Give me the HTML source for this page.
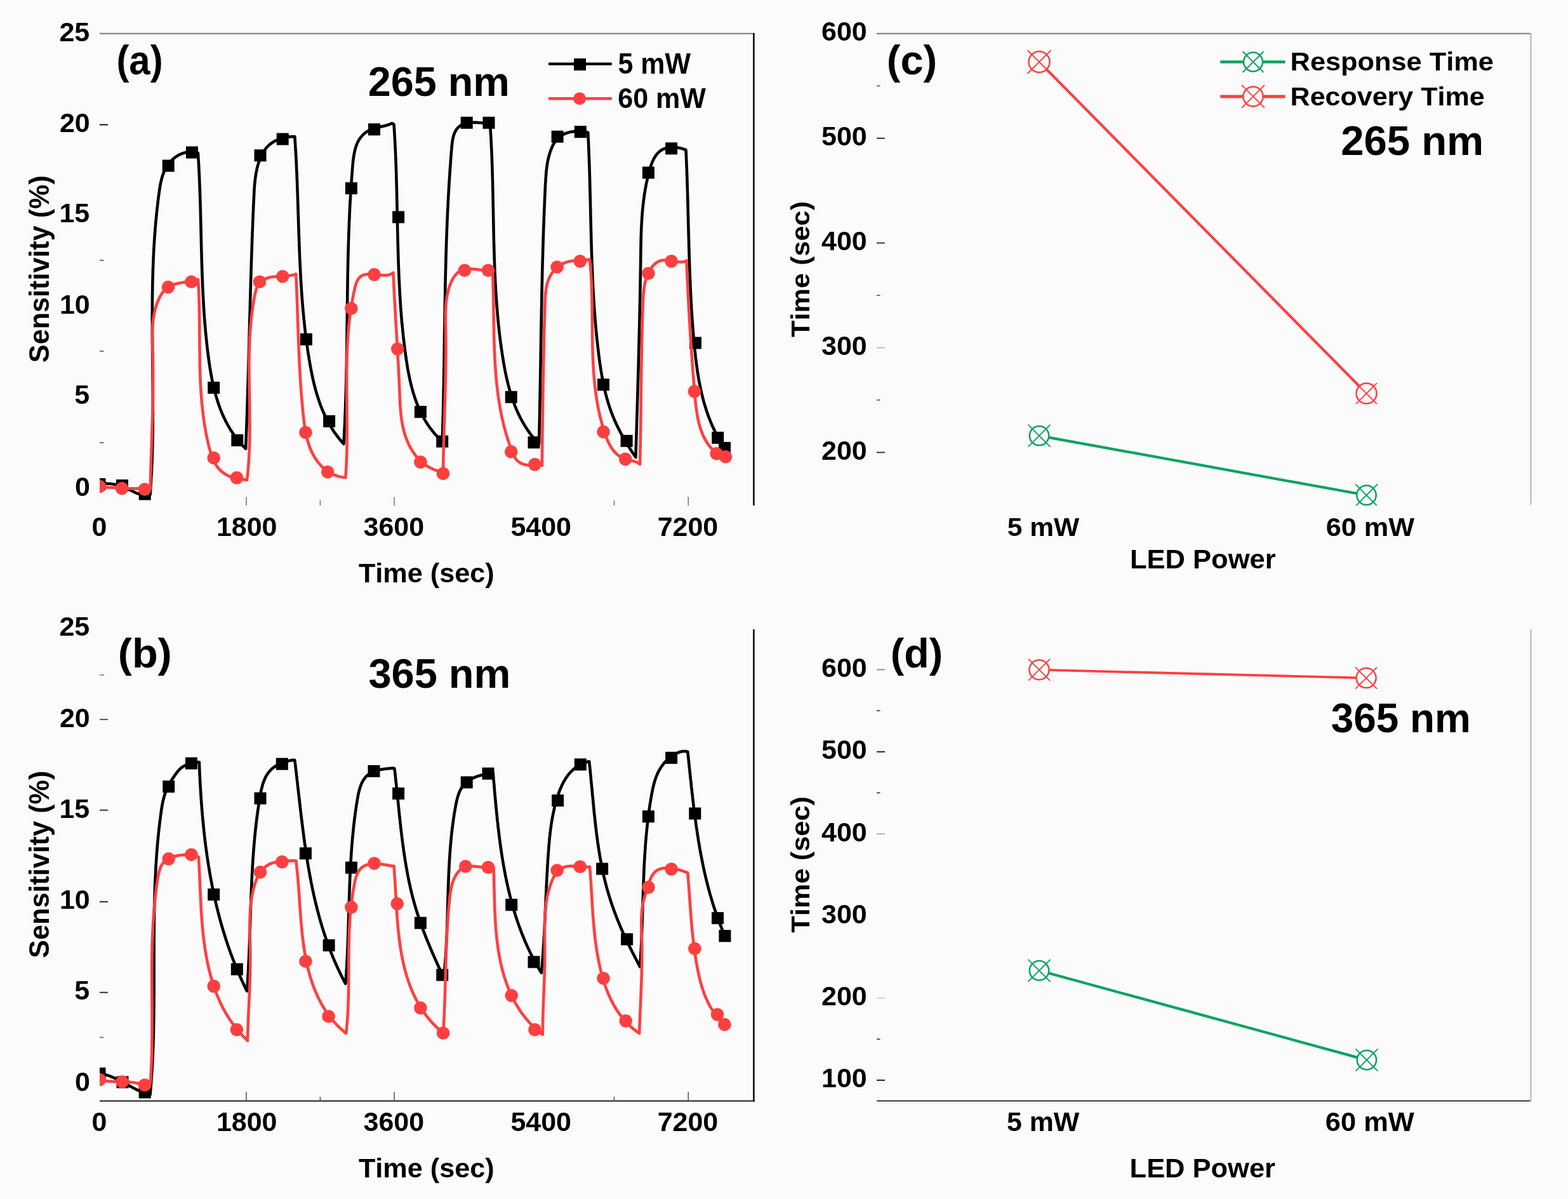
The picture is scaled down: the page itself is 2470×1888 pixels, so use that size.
<!DOCTYPE html><html><head><meta charset="utf-8"><style>html,body{margin:0;padding:0;background:#fcfbfc;}svg{display:block;}text{font-family:'Liberation Sans', Arial, sans-serif;font-weight:bold;fill:#000;font-kerning:none;}</style></head><body>
<svg width="2470" height="1888" viewBox="0 0 2470 1888">
<rect width="2470" height="1888" fill="#fcfbfc"/>
<line x1="157.0" y1="52.8" x2="1188.6" y2="52.8" stroke="#7f8a80" stroke-width="2.3"/>
<line x1="1187.4" y1="52.0" x2="1187.4" y2="796.0" stroke="#000" stroke-width="2.5"/>
<line x1="157.0" y1="196.4" x2="170.0" y2="196.4" stroke="#111" stroke-width="2.0"/>
<line x1="157.0" y1="410.0" x2="163.5" y2="410.0" stroke="#555" stroke-width="1.6"/>
<line x1="157.0" y1="553.0" x2="163.5" y2="553.0" stroke="#555" stroke-width="1.6"/>
<line x1="157.0" y1="697.0" x2="163.5" y2="697.0" stroke="#555" stroke-width="1.6"/>
<line x1="388.0" y1="782.5" x2="388.0" y2="796.0" stroke="#666" stroke-width="1.4"/>
<line x1="621.0" y1="782.5" x2="621.0" y2="796.0" stroke="#666" stroke-width="1.4"/>
<line x1="1084.2" y1="782.5" x2="1084.2" y2="796.0" stroke="#666" stroke-width="1.4"/>
<line x1="504.4" y1="787.8" x2="504.4" y2="796.0" stroke="#666" stroke-width="1.4"/>
<line x1="967.5" y1="787.8" x2="967.5" y2="796.0" stroke="#666" stroke-width="1.4"/>
<text transform="translate(93.42 64.59) scale(1.0250 1)" font-size="41.90">25</text>
<text transform="translate(93.99 207.99) scale(1.0250 1)" font-size="41.90">20</text>
<text transform="translate(93.42 350.29) scale(1.0250 1)" font-size="41.90">15</text>
<text transform="translate(93.99 493.89) scale(1.0250 1)" font-size="41.90">10</text>
<text transform="translate(117.31 636.39) scale(1.0250 1)" font-size="41.90">5</text>
<text transform="translate(117.88 780.59) scale(1.0250 1)" font-size="41.90">0</text>
<text transform="translate(144.59 844.39) scale(1.0250 1)" font-size="41.90">0</text>
<text transform="translate(340.96 844.39) scale(1.0250 1)" font-size="41.90">1800</text>
<text transform="translate(572.52 844.33) scale(1.0250 1)" font-size="41.90">3600</text>
<text transform="translate(804.45 844.39) scale(1.0250 1)" font-size="41.90">5400</text>
<text transform="translate(1035.69 844.39) scale(1.0250 1)" font-size="41.90">7200</text>
<text transform="translate(564.91 916.81) scale(0.9979 1)" font-size="43.34">Time (sec)</text>
<text transform="translate(0 569.90) rotate(-90) translate(-1.24 76.66) scale(0.9909 1)" font-size="43.56">Sensitivity (%)</text>
<text transform="translate(183.42 116.53) scale(0.9362 1)" font-size="63.94">(a)</text>
<text transform="translate(579.76 151.16) scale(0.9940 1)" font-size="65.11">265 nm</text>
<line x1="864.0" y1="100.6" x2="963.7" y2="100.6" stroke="#000" stroke-width="4.4"/>
<rect x="904" y="92" width="19" height="19" fill="#000"/>
<line x1="864.0" y1="155.3" x2="963.7" y2="155.3" stroke="#FF3F3F" stroke-width="4.4"/>
<circle cx="913" cy="155.3" r="10" fill="#FF3F3F"/>
<text transform="translate(973.48 116.05) scale(0.9251 1)" font-size="46.43">5 mW</text>
<text transform="translate(973.22 169.86) scale(0.9529 1)" font-size="45.20">60 mW</text>
<g clip-path="url(#clipa)">
<path d="M157.0 762.0 L159.0 761.8 L161.0 761.7 L163.0 761.6 L165.0 761.5 L167.0 761.5 L169.0 761.6 L171.1 761.7 L173.1 761.8 L175.1 762.0 L177.2 762.2 L179.2 762.5 L181.2 762.9 L183.2 763.3 L185.1 763.7 L187.1 764.2 L189.0 764.8 L190.9 765.4 L192.8 766.1 L194.7 766.9 L196.6 767.6 L198.4 768.5 L200.2 769.3 L202.0 770.2 L203.8 771.1 L205.6 772.0 L207.4 772.9 L209.2 773.8 L211.0 774.7 L212.8 775.5 L214.7 776.3 L216.5 777.0 L218.4 777.6 L220.3 778.2 L222.2 778.7 L224.1 779.0 L226.1 779.3 L228.1 779.4 L230.2 779.5 L232.2 779.4 L234.3 779.3 L236.5 779.0 L236.7 777.0 L236.8 775.0 L236.9 773.0 L237.1 771.0 L237.2 769.0 L237.4 767.0 L237.5 765.0 L237.6 763.0 L237.8 761.0 L237.9 759.0 L238.0 757.0 L238.1 755.0 L238.2 753.0 L238.3 751.0 L238.5 749.0 L238.6 747.0 L238.7 745.0 L238.8 743.0 L238.9 741.0 L239.0 739.0 L239.0 737.0 L239.1 735.0 L239.2 733.0 L239.3 731.0 L239.4 729.0 L239.5 727.0 L239.5 725.0 L239.6 723.0 L239.7 721.0 L239.8 719.0 L239.8 717.0 L239.9 715.0 L239.9 713.0 L240.0 711.0 L240.1 709.0 L240.1 707.0 L240.2 704.9 L240.2 702.9 L240.3 700.9 L240.3 698.9 L240.4 696.9 L240.4 694.9 L240.4 692.9 L240.5 690.9 L240.5 688.9 L240.5 686.9 L240.6 684.9 L240.6 682.9 L240.6 680.9 L240.7 678.9 L240.7 676.9 L240.7 674.9 L240.7 672.9 L240.8 670.9 L240.8 668.9 L240.8 666.9 L240.8 664.9 L240.8 662.9 L240.8 660.9 L240.8 658.9 L240.8 656.9 L240.9 654.9 L240.9 652.9 L240.9 650.9 L240.9 648.9 L240.9 646.9 L240.9 644.9 L240.9 642.9 L240.9 640.9 L240.9 638.9 L240.9 636.9 L240.9 634.9 L240.9 632.8 L240.9 630.8 L240.8 628.8 L240.8 626.8 L240.8 624.8 L240.8 622.8 L240.8 620.8 L240.8 618.8 L240.8 616.8 L240.8 614.8 L240.8 612.8 L240.7 610.8 L240.7 608.8 L240.7 606.8 L240.7 604.8 L240.7 602.8 L240.7 600.8 L240.6 598.8 L240.6 596.8 L240.6 594.8 L240.6 592.8 L240.6 590.8 L240.5 588.8 L240.5 586.8 L240.5 584.8 L240.5 582.8 L240.5 580.8 L240.4 578.8 L240.4 576.8 L240.4 574.8 L240.4 572.7 L240.4 570.7 L240.3 568.7 L240.3 566.7 L240.3 564.7 L240.3 562.7 L240.2 560.7 L240.2 558.7 L240.2 556.7 L240.2 554.7 L240.2 552.7 L240.1 550.7 L240.1 548.7 L240.1 546.7 L240.1 544.7 L240.1 542.7 L240.1 540.7 L240.0 538.7 L240.0 536.7 L240.0 534.7 L240.0 532.7 L240.0 530.7 L240.0 528.7 L239.9 526.7 L239.9 524.7 L239.9 522.7 L239.9 520.7 L239.9 518.7 L239.9 516.7 L239.9 514.7 L239.9 512.7 L239.9 510.7 L239.9 508.7 L239.9 506.6 L239.8 504.6 L239.8 502.6 L239.8 500.6 L239.8 498.6 L239.8 496.6 L239.8 494.6 L239.8 492.6 L239.9 490.6 L239.9 488.6 L239.9 486.6 L239.9 484.6 L239.9 482.6 L239.9 480.6 L239.9 478.6 L239.9 476.6 L239.9 474.6 L240.0 472.6 L240.0 470.6 L240.0 468.6 L240.0 466.6 L240.0 464.6 L240.1 462.6 L240.1 460.6 L240.1 458.6 L240.2 456.6 L240.2 454.6 L240.2 452.6 L240.3 450.6 L240.3 448.6 L240.3 446.6 L240.4 444.6 L240.4 442.6 L240.5 440.6 L240.5 438.6 L240.6 436.6 L240.6 434.6 L240.7 432.6 L240.8 430.6 L240.8 428.6 L240.9 426.6 L240.9 424.6 L241.0 422.6 L241.1 420.6 L241.2 418.6 L241.2 416.6 L241.3 414.6 L241.4 412.6 L241.5 410.6 L241.6 408.6 L241.6 406.6 L241.7 404.6 L241.8 402.6 L241.9 400.6 L242.0 398.6 L242.1 396.6 L242.2 394.6 L242.3 392.6 L242.4 390.6 L242.6 388.6 L242.7 386.6 L242.8 384.6 L242.9 382.6 L243.0 380.6 L243.2 378.6 L243.3 376.6 L243.4 374.6 L243.6 372.6 L243.7 370.6 L243.9 368.6 L244.0 366.6 L244.2 364.6 L244.3 362.6 L244.5 360.6 L244.6 358.6 L244.8 356.6 L245.0 354.6 L245.1 352.6 L245.3 350.6 L245.5 348.6 L245.7 346.6 L245.9 344.6 L246.1 342.6 L246.3 340.6 L246.5 338.6 L246.7 336.6 L246.9 334.6 L247.1 332.6 L247.3 330.6 L247.5 328.6 L247.7 326.6 L248.0 324.6 L248.2 322.6 L248.4 320.6 L248.7 318.6 L248.9 316.6 L249.1 314.7 L249.4 312.7 L249.6 310.7 L249.9 308.7 L250.2 306.7 L250.4 304.7 L250.7 302.7 L251.0 300.7 L251.3 298.7 L251.6 296.7 L251.9 294.7 L252.2 292.7 L252.6 290.8 L252.9 288.8 L253.4 286.8 L253.8 284.9 L254.3 283.0 L254.8 281.1 L255.3 279.1 L255.9 277.3 L256.5 275.4 L257.2 273.5 L257.9 271.7 L258.7 269.9 L259.5 268.1 L260.4 266.3 L261.4 264.6 L262.4 262.9 L263.4 261.2 L264.5 259.6 L265.7 258.0 L266.9 256.5 L268.1 255.0 L269.5 253.5 L270.8 252.1 L272.2 250.8 L273.7 249.5 L275.2 248.2 L276.8 247.1 L278.4 246.0 L280.1 245.0 L281.8 244.0 L283.6 243.2 L285.4 242.4 L287.2 241.7 L289.1 241.0 L291.0 240.5 L293.0 240.1 L295.0 239.7 L297.0 239.5 L299.0 239.4 L301.1 239.4 L303.2 239.5 L305.4 239.7 L307.5 240.0 L309.7 240.4 L311.9 241.0 L312.0 243.0 L312.2 245.0 L312.3 247.0 L312.4 248.9 L312.5 250.9 L312.7 252.9 L312.8 254.9 L312.9 256.9 L313.0 258.9 L313.1 260.9 L313.2 262.9 L313.3 264.9 L313.4 266.9 L313.5 268.9 L313.6 270.8 L313.7 272.8 L313.8 274.8 L313.9 276.8 L314.0 278.8 L314.1 280.8 L314.2 282.8 L314.2 284.8 L314.3 286.8 L314.4 288.8 L314.5 290.8 L314.6 292.8 L314.6 294.8 L314.7 296.8 L314.8 298.8 L314.9 300.8 L314.9 302.8 L315.0 304.8 L315.1 306.8 L315.1 308.8 L315.2 310.8 L315.3 312.8 L315.3 314.8 L315.4 316.8 L315.4 318.8 L315.5 320.8 L315.6 322.8 L315.6 324.8 L315.7 326.8 L315.7 328.8 L315.8 330.8 L315.8 332.8 L315.9 334.8 L315.9 336.9 L316.0 338.9 L316.0 340.9 L316.1 342.9 L316.1 344.9 L316.2 346.9 L316.2 348.9 L316.3 350.9 L316.3 352.9 L316.4 354.9 L316.4 356.9 L316.5 358.9 L316.5 360.9 L316.6 363.0 L316.6 365.0 L316.7 367.0 L316.7 369.0 L316.8 371.0 L316.8 373.0 L316.9 375.0 L316.9 377.0 L316.9 379.0 L317.0 381.0 L317.0 383.1 L317.1 385.1 L317.1 387.1 L317.2 389.1 L317.2 391.1 L317.3 393.1 L317.3 395.1 L317.4 397.1 L317.5 399.1 L317.5 401.2 L317.6 403.2 L317.6 405.2 L317.7 407.2 L317.7 409.2 L317.8 411.2 L317.8 413.2 L317.9 415.2 L318.0 417.3 L318.0 419.3 L318.1 421.3 L318.2 423.3 L318.2 425.3 L318.3 427.3 L318.4 429.3 L318.4 431.3 L318.5 433.4 L318.6 435.4 L318.7 437.4 L318.7 439.4 L318.8 441.4 L318.9 443.4 L319.0 445.4 L319.1 447.4 L319.1 449.5 L319.2 451.5 L319.3 453.5 L319.4 455.5 L319.5 457.5 L319.6 459.5 L319.7 461.5 L319.8 463.5 L319.9 465.5 L320.0 467.6 L320.1 469.6 L320.2 471.6 L320.3 473.6 L320.4 475.6 L320.6 477.6 L320.7 479.6 L320.8 481.6 L320.9 483.6 L321.0 485.7 L321.2 487.7 L321.3 489.7 L321.4 491.7 L321.6 493.7 L321.7 495.7 L321.9 497.7 L322.0 499.7 L322.2 501.7 L322.3 503.7 L322.5 505.8 L322.6 507.8 L322.8 509.8 L322.9 511.8 L323.1 513.8 L323.3 515.8 L323.5 517.8 L323.6 519.8 L323.8 521.8 L324.0 523.8 L324.2 525.8 L324.4 527.8 L324.6 529.8 L324.8 531.8 L325.0 533.8 L325.2 535.8 L325.4 537.8 L325.6 539.9 L325.8 541.9 L326.1 543.9 L326.3 545.9 L326.5 547.9 L326.7 549.9 L327.0 551.9 L327.2 553.9 L327.5 555.9 L327.7 557.9 L328.0 559.9 L328.2 561.9 L328.5 563.9 L328.8 565.9 L329.1 567.9 L329.3 569.9 L329.6 571.8 L329.9 573.8 L330.2 575.8 L330.5 577.8 L330.8 579.8 L331.2 581.8 L331.5 583.8 L331.8 585.8 L332.2 587.7 L332.5 589.7 L332.9 591.7 L333.3 593.6 L333.6 595.6 L334.0 597.6 L334.4 599.5 L334.8 601.5 L335.2 603.4 L335.7 605.4 L336.1 607.3 L336.6 609.3 L337.0 611.2 L337.5 613.1 L338.0 615.1 L338.5 617.0 L339.0 618.9 L339.5 620.8 L340.0 622.7 L340.6 624.6 L341.2 626.5 L341.7 628.4 L342.3 630.3 L342.9 632.2 L343.5 634.1 L344.2 635.9 L344.8 637.8 L345.5 639.6 L346.1 641.5 L346.8 643.3 L347.5 645.1 L348.3 647.0 L349.0 648.8 L349.7 650.6 L350.5 652.4 L351.3 654.2 L352.1 656.0 L352.9 657.8 L353.8 659.5 L354.6 661.3 L355.5 663.1 L356.4 664.8 L357.3 666.5 L358.3 668.3 L359.2 670.0 L360.2 671.7 L361.2 673.4 L362.2 675.1 L363.2 676.8 L364.3 678.4 L365.4 680.1 L366.5 681.8 L367.6 683.4 L368.7 685.0 L369.9 686.7 L371.1 688.3 L372.3 689.9 L373.5 691.5 L374.8 693.0 L376.0 694.6 L377.3 696.1 L378.6 697.7 L380.0 699.2 L381.4 700.7 L382.8 702.3 L384.2 703.7 L385.6 705.2 L387.1 706.7 L387.2 704.7 L387.3 702.7 L387.3 700.6 L387.4 698.6 L387.5 696.6 L387.6 694.6 L387.7 692.6 L387.7 690.5 L387.8 688.5 L387.9 686.5 L388.0 684.5 L388.0 682.5 L388.1 680.4 L388.2 678.4 L388.3 676.4 L388.3 674.4 L388.4 672.4 L388.5 670.4 L388.5 668.4 L388.6 666.3 L388.7 664.3 L388.7 662.3 L388.8 660.3 L388.9 658.3 L389.0 656.3 L389.0 654.3 L389.1 652.3 L389.2 650.3 L389.2 648.3 L389.3 646.2 L389.4 644.2 L389.4 642.2 L389.5 640.2 L389.5 638.2 L389.6 636.2 L389.7 634.2 L389.7 632.2 L389.8 630.2 L389.9 628.2 L389.9 626.2 L390.0 624.2 L390.0 622.2 L390.1 620.2 L390.2 618.2 L390.2 616.2 L390.3 614.2 L390.3 612.2 L390.4 610.2 L390.5 608.2 L390.5 606.1 L390.6 604.1 L390.6 602.1 L390.7 600.1 L390.8 598.1 L390.8 596.1 L390.9 594.1 L390.9 592.1 L391.0 590.1 L391.0 588.1 L391.1 586.1 L391.2 584.1 L391.2 582.1 L391.3 580.1 L391.3 578.1 L391.4 576.1 L391.4 574.1 L391.5 572.1 L391.5 570.1 L391.6 568.2 L391.7 566.2 L391.7 564.2 L391.8 562.2 L391.8 560.2 L391.9 558.2 L391.9 556.2 L392.0 554.2 L392.0 552.2 L392.1 550.2 L392.1 548.2 L392.2 546.2 L392.3 544.2 L392.3 542.2 L392.4 540.2 L392.4 538.2 L392.5 536.2 L392.5 534.2 L392.6 532.2 L392.6 530.2 L392.7 528.2 L392.7 526.2 L392.8 524.2 L392.8 522.2 L392.9 520.2 L392.9 518.2 L393.0 516.2 L393.1 514.2 L393.1 512.2 L393.2 510.2 L393.2 508.2 L393.3 506.2 L393.3 504.2 L393.4 502.2 L393.4 500.2 L393.5 498.2 L393.5 496.2 L393.6 494.2 L393.6 492.2 L393.7 490.2 L393.8 488.3 L393.8 486.3 L393.9 484.3 L393.9 482.3 L394.0 480.3 L394.0 478.3 L394.1 476.3 L394.1 474.3 L394.2 472.3 L394.3 470.3 L394.3 468.3 L394.4 466.3 L394.4 464.3 L394.5 462.3 L394.5 460.3 L394.6 458.3 L394.6 456.3 L394.7 454.3 L394.8 452.2 L394.8 450.2 L394.9 448.2 L394.9 446.2 L395.0 444.2 L395.1 442.2 L395.1 440.2 L395.2 438.2 L395.2 436.2 L395.3 434.2 L395.4 432.2 L395.4 430.2 L395.5 428.2 L395.5 426.2 L395.6 424.2 L395.7 422.2 L395.7 420.2 L395.8 418.2 L395.9 416.2 L395.9 414.2 L396.0 412.1 L396.1 410.1 L396.1 408.1 L396.2 406.1 L396.2 404.1 L396.3 402.1 L396.4 400.1 L396.4 398.1 L396.5 396.1 L396.6 394.0 L396.7 392.0 L396.7 390.0 L396.8 388.0 L396.9 386.0 L396.9 384.0 L397.0 382.0 L397.1 379.9 L397.1 377.9 L397.2 375.9 L397.3 373.9 L397.4 371.9 L397.4 369.9 L397.5 367.8 L397.6 365.8 L397.7 363.8 L397.7 361.8 L397.8 359.8 L397.9 357.7 L398.0 355.7 L398.1 353.7 L398.1 351.7 L398.2 349.7 L398.3 347.6 L398.4 345.6 L398.5 343.6 L398.5 341.5 L398.6 339.5 L398.7 337.5 L398.8 335.5 L398.9 333.4 L399.0 331.4 L399.1 329.4 L399.1 327.3 L399.2 325.3 L399.3 323.3 L399.4 321.3 L399.5 319.2 L399.6 317.2 L399.7 315.1 L399.8 313.1 L399.9 311.1 L400.0 309.0 L400.1 307.0 L400.2 305.0 L400.3 302.9 L400.4 300.9 L400.5 298.9 L400.6 296.8 L400.8 294.8 L400.9 292.8 L401.1 290.8 L401.3 288.8 L401.5 286.8 L401.7 284.8 L401.9 282.8 L402.1 280.8 L402.4 278.8 L402.7 276.8 L403.0 274.8 L403.3 272.9 L403.7 270.9 L404.1 269.0 L404.5 267.1 L404.9 265.1 L405.4 263.2 L405.9 261.3 L406.4 259.5 L407.0 257.6 L407.6 255.7 L408.2 253.9 L408.9 252.1 L409.6 250.2 L410.4 248.4 L411.1 246.6 L412.0 244.9 L412.8 243.1 L413.8 241.4 L414.7 239.7 L415.8 238.0 L416.8 236.4 L418.0 234.8 L419.2 233.3 L420.4 231.8 L421.8 230.4 L423.2 229.1 L424.6 227.8 L426.1 226.6 L427.7 225.4 L429.4 224.3 L431.0 223.3 L432.8 222.3 L434.5 221.4 L436.3 220.5 L438.2 219.7 L440.1 219.0 L442.0 218.4 L443.9 217.7 L445.9 217.2 L447.9 216.7 L449.9 216.3 L451.9 215.9 L454.0 215.6 L456.0 215.4 L458.1 215.2 L460.2 215.1 L462.2 215.0 L464.3 215.0 L464.4 217.0 L464.6 219.0 L464.7 221.0 L464.8 222.9 L465.0 224.9 L465.1 226.9 L465.2 228.9 L465.3 230.9 L465.5 232.9 L465.6 234.9 L465.7 236.9 L465.8 238.9 L465.9 240.9 L466.0 242.8 L466.2 244.8 L466.3 246.8 L466.4 248.8 L466.5 250.8 L466.6 252.8 L466.7 254.8 L466.8 256.8 L466.9 258.8 L467.0 260.8 L467.0 262.8 L467.1 264.8 L467.2 266.8 L467.3 268.8 L467.4 270.8 L467.5 272.8 L467.6 274.8 L467.7 276.8 L467.7 278.8 L467.8 280.8 L467.9 282.8 L468.0 284.8 L468.1 286.8 L468.1 288.8 L468.2 290.8 L468.3 292.8 L468.3 294.8 L468.4 296.8 L468.5 298.8 L468.6 300.8 L468.6 302.8 L468.7 304.8 L468.8 306.8 L468.8 308.8 L468.9 310.8 L469.0 312.8 L469.0 314.8 L469.1 316.8 L469.2 318.8 L469.2 320.8 L469.3 322.8 L469.4 324.8 L469.4 326.8 L469.5 328.8 L469.6 330.8 L469.6 332.8 L469.7 334.8 L469.7 336.8 L469.8 338.8 L469.9 340.8 L469.9 342.8 L470.0 344.8 L470.1 346.8 L470.1 348.9 L470.2 350.9 L470.2 352.9 L470.3 354.9 L470.4 356.9 L470.4 358.9 L470.5 360.9 L470.6 362.9 L470.6 364.9 L470.7 366.9 L470.8 368.9 L470.8 370.9 L470.9 372.9 L471.0 374.9 L471.0 376.9 L471.1 378.9 L471.2 380.9 L471.3 382.9 L471.3 384.9 L471.4 387.0 L471.5 389.0 L471.6 391.0 L471.6 393.0 L471.7 395.0 L471.8 397.0 L471.9 399.0 L472.0 401.0 L472.0 403.0 L472.1 405.0 L472.2 407.0 L472.3 409.0 L472.4 411.0 L472.5 413.0 L472.6 415.0 L472.7 417.0 L472.8 419.0 L472.9 421.0 L473.0 423.0 L473.1 425.0 L473.2 427.0 L473.3 429.0 L473.4 431.0 L473.5 433.0 L473.6 435.0 L473.7 437.0 L473.8 439.1 L473.9 441.1 L474.0 443.1 L474.2 445.1 L474.3 447.1 L474.4 449.1 L474.5 451.1 L474.7 453.1 L474.8 455.1 L474.9 457.1 L475.1 459.1 L475.2 461.1 L475.3 463.1 L475.5 465.1 L475.6 467.0 L475.8 469.0 L475.9 471.0 L476.1 473.0 L476.2 475.0 L476.4 477.0 L476.6 479.0 L476.7 481.0 L476.9 483.0 L477.1 485.0 L477.2 487.0 L477.4 489.0 L477.6 491.0 L477.8 493.0 L478.0 495.0 L478.2 497.0 L478.4 499.0 L478.5 501.0 L478.7 503.0 L479.0 504.9 L479.2 506.9 L479.4 508.9 L479.6 510.9 L479.8 512.9 L480.0 514.9 L480.2 516.9 L480.5 518.9 L480.7 520.9 L480.9 522.8 L481.2 524.8 L481.4 526.8 L481.7 528.8 L481.9 530.8 L482.2 532.8 L482.4 534.8 L482.7 536.7 L482.9 538.7 L483.2 540.7 L483.5 542.7 L483.8 544.7 L484.1 546.6 L484.3 548.6 L484.6 550.6 L484.9 552.6 L485.2 554.6 L485.5 556.5 L485.8 558.5 L486.2 560.5 L486.5 562.5 L486.8 564.4 L487.1 566.4 L487.5 568.4 L487.8 570.4 L488.1 572.3 L488.5 574.3 L488.8 576.3 L489.2 578.2 L489.6 580.2 L489.9 582.2 L490.3 584.1 L490.7 586.1 L491.1 588.1 L491.5 590.0 L491.9 592.0 L492.3 593.9 L492.7 595.9 L493.2 597.8 L493.6 599.8 L494.1 601.7 L494.5 603.6 L495.0 605.6 L495.5 607.5 L496.0 609.4 L496.5 611.3 L497.0 613.3 L497.5 615.2 L498.1 617.1 L498.6 619.0 L499.2 620.9 L499.8 622.8 L500.4 624.7 L501.0 626.5 L501.6 628.4 L502.2 630.3 L502.8 632.2 L503.5 634.0 L504.2 635.9 L504.8 637.7 L505.5 639.6 L506.3 641.4 L507.0 643.2 L507.7 645.1 L508.5 646.9 L509.3 648.7 L510.1 650.5 L510.9 652.3 L511.7 654.1 L512.5 655.9 L513.4 657.6 L514.3 659.4 L515.2 661.2 L516.1 662.9 L517.0 664.6 L518.0 666.4 L518.9 668.1 L519.9 669.8 L520.9 671.5 L522.0 673.2 L523.0 674.9 L524.1 676.6 L525.2 678.2 L526.3 679.9 L527.4 681.6 L528.6 683.2 L529.8 684.8 L531.0 686.4 L532.2 688.0 L533.4 689.6 L534.7 691.2 L536.0 692.8 L537.3 694.4 L538.7 695.9 L540.0 697.5 L541.4 699.0 L541.5 697.0 L541.6 695.0 L541.8 693.0 L541.9 690.9 L542.0 688.9 L542.1 686.9 L542.2 684.9 L542.3 682.9 L542.4 680.9 L542.5 678.9 L542.6 676.9 L542.7 674.9 L542.8 672.9 L542.9 670.8 L543.0 668.8 L543.1 666.8 L543.2 664.8 L543.3 662.8 L543.3 660.8 L543.4 658.8 L543.5 656.8 L543.6 654.8 L543.7 652.8 L543.8 650.8 L543.8 648.8 L543.9 646.8 L544.0 644.8 L544.1 642.8 L544.1 640.8 L544.2 638.8 L544.3 636.8 L544.3 634.8 L544.4 632.8 L544.5 630.8 L544.5 628.8 L544.6 626.8 L544.6 624.8 L544.7 622.8 L544.8 620.8 L544.8 618.8 L544.9 616.8 L544.9 614.8 L545.0 612.8 L545.0 610.8 L545.1 608.8 L545.1 606.8 L545.2 604.8 L545.2 602.8 L545.3 600.8 L545.3 598.8 L545.4 596.8 L545.4 594.8 L545.5 592.8 L545.5 590.8 L545.6 588.8 L545.6 586.8 L545.6 584.8 L545.7 582.8 L545.7 580.8 L545.8 578.8 L545.8 576.8 L545.8 574.9 L545.9 572.9 L545.9 570.9 L545.9 568.9 L546.0 566.9 L546.0 564.9 L546.0 562.9 L546.1 560.9 L546.1 558.9 L546.1 556.9 L546.1 554.9 L546.2 552.9 L546.2 550.9 L546.2 548.9 L546.3 546.9 L546.3 545.0 L546.3 543.0 L546.3 541.0 L546.4 539.0 L546.4 537.0 L546.4 535.0 L546.4 533.0 L546.5 531.0 L546.5 529.0 L546.5 527.0 L546.5 525.0 L546.6 523.0 L546.6 521.1 L546.6 519.1 L546.6 517.1 L546.7 515.1 L546.7 513.1 L546.7 511.1 L546.7 509.1 L546.8 507.1 L546.8 505.1 L546.8 503.1 L546.8 501.1 L546.8 499.2 L546.9 497.2 L546.9 495.2 L546.9 493.2 L546.9 491.2 L547.0 489.2 L547.0 487.2 L547.0 485.2 L547.0 483.2 L547.1 481.2 L547.1 479.2 L547.1 477.2 L547.1 475.3 L547.2 473.3 L547.2 471.3 L547.2 469.3 L547.2 467.3 L547.3 465.3 L547.3 463.3 L547.3 461.3 L547.3 459.3 L547.4 457.3 L547.4 455.3 L547.4 453.3 L547.5 451.3 L547.5 449.3 L547.5 447.3 L547.5 445.4 L547.6 443.4 L547.6 441.4 L547.6 439.4 L547.7 437.4 L547.7 435.4 L547.7 433.4 L547.8 431.4 L547.8 429.4 L547.9 427.4 L547.9 425.4 L547.9 423.4 L548.0 421.4 L548.0 419.4 L548.1 417.4 L548.1 415.4 L548.1 413.4 L548.2 411.4 L548.2 409.4 L548.3 407.4 L548.3 405.4 L548.4 403.4 L548.4 401.4 L548.5 399.4 L548.5 397.4 L548.6 395.4 L548.6 393.4 L548.7 391.4 L548.7 389.4 L548.8 387.4 L548.8 385.4 L548.9 383.4 L549.0 381.4 L549.0 379.4 L549.1 377.4 L549.2 375.4 L549.2 373.4 L549.3 371.4 L549.4 369.4 L549.4 367.4 L549.5 365.4 L549.6 363.4 L549.6 361.4 L549.7 359.4 L549.8 357.4 L549.9 355.4 L549.9 353.4 L550.0 351.3 L550.1 349.3 L550.2 347.3 L550.3 345.3 L550.4 343.3 L550.5 341.3 L550.5 339.3 L550.6 337.3 L550.7 335.3 L550.8 333.3 L550.9 331.2 L551.0 329.2 L551.1 327.2 L551.2 325.2 L551.3 323.2 L551.4 321.2 L551.5 319.2 L551.6 317.1 L551.8 315.1 L551.9 313.1 L552.0 311.1 L552.1 309.1 L552.2 307.1 L552.3 305.0 L552.5 303.0 L552.6 301.0 L552.7 299.0 L552.9 297.0 L553.0 294.9 L553.1 292.9 L553.3 290.9 L553.4 288.9 L553.5 286.8 L553.7 284.8 L553.8 282.8 L554.0 280.8 L554.1 278.7 L554.3 276.7 L554.4 274.7 L554.6 272.7 L554.7 270.6 L554.9 268.6 L555.1 266.6 L555.2 264.5 L555.4 262.5 L555.6 260.5 L555.7 258.5 L555.9 256.4 L556.1 254.4 L556.4 252.4 L556.6 250.4 L556.9 248.4 L557.1 246.5 L557.5 244.5 L557.8 242.6 L558.2 240.7 L558.6 238.8 L559.0 236.9 L559.5 235.0 L560.0 233.2 L560.5 231.4 L561.1 229.6 L561.8 227.9 L562.5 226.2 L563.2 224.5 L564.0 222.9 L564.9 221.3 L565.8 219.7 L566.8 218.2 L567.9 216.8 L569.0 215.3 L570.2 214.0 L571.4 212.6 L572.8 211.3 L574.2 210.1 L575.7 208.9 L577.3 207.8 L578.9 206.8 L580.7 205.8 L582.5 204.8 L584.5 203.9 L586.5 203.1 L588.6 202.4 L590.8 201.7 L593.1 201.0 L595.4 200.5 L597.7 199.9 L600.1 199.4 L602.3 198.9 L604.6 198.4 L606.7 197.9 L608.7 197.4 L610.6 196.8 L612.4 196.3 L614.0 195.7 L615.3 195.1 L616.5 194.4 L617.9 194.3 L620.5 196.0 L620.6 198.0 L620.8 200.0 L620.9 202.0 L621.0 204.0 L621.2 206.0 L621.3 208.0 L621.4 210.0 L621.5 212.0 L621.6 214.0 L621.8 216.0 L621.9 218.0 L622.0 220.0 L622.1 222.0 L622.2 224.0 L622.3 226.0 L622.4 228.0 L622.5 230.0 L622.6 232.0 L622.7 234.0 L622.8 236.0 L622.9 238.0 L623.0 240.0 L623.1 242.0 L623.1 244.0 L623.2 246.0 L623.3 248.0 L623.4 250.0 L623.5 252.0 L623.5 254.0 L623.6 256.0 L623.7 258.0 L623.8 260.0 L623.8 262.0 L623.9 264.0 L624.0 266.0 L624.0 268.0 L624.1 270.0 L624.2 272.0 L624.2 274.0 L624.3 276.0 L624.3 278.0 L624.4 280.0 L624.4 282.0 L624.5 284.0 L624.6 286.0 L624.6 288.0 L624.7 290.0 L624.7 292.0 L624.8 294.0 L624.8 296.1 L624.9 298.1 L624.9 300.1 L625.0 302.1 L625.0 304.1 L625.1 306.1 L625.1 308.1 L625.1 310.1 L625.2 312.1 L625.2 314.1 L625.3 316.1 L625.3 318.1 L625.4 320.1 L625.4 322.1 L625.4 324.1 L625.5 326.1 L625.5 328.1 L625.6 330.2 L625.6 332.2 L625.7 334.2 L625.7 336.2 L625.7 338.2 L625.8 340.2 L625.8 342.2 L625.9 344.2 L625.9 346.2 L625.9 348.2 L626.0 350.2 L626.0 352.2 L626.1 354.2 L626.1 356.2 L626.1 358.2 L626.2 360.3 L626.2 362.3 L626.3 364.3 L626.3 366.3 L626.4 368.3 L626.4 370.3 L626.5 372.3 L626.5 374.3 L626.6 376.3 L626.6 378.3 L626.6 380.3 L626.7 382.3 L626.8 384.3 L626.8 386.4 L626.9 388.4 L626.9 390.4 L627.0 392.4 L627.0 394.4 L627.1 396.4 L627.1 398.4 L627.2 400.4 L627.3 402.4 L627.3 404.4 L627.4 406.4 L627.4 408.4 L627.5 410.4 L627.6 412.4 L627.6 414.5 L627.7 416.5 L627.8 418.5 L627.9 420.5 L627.9 422.5 L628.0 424.5 L628.1 426.5 L628.2 428.5 L628.2 430.5 L628.3 432.5 L628.4 434.5 L628.5 436.5 L628.6 438.5 L628.7 440.5 L628.8 442.6 L628.9 444.6 L629.0 446.6 L629.1 448.6 L629.2 450.6 L629.3 452.6 L629.4 454.6 L629.5 456.6 L629.6 458.6 L629.7 460.6 L629.8 462.6 L629.9 464.6 L630.1 466.6 L630.2 468.6 L630.3 470.6 L630.4 472.6 L630.6 474.6 L630.7 476.6 L630.8 478.7 L631.0 480.7 L631.1 482.7 L631.2 484.7 L631.4 486.7 L631.5 488.7 L631.7 490.7 L631.9 492.7 L632.0 494.7 L632.2 496.7 L632.3 498.7 L632.5 500.7 L632.7 502.7 L632.8 504.7 L633.0 506.7 L633.2 508.7 L633.4 510.7 L633.6 512.7 L633.8 514.7 L634.0 516.7 L634.2 518.7 L634.4 520.7 L634.6 522.7 L634.8 524.7 L635.0 526.7 L635.2 528.7 L635.4 530.7 L635.6 532.7 L635.9 534.7 L636.1 536.7 L636.3 538.7 L636.6 540.7 L636.8 542.7 L637.1 544.7 L637.3 546.7 L637.6 548.7 L637.8 550.7 L638.1 552.7 L638.4 554.7 L638.6 556.7 L638.9 558.7 L639.2 560.7 L639.5 562.7 L639.8 564.7 L640.0 566.7 L640.4 568.7 L640.7 570.7 L641.0 572.7 L641.3 574.7 L641.6 576.7 L642.0 578.7 L642.3 580.6 L642.7 582.6 L643.0 584.6 L643.4 586.6 L643.8 588.5 L644.2 590.5 L644.5 592.5 L645.0 594.4 L645.4 596.4 L645.8 598.4 L646.2 600.3 L646.7 602.2 L647.2 604.2 L647.6 606.1 L648.1 608.0 L648.6 610.0 L649.1 611.9 L649.7 613.8 L650.2 615.7 L650.7 617.6 L651.3 619.5 L651.9 621.4 L652.5 623.3 L653.1 625.1 L653.7 627.0 L654.4 628.9 L655.0 630.7 L655.7 632.6 L656.4 634.4 L657.1 636.2 L657.8 638.1 L658.6 639.9 L659.3 641.7 L660.1 643.5 L660.9 645.3 L661.7 647.0 L662.6 648.8 L663.4 650.6 L664.3 652.3 L665.2 654.0 L666.1 655.8 L667.1 657.5 L668.0 659.2 L669.0 660.9 L670.0 662.6 L671.0 664.3 L672.1 665.9 L673.2 667.6 L674.2 669.2 L675.4 670.8 L676.5 672.5 L677.7 674.1 L678.9 675.6 L680.1 677.2 L681.3 678.8 L682.6 680.3 L683.9 681.9 L685.2 683.4 L686.5 684.9 L687.9 686.4 L689.3 687.9 L690.7 689.4 L692.2 690.8 L693.7 692.3 L695.2 693.7 L696.7 695.1 L696.8 693.1 L696.8 691.1 L696.9 689.0 L697.0 687.0 L697.0 685.0 L697.1 683.0 L697.1 681.0 L697.2 678.9 L697.3 676.9 L697.3 674.9 L697.4 672.9 L697.4 670.9 L697.5 668.9 L697.6 666.8 L697.6 664.8 L697.7 662.8 L697.7 660.8 L697.8 658.8 L697.8 656.8 L697.9 654.8 L697.9 652.8 L698.0 650.8 L698.0 648.7 L698.1 646.7 L698.1 644.7 L698.2 642.7 L698.2 640.7 L698.2 638.7 L698.3 636.7 L698.3 634.7 L698.4 632.7 L698.4 630.7 L698.5 628.7 L698.5 626.7 L698.5 624.7 L698.6 622.7 L698.6 620.7 L698.7 618.7 L698.7 616.7 L698.7 614.7 L698.8 612.7 L698.8 610.7 L698.9 608.7 L698.9 606.7 L698.9 604.7 L699.0 602.7 L699.0 600.7 L699.0 598.7 L699.1 596.7 L699.1 594.7 L699.1 592.7 L699.2 590.7 L699.2 588.7 L699.2 586.7 L699.3 584.7 L699.3 582.7 L699.3 580.7 L699.4 578.7 L699.4 576.7 L699.4 574.7 L699.5 572.8 L699.5 570.8 L699.5 568.8 L699.5 566.8 L699.6 564.8 L699.6 562.8 L699.6 560.8 L699.7 558.8 L699.7 556.8 L699.7 554.8 L699.8 552.8 L699.8 550.9 L699.8 548.9 L699.8 546.9 L699.9 544.9 L699.9 542.9 L699.9 540.9 L700.0 538.9 L700.0 536.9 L700.0 534.9 L700.0 532.9 L700.1 531.0 L700.1 529.0 L700.1 527.0 L700.2 525.0 L700.2 523.0 L700.2 521.0 L700.2 519.0 L700.3 517.0 L700.3 515.1 L700.3 513.1 L700.4 511.1 L700.4 509.1 L700.4 507.1 L700.5 505.1 L700.5 503.1 L700.5 501.1 L700.5 499.2 L700.6 497.2 L700.6 495.2 L700.6 493.2 L700.7 491.2 L700.7 489.2 L700.7 487.2 L700.8 485.2 L700.8 483.2 L700.8 481.3 L700.9 479.3 L700.9 477.3 L700.9 475.3 L701.0 473.3 L701.0 471.3 L701.0 469.3 L701.1 467.3 L701.1 465.4 L701.2 463.4 L701.2 461.4 L701.2 459.4 L701.3 457.4 L701.3 455.4 L701.3 453.4 L701.4 451.4 L701.4 449.4 L701.5 447.4 L701.5 445.5 L701.6 443.5 L701.6 441.5 L701.6 439.5 L701.7 437.5 L701.7 435.5 L701.8 433.5 L701.8 431.5 L701.9 429.5 L701.9 427.5 L702.0 425.5 L702.0 423.5 L702.1 421.5 L702.1 419.6 L702.2 417.6 L702.2 415.6 L702.3 413.6 L702.3 411.6 L702.4 409.6 L702.4 407.6 L702.5 405.6 L702.5 403.6 L702.6 401.6 L702.6 399.6 L702.7 397.6 L702.8 395.6 L702.8 393.6 L702.9 391.6 L703.0 389.6 L703.0 387.6 L703.1 385.6 L703.1 383.6 L703.2 381.6 L703.3 379.6 L703.3 377.6 L703.4 375.6 L703.5 373.6 L703.6 371.6 L703.6 369.6 L703.7 367.6 L703.8 365.6 L703.8 363.6 L703.9 361.6 L704.0 359.6 L704.1 357.6 L704.2 355.5 L704.2 353.5 L704.3 351.5 L704.4 349.5 L704.5 347.5 L704.6 345.5 L704.7 343.5 L704.7 341.5 L704.8 339.5 L704.9 337.5 L705.0 335.4 L705.1 333.4 L705.2 331.4 L705.3 329.4 L705.4 327.4 L705.5 325.4 L705.6 323.3 L705.7 321.3 L705.8 319.3 L705.9 317.3 L706.0 315.3 L706.1 313.2 L706.2 311.2 L706.3 309.2 L706.4 307.2 L706.5 305.2 L706.7 303.1 L706.8 301.1 L706.9 299.1 L707.0 297.1 L707.1 295.0 L707.2 293.0 L707.4 291.0 L707.5 288.9 L707.6 286.9 L707.7 284.9 L707.9 282.8 L708.0 280.8 L708.1 278.8 L708.3 276.7 L708.4 274.7 L708.5 272.7 L708.7 270.6 L708.8 268.6 L708.9 266.6 L709.1 264.5 L709.2 262.5 L709.4 260.4 L709.5 258.4 L709.7 256.4 L709.8 254.3 L710.0 252.3 L710.1 250.2 L710.3 248.2 L710.4 246.1 L710.6 244.1 L710.8 242.0 L710.9 240.0 L711.1 237.9 L711.3 235.9 L711.4 233.8 L711.6 231.8 L711.8 229.7 L712.0 227.7 L712.2 225.7 L712.5 223.7 L712.8 221.7 L713.1 219.8 L713.5 217.9 L713.9 216.0 L714.4 214.2 L714.9 212.4 L715.5 210.7 L716.2 209.0 L717.0 207.4 L717.8 205.8 L718.7 204.4 L719.7 202.9 L720.9 201.6 L722.1 200.4 L723.4 199.2 L724.8 198.1 L726.3 197.2 L728.0 196.3 L729.6 195.5 L731.4 194.8 L733.3 194.2 L735.2 193.8 L737.2 193.4 L739.2 193.2 L741.3 193.0 L743.4 192.9 L745.6 192.8 L747.7 192.9 L749.9 192.9 L752.1 193.0 L754.2 193.2 L756.4 193.3 L758.5 193.5 L760.6 193.6 L762.6 193.8 L764.6 193.9 L766.6 194.0 L768.4 194.1 L770.2 194.1 L771.9 194.0 L772.0 196.0 L772.2 198.0 L772.3 200.0 L772.4 202.0 L772.6 204.0 L772.7 206.0 L772.8 208.0 L772.9 210.0 L773.1 212.0 L773.2 213.9 L773.3 215.9 L773.4 217.9 L773.5 219.9 L773.6 221.9 L773.7 223.9 L773.8 225.9 L773.9 227.9 L774.0 229.9 L774.1 231.9 L774.2 233.9 L774.3 235.9 L774.4 237.9 L774.5 239.9 L774.6 241.9 L774.6 243.9 L774.7 245.9 L774.8 247.9 L774.9 249.9 L774.9 251.9 L775.0 253.9 L775.1 255.9 L775.2 257.9 L775.2 259.9 L775.3 261.9 L775.4 263.9 L775.4 265.9 L775.5 267.9 L775.5 269.9 L775.6 271.9 L775.7 273.9 L775.7 275.9 L775.8 277.9 L775.8 279.9 L775.9 281.9 L775.9 283.9 L776.0 285.9 L776.0 287.9 L776.1 289.9 L776.1 291.9 L776.2 293.9 L776.2 295.9 L776.3 297.9 L776.3 299.9 L776.4 301.9 L776.4 303.9 L776.4 305.9 L776.5 307.9 L776.5 309.9 L776.6 311.9 L776.6 313.9 L776.6 315.9 L776.7 317.9 L776.7 319.9 L776.8 321.9 L776.8 323.9 L776.8 325.9 L776.9 327.9 L776.9 329.9 L777.0 331.9 L777.0 333.9 L777.0 335.9 L777.1 337.9 L777.1 339.9 L777.1 341.9 L777.2 344.0 L777.2 346.0 L777.3 348.0 L777.3 350.0 L777.3 352.0 L777.4 354.0 L777.4 356.0 L777.5 358.0 L777.5 360.0 L777.5 362.0 L777.6 364.0 L777.6 366.0 L777.7 368.0 L777.7 370.0 L777.8 372.0 L777.8 374.0 L777.8 376.0 L777.9 378.0 L777.9 380.0 L778.0 382.0 L778.0 384.0 L778.1 386.0 L778.2 388.0 L778.2 390.0 L778.3 392.0 L778.3 394.0 L778.4 396.0 L778.4 398.0 L778.5 400.0 L778.6 402.0 L778.6 404.0 L778.7 406.0 L778.7 408.0 L778.8 410.0 L778.9 412.0 L779.0 414.0 L779.0 416.0 L779.1 418.0 L779.2 420.0 L779.3 422.0 L779.3 424.1 L779.4 426.1 L779.5 428.1 L779.6 430.1 L779.7 432.1 L779.8 434.1 L779.9 436.1 L780.0 438.1 L780.0 440.1 L780.1 442.1 L780.2 444.1 L780.3 446.1 L780.5 448.1 L780.6 450.1 L780.7 452.1 L780.8 454.1 L780.9 456.1 L781.0 458.1 L781.1 460.1 L781.3 462.1 L781.4 464.1 L781.5 466.1 L781.7 468.1 L781.8 470.1 L781.9 472.1 L782.1 474.1 L782.2 476.1 L782.4 478.1 L782.5 480.1 L782.7 482.1 L782.8 484.1 L783.0 486.1 L783.1 488.1 L783.3 490.1 L783.5 492.1 L783.6 494.1 L783.8 496.0 L784.0 498.0 L784.2 500.0 L784.4 502.0 L784.6 504.0 L784.7 506.0 L784.9 508.0 L785.1 510.0 L785.3 512.0 L785.6 514.0 L785.8 516.0 L786.0 518.0 L786.2 520.0 L786.4 522.0 L786.7 524.0 L786.9 526.0 L787.1 528.0 L787.4 530.0 L787.6 532.0 L787.9 534.0 L788.1 536.0 L788.4 538.0 L788.6 540.0 L788.9 541.9 L789.2 543.9 L789.4 545.9 L789.7 547.9 L790.0 549.9 L790.3 551.9 L790.6 553.9 L790.9 555.9 L791.2 557.9 L791.5 559.9 L791.8 561.9 L792.1 563.9 L792.4 565.8 L792.8 567.8 L793.1 569.8 L793.4 571.8 L793.8 573.8 L794.1 575.8 L794.5 577.8 L794.9 579.7 L795.2 581.7 L795.6 583.7 L796.0 585.7 L796.4 587.6 L796.8 589.6 L797.3 591.6 L797.7 593.5 L798.1 595.5 L798.6 597.4 L799.0 599.4 L799.5 601.3 L800.0 603.3 L800.4 605.2 L800.9 607.1 L801.5 609.1 L802.0 611.0 L802.5 612.9 L803.0 614.8 L803.6 616.7 L804.2 618.6 L804.7 620.5 L805.3 622.4 L805.9 624.3 L806.6 626.2 L807.2 628.1 L807.8 629.9 L808.5 631.8 L809.2 633.6 L809.9 635.5 L810.6 637.3 L811.3 639.2 L812.0 641.0 L812.8 642.8 L813.5 644.6 L814.3 646.4 L815.1 648.2 L815.9 650.0 L816.7 651.8 L817.6 653.6 L818.4 655.3 L819.3 657.1 L820.2 658.8 L821.1 660.5 L822.1 662.3 L823.0 664.0 L824.0 665.7 L825.0 667.4 L826.0 669.1 L827.0 670.8 L828.0 672.4 L829.1 674.1 L830.2 675.7 L831.3 677.4 L832.4 679.0 L833.6 680.6 L834.7 682.2 L835.9 683.8 L837.1 685.4 L838.3 686.9 L839.6 688.5 L840.9 690.0 L842.2 691.5 L843.5 693.1 L844.8 694.6 L846.2 696.1 L847.6 697.5 L849.0 699.0 L849.1 697.0 L849.1 695.0 L849.2 693.0 L849.2 690.9 L849.3 688.9 L849.3 686.9 L849.4 684.9 L849.4 682.9 L849.5 680.9 L849.5 678.9 L849.5 676.8 L849.6 674.8 L849.6 672.8 L849.7 670.8 L849.7 668.8 L849.8 666.8 L849.8 664.8 L849.9 662.8 L849.9 660.8 L850.0 658.8 L850.0 656.8 L850.0 654.8 L850.1 652.7 L850.1 650.7 L850.2 648.7 L850.2 646.7 L850.3 644.7 L850.3 642.7 L850.3 640.7 L850.4 638.7 L850.4 636.7 L850.4 634.7 L850.5 632.7 L850.5 630.7 L850.6 628.7 L850.6 626.7 L850.6 624.7 L850.7 622.7 L850.7 620.7 L850.8 618.7 L850.8 616.7 L850.8 614.7 L850.9 612.7 L850.9 610.7 L850.9 608.7 L851.0 606.7 L851.0 604.7 L851.0 602.7 L851.1 600.7 L851.1 598.7 L851.1 596.7 L851.2 594.7 L851.2 592.7 L851.2 590.7 L851.3 588.7 L851.3 586.7 L851.3 584.7 L851.4 582.8 L851.4 580.8 L851.5 578.8 L851.5 576.8 L851.5 574.8 L851.6 572.8 L851.6 570.8 L851.6 568.8 L851.7 566.8 L851.7 564.8 L851.7 562.8 L851.7 560.8 L851.8 558.8 L851.8 556.8 L851.8 554.8 L851.9 552.8 L851.9 550.9 L851.9 548.9 L852.0 546.9 L852.0 544.9 L852.0 542.9 L852.1 540.9 L852.1 538.9 L852.1 536.9 L852.2 534.9 L852.2 532.9 L852.2 530.9 L852.3 528.9 L852.3 526.9 L852.3 525.0 L852.4 523.0 L852.4 521.0 L852.4 519.0 L852.5 517.0 L852.5 515.0 L852.6 513.0 L852.6 511.0 L852.6 509.0 L852.7 507.0 L852.7 505.0 L852.7 503.0 L852.8 501.0 L852.8 499.1 L852.8 497.1 L852.9 495.1 L852.9 493.1 L852.9 491.1 L853.0 489.1 L853.0 487.1 L853.1 485.1 L853.1 483.1 L853.1 481.1 L853.2 479.1 L853.2 477.1 L853.2 475.1 L853.3 473.1 L853.3 471.2 L853.4 469.2 L853.4 467.2 L853.4 465.2 L853.5 463.2 L853.5 461.2 L853.6 459.2 L853.6 457.2 L853.7 455.2 L853.7 453.2 L853.7 451.2 L853.8 449.2 L853.8 447.2 L853.9 445.2 L853.9 443.2 L854.0 441.2 L854.0 439.2 L854.1 437.2 L854.1 435.2 L854.1 433.2 L854.2 431.2 L854.2 429.2 L854.3 427.2 L854.3 425.2 L854.4 423.3 L854.4 421.3 L854.5 419.3 L854.5 417.3 L854.6 415.3 L854.6 413.3 L854.7 411.3 L854.7 409.3 L854.8 407.2 L854.9 405.2 L854.9 403.2 L855.0 401.2 L855.0 399.2 L855.1 397.2 L855.1 395.2 L855.2 393.2 L855.3 391.2 L855.3 389.2 L855.4 387.2 L855.4 385.2 L855.5 383.2 L855.6 381.2 L855.6 379.2 L855.7 377.2 L855.7 375.2 L855.8 373.2 L855.9 371.2 L855.9 369.2 L856.0 367.1 L856.1 365.1 L856.1 363.1 L856.2 361.1 L856.3 359.1 L856.4 357.1 L856.4 355.1 L856.5 353.1 L856.6 351.1 L856.6 349.0 L856.7 347.0 L856.8 345.0 L856.9 343.0 L856.9 341.0 L857.0 339.0 L857.1 336.9 L857.2 334.9 L857.3 332.9 L857.3 330.9 L857.4 328.9 L857.5 326.8 L857.6 324.8 L857.7 322.8 L857.8 320.8 L857.8 318.8 L857.9 316.7 L858.0 314.7 L858.1 312.7 L858.2 310.7 L858.3 308.6 L858.4 306.6 L858.5 304.6 L858.6 302.6 L858.7 300.5 L858.7 298.5 L858.8 296.5 L858.9 294.4 L859.0 292.4 L859.1 290.4 L859.2 288.4 L859.4 286.3 L859.5 284.3 L859.6 282.3 L859.7 280.2 L859.9 278.2 L860.0 276.2 L860.2 274.2 L860.3 272.2 L860.5 270.2 L860.7 268.2 L861.0 266.2 L861.2 264.2 L861.5 262.2 L861.8 260.2 L862.1 258.3 L862.4 256.3 L862.7 254.4 L863.1 252.5 L863.5 250.5 L864.0 248.6 L864.5 246.7 L865.0 244.8 L865.5 242.9 L866.1 241.1 L866.7 239.2 L867.3 237.4 L868.0 235.6 L868.7 233.8 L869.5 232.0 L870.3 230.2 L871.1 228.5 L872.0 226.8 L873.0 225.1 L874.0 223.5 L875.1 221.9 L876.2 220.4 L877.4 219.0 L878.7 217.6 L880.1 216.4 L881.6 215.2 L883.1 214.1 L884.7 213.1 L886.3 212.1 L888.0 211.3 L889.8 210.5 L891.6 209.8 L893.5 209.2 L895.4 208.6 L897.3 208.1 L899.3 207.7 L901.3 207.4 L903.3 207.1 L905.4 206.9 L907.5 206.8 L909.5 206.8 L911.6 206.8 L913.7 206.9 L915.8 207.0 L917.9 207.2 L920.0 207.5 L922.1 207.8 L924.2 208.2 L926.2 208.6 L926.3 210.6 L926.4 212.6 L926.5 214.6 L926.6 216.6 L926.7 218.6 L926.8 220.6 L926.9 222.6 L927.0 224.6 L927.1 226.6 L927.2 228.6 L927.2 230.6 L927.3 232.6 L927.4 234.6 L927.5 236.6 L927.6 238.6 L927.6 240.6 L927.7 242.6 L927.8 244.6 L927.9 246.6 L927.9 248.6 L928.0 250.6 L928.1 252.6 L928.2 254.6 L928.2 256.6 L928.3 258.6 L928.4 260.6 L928.4 262.6 L928.5 264.6 L928.6 266.6 L928.6 268.6 L928.7 270.6 L928.7 272.6 L928.8 274.6 L928.9 276.6 L928.9 278.6 L929.0 280.6 L929.0 282.6 L929.1 284.6 L929.1 286.6 L929.2 288.6 L929.2 290.6 L929.3 292.6 L929.3 294.6 L929.4 296.6 L929.4 298.6 L929.5 300.6 L929.5 302.6 L929.6 304.6 L929.6 306.6 L929.7 308.6 L929.7 310.6 L929.8 312.6 L929.8 314.6 L929.9 316.6 L929.9 318.6 L930.0 320.6 L930.0 322.6 L930.1 324.6 L930.1 326.6 L930.2 328.6 L930.2 330.6 L930.2 332.6 L930.3 334.6 L930.3 336.6 L930.4 338.6 L930.4 340.6 L930.5 342.6 L930.5 344.6 L930.6 346.6 L930.6 348.6 L930.7 350.6 L930.7 352.6 L930.8 354.6 L930.8 356.6 L930.9 358.6 L930.9 360.6 L931.0 362.6 L931.0 364.6 L931.1 366.6 L931.1 368.6 L931.2 370.6 L931.2 372.6 L931.3 374.6 L931.3 376.6 L931.4 378.6 L931.4 380.6 L931.5 382.6 L931.5 384.6 L931.6 386.6 L931.7 388.6 L931.7 390.6 L931.8 392.6 L931.8 394.6 L931.9 396.6 L932.0 398.6 L932.0 400.6 L932.1 402.6 L932.2 404.6 L932.2 406.6 L932.3 408.6 L932.4 410.6 L932.4 412.6 L932.5 414.6 L932.6 416.6 L932.7 418.6 L932.7 420.6 L932.8 422.6 L932.9 424.6 L933.0 426.6 L933.1 428.6 L933.1 430.6 L933.2 432.6 L933.3 434.6 L933.4 436.6 L933.5 438.6 L933.6 440.6 L933.7 442.6 L933.8 444.6 L933.9 446.6 L934.0 448.6 L934.1 450.6 L934.2 452.6 L934.3 454.6 L934.4 456.6 L934.5 458.6 L934.6 460.6 L934.7 462.6 L934.8 464.6 L935.0 466.6 L935.1 468.6 L935.2 470.6 L935.3 472.6 L935.5 474.6 L935.6 476.6 L935.7 478.6 L935.8 480.6 L936.0 482.6 L936.1 484.6 L936.3 486.6 L936.4 488.6 L936.5 490.6 L936.7 492.6 L936.8 494.6 L937.0 496.6 L937.2 498.6 L937.3 500.6 L937.5 502.6 L937.6 504.6 L937.8 506.6 L938.0 508.5 L938.1 510.5 L938.3 512.5 L938.5 514.5 L938.7 516.5 L938.9 518.5 L939.0 520.5 L939.2 522.5 L939.4 524.5 L939.6 526.5 L939.8 528.5 L940.0 530.5 L940.2 532.5 L940.4 534.5 L940.6 536.5 L940.9 538.4 L941.1 540.4 L941.3 542.4 L941.5 544.4 L941.7 546.4 L942.0 548.4 L942.2 550.4 L942.4 552.4 L942.7 554.4 L942.9 556.4 L943.2 558.4 L943.4 560.3 L943.7 562.3 L943.9 564.3 L944.2 566.3 L944.5 568.3 L944.7 570.3 L945.0 572.3 L945.3 574.3 L945.6 576.2 L945.9 578.2 L946.2 580.2 L946.5 582.2 L946.8 584.2 L947.2 586.1 L947.5 588.1 L947.8 590.1 L948.2 592.1 L948.5 594.0 L948.9 596.0 L949.2 598.0 L949.6 599.9 L950.0 601.9 L950.4 603.8 L950.8 605.8 L951.2 607.7 L951.7 609.7 L952.1 611.6 L952.5 613.6 L953.0 615.5 L953.5 617.4 L953.9 619.4 L954.4 621.3 L954.9 623.2 L955.4 625.1 L956.0 627.1 L956.5 629.0 L957.1 630.9 L957.6 632.8 L958.2 634.7 L958.8 636.6 L959.4 638.5 L960.0 640.3 L960.6 642.2 L961.3 644.1 L961.9 646.0 L962.6 647.8 L963.3 649.7 L964.0 651.5 L964.7 653.4 L965.4 655.2 L966.2 657.1 L967.0 658.9 L967.7 660.7 L968.5 662.5 L969.3 664.4 L970.2 666.2 L971.0 668.0 L971.8 669.8 L972.7 671.6 L973.6 673.4 L974.5 675.2 L975.4 676.9 L976.3 678.7 L977.2 680.5 L978.1 682.3 L979.1 684.0 L980.0 685.8 L981.0 687.5 L982.0 689.3 L983.0 691.0 L984.0 692.8 L985.0 694.5 L986.0 696.2 L987.1 697.9 L988.1 699.7 L989.2 701.4 L990.2 703.1 L991.3 704.8 L992.4 706.5 L993.5 708.2 L994.6 709.9 L995.7 711.6 L996.8 713.3 L998.0 715.0 L999.1 716.7 L1000.2 718.3 L1001.4 720.0 L1001.5 718.0 L1001.5 716.0 L1001.6 714.0 L1001.7 712.0 L1001.7 710.0 L1001.8 708.0 L1001.8 706.0 L1001.9 704.0 L1002.0 702.0 L1002.0 700.0 L1002.1 698.0 L1002.1 696.0 L1002.2 694.0 L1002.3 692.0 L1002.3 690.0 L1002.4 688.0 L1002.5 686.0 L1002.5 684.0 L1002.6 682.0 L1002.6 680.0 L1002.7 678.0 L1002.8 676.0 L1002.8 674.0 L1002.9 672.0 L1002.9 670.0 L1003.0 668.0 L1003.1 666.0 L1003.1 664.0 L1003.2 661.9 L1003.2 659.9 L1003.3 657.9 L1003.4 655.9 L1003.4 653.9 L1003.5 651.9 L1003.6 649.9 L1003.6 647.9 L1003.7 645.9 L1003.7 643.9 L1003.8 641.9 L1003.8 639.9 L1003.9 637.9 L1004.0 635.9 L1004.0 633.9 L1004.1 631.9 L1004.1 629.9 L1004.2 627.9 L1004.3 625.9 L1004.3 623.9 L1004.4 621.9 L1004.4 619.9 L1004.5 617.9 L1004.5 615.9 L1004.6 613.9 L1004.7 611.9 L1004.7 609.9 L1004.8 607.9 L1004.8 605.9 L1004.9 603.9 L1004.9 601.9 L1005.0 599.9 L1005.1 597.9 L1005.1 595.8 L1005.2 593.8 L1005.2 591.8 L1005.3 589.8 L1005.3 587.8 L1005.4 585.8 L1005.4 583.8 L1005.5 581.8 L1005.6 579.8 L1005.6 577.8 L1005.7 575.8 L1005.7 573.8 L1005.8 571.8 L1005.8 569.8 L1005.9 567.8 L1005.9 565.8 L1006.0 563.8 L1006.0 561.8 L1006.1 559.8 L1006.1 557.8 L1006.2 555.8 L1006.2 553.8 L1006.3 551.8 L1006.3 549.8 L1006.4 547.8 L1006.4 545.8 L1006.5 543.8 L1006.5 541.8 L1006.6 539.8 L1006.6 537.7 L1006.7 535.7 L1006.7 533.7 L1006.8 531.7 L1006.8 529.7 L1006.9 527.7 L1006.9 525.7 L1007.0 523.7 L1007.0 521.7 L1007.1 519.7 L1007.1 517.7 L1007.2 515.7 L1007.2 513.7 L1007.3 511.7 L1007.3 509.7 L1007.4 507.7 L1007.4 505.7 L1007.4 503.7 L1007.5 501.7 L1007.5 499.7 L1007.6 497.7 L1007.6 495.7 L1007.7 493.7 L1007.7 491.7 L1007.7 489.7 L1007.8 487.7 L1007.8 485.7 L1007.9 483.7 L1007.9 481.7 L1008.0 479.6 L1008.0 477.6 L1008.0 475.6 L1008.1 473.6 L1008.1 471.6 L1008.2 469.6 L1008.2 467.6 L1008.2 465.6 L1008.3 463.6 L1008.3 461.6 L1008.4 459.6 L1008.4 457.6 L1008.4 455.6 L1008.5 453.6 L1008.5 451.6 L1008.5 449.6 L1008.6 447.6 L1008.6 445.6 L1008.6 443.6 L1008.7 441.6 L1008.7 439.6 L1008.7 437.6 L1008.8 435.6 L1008.8 433.6 L1008.8 431.6 L1008.9 429.6 L1008.9 427.6 L1008.9 425.6 L1009.0 423.6 L1009.0 421.6 L1009.0 419.6 L1009.1 417.6 L1009.1 415.6 L1009.1 413.6 L1009.2 411.6 L1009.2 409.6 L1009.2 407.6 L1009.2 405.6 L1009.3 403.6 L1009.3 401.6 L1009.3 399.6 L1009.4 397.5 L1009.4 395.5 L1009.4 393.5 L1009.4 391.5 L1009.5 389.5 L1009.5 387.5 L1009.6 385.5 L1009.6 383.5 L1009.6 381.5 L1009.7 379.5 L1009.7 377.5 L1009.8 375.5 L1009.8 373.5 L1009.9 371.5 L1009.9 369.5 L1010.0 367.5 L1010.1 365.5 L1010.2 363.5 L1010.2 361.5 L1010.3 359.5 L1010.4 357.5 L1010.5 355.5 L1010.6 353.5 L1010.7 351.5 L1010.8 349.5 L1010.9 347.5 L1011.1 345.5 L1011.2 343.6 L1011.3 341.6 L1011.5 339.6 L1011.6 337.6 L1011.8 335.6 L1011.9 333.6 L1012.1 331.6 L1012.3 329.6 L1012.5 327.6 L1012.7 325.6 L1012.9 323.6 L1013.1 321.6 L1013.4 319.6 L1013.6 317.6 L1013.8 315.6 L1014.1 313.6 L1014.4 311.6 L1014.6 309.6 L1014.9 307.6 L1015.2 305.6 L1015.5 303.6 L1015.9 301.6 L1016.2 299.6 L1016.5 297.7 L1016.9 295.7 L1017.3 293.7 L1017.6 291.7 L1018.0 289.7 L1018.4 287.7 L1018.9 285.7 L1019.3 283.7 L1019.8 281.7 L1020.2 279.7 L1020.7 277.7 L1021.2 275.7 L1021.7 273.8 L1022.2 271.8 L1022.7 269.8 L1023.3 267.8 L1023.9 265.8 L1024.5 263.9 L1025.1 261.9 L1025.7 260.0 L1026.4 258.1 L1027.1 256.2 L1027.9 254.4 L1028.7 252.6 L1029.5 250.9 L1030.4 249.2 L1031.4 247.6 L1032.4 246.0 L1033.4 244.5 L1034.5 243.0 L1035.7 241.6 L1037.0 240.3 L1038.3 239.1 L1039.7 238.0 L1041.1 237.0 L1042.6 236.0 L1044.3 235.2 L1046.0 234.4 L1047.7 233.8 L1049.6 233.2 L1051.5 232.8 L1053.4 232.5 L1055.5 232.2 L1057.5 232.1 L1059.6 232.0 L1061.7 232.0 L1063.8 232.1 L1066.0 232.3 L1068.1 232.6 L1070.2 233.0 L1072.3 233.4 L1074.4 234.0 L1076.5 234.6 L1078.5 235.3 L1080.5 236.0 L1080.6 238.0 L1080.7 240.0 L1080.8 242.0 L1080.9 243.9 L1081.0 245.9 L1081.1 247.9 L1081.1 249.9 L1081.2 251.9 L1081.3 253.9 L1081.4 255.9 L1081.5 257.9 L1081.5 259.9 L1081.6 261.8 L1081.7 263.8 L1081.8 265.8 L1081.9 267.8 L1081.9 269.8 L1082.0 271.8 L1082.1 273.8 L1082.1 275.8 L1082.2 277.8 L1082.3 279.8 L1082.3 281.8 L1082.4 283.8 L1082.5 285.8 L1082.5 287.8 L1082.6 289.8 L1082.7 291.8 L1082.7 293.8 L1082.8 295.8 L1082.8 297.8 L1082.9 299.8 L1083.0 301.8 L1083.0 303.8 L1083.1 305.8 L1083.1 307.8 L1083.2 309.8 L1083.2 311.8 L1083.3 313.8 L1083.4 315.8 L1083.4 317.8 L1083.5 319.8 L1083.5 321.8 L1083.6 323.8 L1083.6 325.8 L1083.7 327.8 L1083.7 329.8 L1083.8 331.8 L1083.8 333.8 L1083.9 335.8 L1083.9 337.8 L1084.0 339.8 L1084.0 341.8 L1084.1 343.8 L1084.1 345.8 L1084.2 347.8 L1084.2 349.8 L1084.3 351.8 L1084.3 353.8 L1084.4 355.8 L1084.4 357.8 L1084.5 359.8 L1084.5 361.9 L1084.6 363.9 L1084.6 365.9 L1084.7 367.9 L1084.8 369.9 L1084.8 371.9 L1084.9 373.9 L1084.9 375.9 L1085.0 377.9 L1085.0 379.9 L1085.1 381.9 L1085.1 383.9 L1085.2 385.9 L1085.2 388.0 L1085.3 390.0 L1085.4 392.0 L1085.4 394.0 L1085.5 396.0 L1085.5 398.0 L1085.6 400.0 L1085.7 402.0 L1085.7 404.0 L1085.8 406.0 L1085.8 408.0 L1085.9 410.1 L1086.0 412.1 L1086.0 414.1 L1086.1 416.1 L1086.2 418.1 L1086.2 420.1 L1086.3 422.1 L1086.4 424.1 L1086.5 426.1 L1086.5 428.1 L1086.6 430.1 L1086.7 432.2 L1086.8 434.2 L1086.8 436.2 L1086.9 438.2 L1087.0 440.2 L1087.1 442.2 L1087.2 444.2 L1087.3 446.2 L1087.3 448.2 L1087.4 450.2 L1087.5 452.2 L1087.6 454.3 L1087.7 456.3 L1087.8 458.3 L1087.9 460.3 L1088.0 462.3 L1088.1 464.3 L1088.2 466.3 L1088.3 468.3 L1088.4 470.3 L1088.5 472.3 L1088.6 474.3 L1088.7 476.4 L1088.9 478.4 L1089.0 480.4 L1089.1 482.4 L1089.2 484.4 L1089.3 486.4 L1089.4 488.4 L1089.6 490.4 L1089.7 492.4 L1089.8 494.4 L1090.0 496.4 L1090.1 498.4 L1090.2 500.4 L1090.4 502.4 L1090.5 504.4 L1090.7 506.4 L1090.8 508.5 L1090.9 510.5 L1091.1 512.5 L1091.2 514.5 L1091.4 516.5 L1091.6 518.5 L1091.7 520.5 L1091.9 522.5 L1092.0 524.5 L1092.2 526.5 L1092.4 528.5 L1092.6 530.5 L1092.7 532.5 L1092.9 534.5 L1093.1 536.5 L1093.3 538.5 L1093.5 540.5 L1093.7 542.5 L1093.8 544.5 L1094.0 546.5 L1094.2 548.5 L1094.4 550.5 L1094.6 552.5 L1094.9 554.5 L1095.1 556.5 L1095.3 558.5 L1095.5 560.5 L1095.7 562.5 L1096.0 564.5 L1096.2 566.5 L1096.5 568.4 L1096.7 570.4 L1097.0 572.4 L1097.2 574.4 L1097.5 576.4 L1097.8 578.4 L1098.0 580.4 L1098.3 582.3 L1098.6 584.3 L1098.9 586.3 L1099.2 588.3 L1099.6 590.2 L1099.9 592.2 L1100.2 594.2 L1100.5 596.1 L1100.9 598.1 L1101.2 600.1 L1101.6 602.0 L1102.0 604.0 L1102.4 605.9 L1102.8 607.9 L1103.2 609.8 L1103.6 611.8 L1104.0 613.7 L1104.4 615.6 L1104.9 617.6 L1105.3 619.5 L1105.8 621.4 L1106.2 623.4 L1106.7 625.3 L1107.2 627.2 L1107.7 629.1 L1108.2 631.0 L1108.7 632.9 L1109.3 634.8 L1109.8 636.7 L1110.4 638.6 L1111.0 640.5 L1111.6 642.4 L1112.2 644.3 L1112.8 646.2 L1113.4 648.1 L1114.0 649.9 L1114.7 651.8 L1115.4 653.7 L1116.0 655.5 L1116.7 657.4 L1117.4 659.2 L1118.2 661.1 L1118.9 662.9 L1119.7 664.7 L1120.4 666.6 L1121.2 668.4 L1122.0 670.2 L1122.8 672.0 L1123.6 673.8 L1124.5 675.6 L1125.4 677.4 L1126.2 679.2 L1127.1 681.0 L1128.0 682.8 L1129.0 684.6 L1129.9 686.3 L1130.9 688.1 L1131.9 689.9 L1132.9 691.6 L1133.9 693.4 L1134.9 695.1 L1136.0 696.8 L1137.0 698.6 L1138.1 700.3 L1139.2 702.0 L1140.4 703.7 L1141.5 705.4" fill="none" stroke="#000" stroke-width="4.6" stroke-linejoin="round" stroke-linecap="round"/>
<g fill="#000"><rect x="147.5" y="753.0" width="19" height="19"/><rect x="183.0" y="755.0" width="19" height="19"/><rect x="218.7" y="768.5" width="19" height="19"/><rect x="255.7" y="251.5" width="19" height="19"/><rect x="292.9" y="230.5" width="19" height="19"/><rect x="327.2" y="601.0" width="19" height="19"/><rect x="364.3" y="683.8" width="19" height="19"/><rect x="400.5" y="235.3" width="19" height="19"/><rect x="435.7" y="209.5" width="19" height="19"/><rect x="472.9" y="524.8" width="19" height="19"/><rect x="509.1" y="653.8" width="19" height="19"/><rect x="543.9" y="287.0" width="19" height="19"/><rect x="580.0" y="194.3" width="19" height="19"/><rect x="618.1" y="332.4" width="19" height="19"/><rect x="652.9" y="639.1" width="19" height="19"/><rect x="687.2" y="685.6" width="19" height="19"/><rect x="725.7" y="183.8" width="19" height="19"/><rect x="760.5" y="183.8" width="19" height="19"/><rect x="795.7" y="615.7" width="19" height="19"/><rect x="831.5" y="687.2" width="19" height="19"/><rect x="868.6" y="205.7" width="19" height="19"/><rect x="904.8" y="198.1" width="19" height="19"/><rect x="941.0" y="596.2" width="19" height="19"/><rect x="977.6" y="684.8" width="19" height="19"/><rect x="1011.9" y="262.4" width="19" height="19"/><rect x="1048.1" y="224.3" width="19" height="19"/><rect x="1086.0" y="530.5" width="19" height="19"/><rect x="1121.2" y="679.8" width="19" height="19"/><rect x="1132.0" y="695.9" width="19" height="19"/></g>
<path d="M157.0 766.5 L159.0 766.7 L161.0 766.8 L163.0 767.0 L165.0 767.1 L167.0 767.2 L169.0 767.4 L171.0 767.5 L173.0 767.7 L175.0 767.8 L177.0 767.9 L179.0 768.0 L181.0 768.2 L183.0 768.3 L185.0 768.4 L187.0 768.5 L189.0 768.6 L191.0 768.7 L193.0 768.8 L195.0 768.9 L197.0 769.0 L199.0 769.0 L201.0 769.1 L203.0 769.2 L205.0 769.2 L207.0 769.3 L209.0 769.3 L211.0 769.4 L213.0 769.4 L215.0 769.4 L217.0 769.4 L219.0 769.4 L220.9 769.4 L222.9 769.4 L224.9 769.4 L226.9 769.3 L228.9 769.3 L230.9 769.2 L232.8 769.2 L234.8 769.1 L236.8 769.0 L236.8 767.0 L236.9 764.9 L236.9 762.9 L237.0 760.8 L237.0 758.8 L237.0 756.8 L237.1 754.8 L237.1 752.7 L237.2 750.7 L237.2 748.7 L237.3 746.7 L237.3 744.7 L237.4 742.6 L237.4 740.6 L237.5 738.6 L237.6 736.6 L237.6 734.6 L237.7 732.6 L237.7 730.6 L237.8 728.6 L237.9 726.6 L237.9 724.6 L238.0 722.6 L238.1 720.6 L238.1 718.6 L238.2 716.6 L238.3 714.6 L238.3 712.6 L238.4 710.6 L238.5 708.6 L238.5 706.6 L238.6 704.6 L238.7 702.6 L238.7 700.6 L238.8 698.7 L238.9 696.7 L238.9 694.7 L239.0 692.7 L239.1 690.7 L239.1 688.7 L239.2 686.8 L239.3 684.8 L239.3 682.8 L239.4 680.8 L239.5 678.8 L239.6 676.8 L239.6 674.9 L239.7 672.9 L239.7 670.9 L239.8 668.9 L239.9 666.9 L239.9 665.0 L240.0 663.0 L240.1 661.0 L240.1 659.0 L240.2 657.0 L240.2 655.1 L240.3 653.1 L240.3 651.1 L240.4 649.1 L240.5 647.1 L240.5 645.1 L240.6 643.2 L240.6 641.2 L240.7 639.2 L240.7 637.2 L240.7 635.2 L240.8 633.2 L240.8 631.2 L240.9 629.2 L240.9 627.3 L240.9 625.3 L241.0 623.3 L241.0 621.3 L241.0 619.3 L241.1 617.3 L241.1 615.3 L241.1 613.3 L241.1 611.3 L241.1 609.3 L241.2 607.3 L241.2 605.3 L241.2 603.3 L241.2 601.3 L241.2 599.3 L241.2 597.3 L241.2 595.3 L241.2 593.2 L241.2 591.2 L241.2 589.2 L241.2 587.2 L241.1 585.2 L241.1 583.2 L241.1 581.1 L241.1 579.1 L241.1 577.1 L241.0 575.0 L241.0 573.0 L241.0 571.0 L240.9 568.9 L240.9 566.9 L240.8 564.9 L240.8 562.8 L240.7 560.8 L240.7 558.7 L240.6 556.7 L240.5 554.6 L240.5 552.6 L240.4 550.5 L240.3 548.4 L240.3 546.4 L240.2 544.3 L240.2 542.3 L240.1 540.2 L240.1 538.2 L240.0 536.1 L240.0 534.1 L240.0 532.0 L240.0 530.0 L240.0 527.9 L240.0 525.9 L240.0 523.8 L240.1 521.8 L240.1 519.8 L240.2 517.7 L240.3 515.7 L240.4 513.7 L240.6 511.7 L240.7 509.7 L240.9 507.7 L241.1 505.7 L241.3 503.7 L241.6 501.7 L241.9 499.8 L242.2 497.8 L242.5 495.9 L242.9 493.9 L243.3 492.0 L243.7 490.1 L244.2 488.2 L244.6 486.3 L245.2 484.4 L245.7 482.5 L246.3 480.6 L247.0 478.8 L247.6 476.9 L248.4 475.1 L249.1 473.3 L249.9 471.5 L250.8 469.7 L251.6 467.9 L252.6 466.2 L253.6 464.5 L254.6 462.9 L255.7 461.3 L256.9 459.8 L258.1 458.4 L259.4 457.0 L260.8 455.6 L262.2 454.4 L263.7 453.2 L265.3 452.1 L266.9 451.1 L268.6 450.2 L270.4 449.4 L272.2 448.6 L274.1 447.9 L276.0 447.3 L278.0 446.7 L280.0 446.2 L282.0 445.8 L284.1 445.4 L286.2 445.0 L288.3 444.7 L290.4 444.4 L292.5 444.1 L294.6 443.8 L296.6 443.5 L298.7 443.2 L300.7 442.9 L302.7 442.6 L304.7 442.2 L306.6 441.7 L308.5 441.2 L310.3 440.7 L312.0 440.0 L312.1 442.0 L312.3 444.0 L312.4 446.0 L312.5 448.0 L312.6 450.1 L312.7 452.1 L312.8 454.1 L312.9 456.1 L313.0 458.1 L313.1 460.1 L313.2 462.1 L313.3 464.1 L313.3 466.2 L313.4 468.2 L313.5 470.2 L313.5 472.2 L313.6 474.2 L313.7 476.2 L313.7 478.2 L313.8 480.2 L313.8 482.2 L313.9 484.3 L313.9 486.3 L313.9 488.3 L314.0 490.3 L314.0 492.3 L314.0 494.3 L314.1 496.3 L314.1 498.3 L314.1 500.4 L314.2 502.4 L314.2 504.4 L314.2 506.4 L314.2 508.4 L314.2 510.4 L314.2 512.4 L314.3 514.4 L314.3 516.4 L314.3 518.4 L314.3 520.5 L314.3 522.5 L314.3 524.5 L314.3 526.5 L314.3 528.5 L314.4 530.5 L314.4 532.5 L314.4 534.5 L314.4 536.5 L314.4 538.5 L314.4 540.6 L314.4 542.6 L314.4 544.6 L314.5 546.6 L314.5 548.6 L314.5 550.6 L314.5 552.6 L314.5 554.6 L314.6 556.6 L314.6 558.6 L314.6 560.6 L314.6 562.7 L314.7 564.7 L314.7 566.7 L314.7 568.7 L314.8 570.7 L314.8 572.7 L314.8 574.7 L314.9 576.7 L314.9 578.7 L315.0 580.7 L315.0 582.7 L315.1 584.7 L315.2 586.7 L315.2 588.7 L315.3 590.7 L315.4 592.7 L315.4 594.8 L315.5 596.8 L315.6 598.8 L315.7 600.8 L315.8 602.8 L315.9 604.8 L316.0 606.8 L316.1 608.8 L316.2 610.8 L316.3 612.8 L316.5 614.8 L316.6 616.8 L316.7 618.8 L316.9 620.8 L317.0 622.8 L317.2 624.8 L317.3 626.8 L317.5 628.8 L317.6 630.8 L317.8 632.8 L318.0 634.8 L318.2 636.8 L318.4 638.8 L318.6 640.8 L318.8 642.8 L319.0 644.8 L319.3 646.8 L319.5 648.8 L319.7 650.8 L320.0 652.8 L320.2 654.8 L320.5 656.8 L320.8 658.8 L321.0 660.8 L321.3 662.8 L321.6 664.8 L321.9 666.8 L322.2 668.8 L322.6 670.8 L322.9 672.7 L323.2 674.7 L323.6 676.7 L323.9 678.7 L324.3 680.7 L324.7 682.7 L325.1 684.7 L325.5 686.7 L325.9 688.7 L326.3 690.7 L326.7 692.7 L327.2 694.7 L327.6 696.7 L328.1 698.6 L328.5 700.6 L329.0 702.6 L329.5 704.6 L330.0 706.6 L330.6 708.5 L331.1 710.5 L331.7 712.4 L332.3 714.4 L333.0 716.3 L333.6 718.2 L334.3 720.0 L335.1 721.9 L335.9 723.7 L336.7 725.5 L337.6 727.2 L338.5 729.0 L339.5 730.6 L340.5 732.3 L341.6 733.9 L342.7 735.5 L343.9 737.0 L345.2 738.5 L346.5 739.9 L347.9 741.3 L349.4 742.6 L350.9 743.8 L352.5 745.0 L354.2 746.1 L355.9 747.2 L357.6 748.1 L359.4 749.0 L361.3 749.8 L363.2 750.5 L365.2 751.2 L367.1 751.8 L369.1 752.3 L371.2 752.8 L373.2 753.2 L375.2 753.6 L377.2 754.0 L379.3 754.4 L381.3 754.7 L383.2 755.0 L385.2 755.3 L387.1 755.7 L389.0 756.0 L389.2 754.0 L389.5 752.0 L389.7 750.0 L389.9 748.0 L390.1 746.0 L390.3 744.0 L390.5 742.0 L390.7 740.0 L390.9 738.0 L391.1 736.0 L391.2 734.0 L391.4 732.0 L391.6 730.0 L391.7 728.0 L391.8 726.0 L392.0 724.0 L392.1 722.0 L392.2 720.0 L392.3 718.0 L392.4 716.0 L392.5 714.0 L392.6 712.0 L392.7 710.0 L392.8 708.0 L392.9 706.0 L392.9 704.0 L393.0 702.0 L393.1 700.0 L393.1 698.0 L393.2 696.0 L393.2 694.0 L393.3 692.0 L393.3 690.0 L393.3 687.9 L393.4 685.9 L393.4 683.9 L393.4 681.9 L393.4 679.9 L393.4 677.9 L393.4 675.9 L393.4 673.9 L393.5 671.9 L393.5 669.9 L393.4 667.9 L393.4 665.9 L393.4 663.9 L393.4 661.9 L393.4 659.9 L393.4 657.9 L393.4 655.9 L393.4 653.9 L393.3 651.9 L393.3 649.9 L393.3 647.9 L393.3 645.8 L393.2 643.8 L393.2 641.8 L393.2 639.8 L393.1 637.8 L393.1 635.8 L393.1 633.8 L393.0 631.8 L393.0 629.8 L393.0 627.8 L392.9 625.8 L392.9 623.8 L392.9 621.8 L392.8 619.8 L392.8 617.8 L392.8 615.7 L392.7 613.7 L392.7 611.7 L392.7 609.7 L392.6 607.7 L392.6 605.7 L392.6 603.7 L392.6 601.7 L392.5 599.7 L392.5 597.7 L392.5 595.7 L392.5 593.7 L392.5 591.7 L392.4 589.6 L392.4 587.6 L392.4 585.6 L392.4 583.6 L392.4 581.6 L392.4 579.6 L392.4 577.6 L392.4 575.6 L392.4 573.6 L392.4 571.6 L392.4 569.6 L392.5 567.6 L392.5 565.5 L392.5 563.5 L392.5 561.5 L392.6 559.5 L392.6 557.5 L392.6 555.5 L392.7 553.5 L392.7 551.5 L392.8 549.5 L392.9 547.5 L392.9 545.5 L393.0 543.4 L393.1 541.4 L393.1 539.4 L393.2 537.4 L393.3 535.4 L393.4 533.4 L393.5 531.4 L393.6 529.4 L393.8 527.4 L393.9 525.4 L394.0 523.4 L394.2 521.3 L394.3 519.3 L394.4 517.3 L394.6 515.3 L394.8 513.3 L394.9 511.3 L395.1 509.3 L395.3 507.3 L395.5 505.3 L395.7 503.3 L395.9 501.2 L396.1 499.2 L396.4 497.2 L396.6 495.2 L396.8 493.2 L397.1 491.2 L397.4 489.2 L397.6 487.2 L397.9 485.2 L398.2 483.2 L398.5 481.1 L398.8 479.1 L399.1 477.1 L399.4 475.1 L399.8 473.1 L400.1 471.1 L400.5 469.1 L400.9 467.1 L401.2 465.1 L401.7 463.1 L402.1 461.1 L402.6 459.2 L403.1 457.3 L403.7 455.4 L404.3 453.6 L405.1 451.9 L405.9 450.2 L406.8 448.6 L407.7 447.1 L408.8 445.7 L410.0 444.4 L411.3 443.2 L412.7 442.0 L414.2 441.0 L415.8 440.1 L417.5 439.2 L419.3 438.5 L421.1 437.8 L423.0 437.2 L425.0 436.7 L427.1 436.3 L429.2 436.0 L431.4 435.7 L433.6 435.5 L435.8 435.3 L438.0 435.1 L440.3 435.0 L442.5 434.9 L444.7 434.8 L447.0 434.7 L449.2 434.6 L451.3 434.4 L453.4 434.2 L455.5 434.0 L457.5 433.8 L459.4 433.5 L461.2 433.1 L463.0 432.6 L464.7 432.0 L466.2 431.4 L466.3 433.4 L466.4 435.5 L466.5 437.5 L466.6 439.5 L466.7 441.6 L466.8 443.6 L466.8 445.6 L466.9 447.6 L467.0 449.6 L467.1 451.7 L467.2 453.7 L467.3 455.7 L467.4 457.7 L467.4 459.7 L467.5 461.7 L467.6 463.7 L467.7 465.7 L467.7 467.8 L467.8 469.8 L467.9 471.8 L468.0 473.8 L468.0 475.8 L468.1 477.8 L468.2 479.8 L468.2 481.8 L468.3 483.8 L468.4 485.8 L468.4 487.8 L468.5 489.8 L468.6 491.8 L468.7 493.8 L468.7 495.8 L468.8 497.7 L468.9 499.7 L468.9 501.7 L469.0 503.7 L469.1 505.7 L469.1 507.7 L469.2 509.7 L469.3 511.7 L469.3 513.7 L469.4 515.6 L469.5 517.6 L469.5 519.6 L469.6 521.6 L469.7 523.6 L469.7 525.6 L469.8 527.6 L469.9 529.6 L470.0 531.5 L470.0 533.5 L470.1 535.5 L470.2 537.5 L470.3 539.5 L470.3 541.5 L470.4 543.4 L470.5 545.4 L470.6 547.4 L470.7 549.4 L470.7 551.4 L470.8 553.4 L470.9 555.4 L471.0 557.3 L471.1 559.3 L471.2 561.3 L471.3 563.3 L471.4 565.3 L471.4 567.3 L471.5 569.3 L471.6 571.3 L471.7 573.2 L471.8 575.2 L471.9 577.2 L472.0 579.2 L472.2 581.2 L472.3 583.2 L472.4 585.2 L472.5 587.2 L472.6 589.2 L472.7 591.2 L472.8 593.2 L473.0 595.2 L473.1 597.2 L473.2 599.2 L473.3 601.2 L473.5 603.2 L473.6 605.2 L473.7 607.2 L473.9 609.2 L474.0 611.2 L474.2 613.2 L474.3 615.2 L474.5 617.2 L474.6 619.2 L474.8 621.2 L474.9 623.2 L475.1 625.3 L475.3 627.3 L475.5 629.3 L475.6 631.3 L475.8 633.3 L476.0 635.4 L476.2 637.4 L476.4 639.4 L476.5 641.4 L476.7 643.5 L476.9 645.5 L477.1 647.5 L477.3 649.6 L477.5 651.6 L477.8 653.6 L478.0 655.7 L478.2 657.7 L478.4 659.8 L478.7 661.8 L478.9 663.8 L479.2 665.9 L479.5 667.9 L479.7 669.9 L480.0 672.0 L480.4 674.0 L480.7 676.0 L481.0 678.0 L481.4 680.0 L481.8 682.0 L482.2 684.0 L482.6 686.0 L483.1 687.9 L483.5 689.9 L484.0 691.8 L484.6 693.8 L485.1 695.7 L485.7 697.6 L486.3 699.5 L486.9 701.4 L487.6 703.3 L488.3 705.1 L489.0 707.0 L489.8 708.8 L490.6 710.6 L491.5 712.4 L492.3 714.1 L493.3 715.9 L494.2 717.6 L495.2 719.3 L496.2 721.0 L497.3 722.6 L498.4 724.2 L499.5 725.8 L500.7 727.4 L501.9 728.9 L503.1 730.4 L504.4 731.8 L505.7 733.3 L507.1 734.6 L508.5 736.0 L509.9 737.3 L511.4 738.5 L512.9 739.7 L514.4 740.9 L516.0 742.0 L517.6 743.0 L519.3 744.1 L521.0 745.0 L522.7 745.9 L524.5 746.8 L526.3 747.6 L528.1 748.3 L530.0 749.0 L532.0 749.6 L533.9 750.2 L535.9 750.7 L538.0 751.1 L540.0 751.5 L542.1 751.8 L544.3 752.0 L544.5 750.0 L544.6 748.0 L544.7 746.0 L544.9 744.0 L545.0 742.0 L545.1 740.0 L545.2 738.0 L545.4 736.0 L545.5 734.0 L545.6 732.1 L545.7 730.1 L545.8 728.1 L545.8 726.1 L545.9 724.1 L546.0 722.1 L546.1 720.1 L546.1 718.1 L546.2 716.1 L546.3 714.1 L546.3 712.1 L546.4 710.1 L546.4 708.1 L546.5 706.1 L546.5 704.1 L546.5 702.1 L546.6 700.1 L546.6 698.1 L546.6 696.0 L546.6 694.0 L546.6 692.0 L546.7 690.0 L546.7 688.0 L546.7 686.0 L546.7 684.0 L546.7 682.0 L546.7 680.0 L546.7 678.0 L546.7 676.0 L546.7 674.0 L546.7 672.0 L546.7 670.0 L546.7 668.0 L546.7 666.0 L546.6 664.0 L546.6 662.0 L546.6 660.0 L546.6 658.0 L546.6 655.9 L546.6 653.9 L546.5 651.9 L546.5 649.9 L546.5 647.9 L546.5 645.9 L546.4 643.9 L546.4 641.9 L546.4 639.9 L546.4 637.9 L546.4 635.9 L546.3 633.9 L546.3 631.9 L546.3 629.9 L546.3 627.8 L546.2 625.8 L546.2 623.8 L546.2 621.8 L546.2 619.8 L546.2 617.8 L546.1 615.8 L546.1 613.8 L546.1 611.8 L546.1 609.8 L546.1 607.8 L546.1 605.8 L546.1 603.8 L546.1 601.8 L546.1 599.8 L546.1 597.7 L546.1 595.7 L546.1 593.7 L546.1 591.7 L546.1 589.7 L546.1 587.7 L546.1 585.7 L546.1 583.7 L546.1 581.7 L546.2 579.7 L546.2 577.7 L546.2 575.7 L546.3 573.7 L546.3 571.7 L546.3 569.7 L546.4 567.7 L546.4 565.7 L546.5 563.7 L546.5 561.7 L546.6 559.7 L546.7 557.7 L546.7 555.7 L546.8 553.7 L546.9 551.7 L547.0 549.7 L547.1 547.7 L547.2 545.7 L547.2 543.7 L547.4 541.7 L547.5 539.7 L547.6 537.7 L547.7 535.7 L547.8 533.7 L548.0 531.7 L548.1 529.7 L548.2 527.7 L548.4 525.7 L548.5 523.7 L548.7 521.7 L548.9 519.7 L549.1 517.7 L549.2 515.7 L549.4 513.7 L549.6 511.7 L549.8 509.7 L550.0 507.7 L550.3 505.8 L550.5 503.8 L550.7 501.8 L551.0 499.8 L551.2 497.8 L551.5 495.8 L551.7 493.8 L552.0 491.8 L552.3 489.8 L552.6 487.9 L552.9 485.9 L553.2 483.9 L553.5 481.9 L553.8 479.9 L554.1 477.9 L554.5 476.0 L554.8 474.0 L555.2 472.0 L555.6 470.0 L555.9 468.0 L556.3 466.0 L556.7 464.1 L557.1 462.1 L557.5 460.1 L558.0 458.1 L558.4 456.2 L558.9 454.2 L559.3 452.2 L559.8 450.3 L560.4 448.4 L561.0 446.5 L561.6 444.8 L562.4 443.0 L563.2 441.4 L564.1 439.8 L565.1 438.4 L566.3 437.1 L567.5 435.9 L568.9 434.8 L570.5 433.9 L572.2 433.2 L574.0 432.6 L576.0 432.2 L578.1 431.9 L580.4 431.8 L582.6 431.7 L584.9 431.8 L587.2 431.9 L589.5 432.1 L591.8 432.3 L594.0 432.5 L596.2 432.8 L598.4 433.0 L600.5 433.2 L602.6 433.4 L604.7 433.5 L606.7 433.5 L608.6 433.4 L610.5 433.1 L612.4 432.8 L614.3 432.2 L616.1 431.5 L617.8 430.6 L619.5 429.5 L619.6 431.5 L619.7 433.6 L619.8 435.6 L619.8 437.6 L619.9 439.6 L620.0 441.7 L620.1 443.7 L620.2 445.7 L620.3 447.7 L620.4 449.7 L620.5 451.7 L620.6 453.8 L620.7 455.8 L620.8 457.8 L620.9 459.8 L621.0 461.8 L621.1 463.8 L621.2 465.8 L621.3 467.8 L621.4 469.8 L621.5 471.8 L621.6 473.8 L621.8 475.8 L621.9 477.8 L622.0 479.8 L622.1 481.8 L622.2 483.8 L622.3 485.8 L622.4 487.8 L622.5 489.8 L622.7 491.8 L622.8 493.8 L622.9 495.8 L623.0 497.8 L623.1 499.7 L623.2 501.7 L623.3 503.7 L623.5 505.7 L623.6 507.7 L623.7 509.7 L623.8 511.7 L623.9 513.7 L624.1 515.7 L624.2 517.6 L624.3 519.6 L624.4 521.6 L624.5 523.6 L624.6 525.6 L624.8 527.6 L624.9 529.6 L625.0 531.6 L625.1 533.6 L625.2 535.5 L625.3 537.5 L625.5 539.5 L625.6 541.5 L625.7 543.5 L625.8 545.5 L625.9 547.5 L626.0 549.5 L626.2 551.5 L626.3 553.5 L626.4 555.5 L626.5 557.4 L626.6 559.4 L626.7 561.4 L626.8 563.4 L626.9 565.4 L627.1 567.4 L627.2 569.4 L627.3 571.4 L627.4 573.4 L627.5 575.4 L627.6 577.4 L627.7 579.4 L627.8 581.4 L627.9 583.5 L628.0 585.5 L628.1 587.5 L628.2 589.5 L628.3 591.5 L628.4 593.5 L628.5 595.5 L628.6 597.5 L628.7 599.6 L628.8 601.6 L628.9 603.6 L628.9 605.6 L629.0 607.7 L629.1 609.7 L629.2 611.7 L629.3 613.7 L629.4 615.8 L629.4 617.8 L629.5 619.8 L629.6 621.9 L629.7 623.9 L629.8 625.9 L629.9 628.0 L630.0 630.0 L630.1 632.1 L630.2 634.1 L630.3 636.1 L630.4 638.2 L630.6 640.2 L630.7 642.2 L630.9 644.2 L631.0 646.3 L631.2 648.3 L631.4 650.3 L631.6 652.3 L631.8 654.3 L632.1 656.3 L632.3 658.3 L632.6 660.3 L632.9 662.3 L633.2 664.3 L633.6 666.2 L633.9 668.2 L634.3 670.2 L634.7 672.1 L635.2 674.1 L635.6 676.0 L636.1 677.9 L636.6 679.9 L637.1 681.8 L637.7 683.7 L638.3 685.6 L638.9 687.5 L639.6 689.4 L640.3 691.2 L641.0 693.1 L641.8 694.9 L642.6 696.8 L643.4 698.6 L644.2 700.4 L645.1 702.2 L646.1 703.9 L647.0 705.7 L648.0 707.4 L649.0 709.1 L650.1 710.8 L651.2 712.4 L652.3 714.0 L653.5 715.6 L654.7 717.2 L655.9 718.7 L657.2 720.2 L658.5 721.7 L659.8 723.1 L661.2 724.5 L662.6 725.9 L664.1 727.2 L665.5 728.5 L667.1 729.7 L668.6 730.9 L670.2 732.1 L671.8 733.2 L673.5 734.3 L675.2 735.3 L676.9 736.3 L678.7 737.2 L680.5 738.0 L682.4 738.9 L684.2 739.7 L686.1 740.4 L688.0 741.1 L690.0 741.7 L692.0 742.4 L694.0 742.9 L696.0 743.5 L698.0 744.0 L698.0 742.0 L698.1 739.9 L698.1 737.9 L698.1 735.9 L698.2 733.9 L698.2 731.8 L698.2 729.8 L698.3 727.8 L698.3 725.8 L698.4 723.8 L698.4 721.7 L698.5 719.7 L698.5 717.7 L698.5 715.7 L698.6 713.7 L698.6 711.7 L698.7 709.6 L698.7 707.6 L698.8 705.6 L698.8 703.6 L698.9 701.6 L699.0 699.6 L699.0 697.6 L699.1 695.6 L699.1 693.6 L699.2 691.6 L699.2 689.6 L699.3 687.6 L699.3 685.6 L699.4 683.6 L699.5 681.6 L699.5 679.6 L699.6 677.6 L699.6 675.6 L699.7 673.6 L699.7 671.6 L699.8 669.6 L699.9 667.6 L699.9 665.6 L700.0 663.6 L700.0 661.6 L700.1 659.6 L700.2 657.6 L700.2 655.6 L700.3 653.6 L700.3 651.6 L700.4 649.6 L700.5 647.6 L700.5 645.7 L700.6 643.7 L700.6 641.7 L700.7 639.7 L700.7 637.7 L700.8 635.7 L700.9 633.7 L700.9 631.7 L701.0 629.7 L701.0 627.7 L701.1 625.7 L701.1 623.7 L701.2 621.7 L701.2 619.7 L701.3 617.7 L701.3 615.7 L701.4 613.7 L701.4 611.7 L701.5 609.8 L701.5 607.8 L701.6 605.8 L701.6 603.8 L701.7 601.8 L701.7 599.8 L701.7 597.8 L701.8 595.8 L701.8 593.8 L701.8 591.8 L701.9 589.8 L701.9 587.8 L702.0 585.7 L702.0 583.7 L702.0 581.7 L702.0 579.7 L702.1 577.7 L702.1 575.7 L702.1 573.7 L702.1 571.7 L702.2 569.7 L702.2 567.7 L702.2 565.7 L702.2 563.7 L702.2 561.6 L702.2 559.6 L702.2 557.6 L702.3 555.6 L702.3 553.6 L702.3 551.6 L702.3 549.5 L702.3 547.5 L702.3 545.5 L702.3 543.5 L702.2 541.4 L702.2 539.4 L702.2 537.4 L702.2 535.3 L702.2 533.3 L702.2 531.3 L702.2 529.2 L702.1 527.2 L702.1 525.2 L702.1 523.1 L702.0 521.1 L702.0 519.0 L702.0 517.0 L701.9 514.9 L701.9 512.9 L701.9 510.9 L701.8 508.8 L701.8 506.8 L701.8 504.7 L701.8 502.7 L701.8 500.6 L701.8 498.6 L701.8 496.5 L701.8 494.5 L701.9 492.5 L701.9 490.5 L702.0 488.4 L702.1 486.4 L702.2 484.4 L702.3 482.4 L702.4 480.4 L702.6 478.4 L702.8 476.4 L703.0 474.4 L703.3 472.4 L703.5 470.5 L703.8 468.5 L704.2 466.5 L704.5 464.6 L704.9 462.7 L705.3 460.7 L705.8 458.8 L706.3 456.9 L706.8 455.0 L707.4 453.1 L708.0 451.3 L708.7 449.4 L709.4 447.6 L710.1 445.7 L710.9 443.9 L711.7 442.1 L712.6 440.4 L713.6 438.7 L714.6 437.0 L715.6 435.4 L716.8 433.9 L718.0 432.4 L719.3 431.0 L720.6 429.7 L722.1 428.5 L723.6 427.5 L725.2 426.5 L726.9 425.7 L728.7 424.9 L730.6 424.4 L732.6 423.9 L734.7 423.6 L736.8 423.5 L739.0 423.4 L741.2 423.4 L743.5 423.5 L745.7 423.7 L748.0 423.9 L750.2 424.1 L752.3 424.4 L754.4 424.7 L756.5 425.0 L758.5 425.3 L760.5 425.5 L762.4 425.6 L764.3 425.7 L766.2 425.7 L768.1 425.6 L770.0 425.4 L771.9 425.0 L773.8 424.5 L775.7 423.8 L775.8 425.8 L775.9 427.8 L776.0 429.7 L776.1 431.7 L776.2 433.7 L776.2 435.7 L776.3 437.7 L776.4 439.7 L776.5 441.7 L776.5 443.7 L776.6 445.7 L776.6 447.7 L776.7 449.7 L776.8 451.7 L776.8 453.7 L776.9 455.7 L776.9 457.7 L777.0 459.7 L777.0 461.7 L777.1 463.7 L777.1 465.7 L777.1 467.7 L777.2 469.7 L777.2 471.7 L777.2 473.7 L777.3 475.7 L777.3 477.7 L777.3 479.7 L777.4 481.8 L777.4 483.8 L777.4 485.8 L777.5 487.8 L777.5 489.8 L777.5 491.8 L777.6 493.9 L777.6 495.9 L777.6 497.9 L777.7 499.9 L777.7 501.9 L777.7 503.9 L777.7 506.0 L777.8 508.0 L777.8 510.0 L777.9 512.0 L777.9 514.0 L777.9 516.1 L778.0 518.1 L778.0 520.1 L778.0 522.1 L778.1 524.1 L778.1 526.2 L778.2 528.2 L778.2 530.2 L778.3 532.2 L778.3 534.2 L778.4 536.3 L778.4 538.3 L778.5 540.3 L778.6 542.3 L778.6 544.3 L778.7 546.4 L778.8 548.4 L778.8 550.4 L778.9 552.4 L779.0 554.4 L779.1 556.5 L779.2 558.5 L779.3 560.5 L779.4 562.5 L779.5 564.5 L779.6 566.5 L779.7 568.5 L779.8 570.6 L779.9 572.6 L780.0 574.6 L780.2 576.6 L780.3 578.6 L780.4 580.6 L780.6 582.6 L780.7 584.6 L780.9 586.6 L781.0 588.6 L781.2 590.6 L781.4 592.7 L781.5 594.7 L781.7 596.7 L781.9 598.7 L782.1 600.7 L782.3 602.7 L782.5 604.7 L782.7 606.6 L782.9 608.6 L783.2 610.6 L783.4 612.6 L783.6 614.6 L783.9 616.6 L784.1 618.6 L784.4 620.6 L784.7 622.6 L784.9 624.6 L785.2 626.5 L785.5 628.5 L785.8 630.5 L786.1 632.5 L786.4 634.4 L786.8 636.4 L787.1 638.4 L787.4 640.4 L787.8 642.3 L788.1 644.3 L788.5 646.3 L788.9 648.2 L789.3 650.2 L789.6 652.1 L790.0 654.1 L790.5 656.1 L790.9 658.0 L791.3 660.0 L791.8 661.9 L792.2 663.8 L792.7 665.8 L793.1 667.7 L793.6 669.7 L794.1 671.6 L794.6 673.5 L795.1 675.5 L795.6 677.4 L796.2 679.3 L796.7 681.3 L797.3 683.2 L797.8 685.1 L798.4 687.0 L799.0 688.9 L799.6 690.9 L800.2 692.8 L800.8 694.7 L801.5 696.6 L802.1 698.5 L802.8 700.4 L803.4 702.3 L804.1 704.2 L804.8 706.1 L805.5 707.9 L806.2 709.8 L807.0 711.7 L807.7 713.6 L808.5 715.4 L809.4 717.2 L810.3 719.0 L811.3 720.7 L812.3 722.3 L813.5 723.9 L814.9 725.3 L816.3 726.6 L818.0 727.8 L819.7 728.9 L821.6 729.8 L823.5 730.6 L825.6 731.3 L827.6 731.8 L829.7 732.2 L831.9 732.4 L834.0 732.5 L836.0 732.5 L838.1 732.4 L840.1 732.2 L842.2 732.1 L844.1 731.9 L846.1 731.9 L848.1 731.9 L850.0 732.1 L851.9 732.4 L853.8 733.0 L853.8 731.0 L853.9 728.9 L853.9 726.9 L853.9 724.8 L853.9 722.8 L854.0 720.8 L854.0 718.7 L854.0 716.7 L854.0 714.7 L854.1 712.6 L854.1 710.6 L854.1 708.6 L854.1 706.6 L854.2 704.6 L854.2 702.5 L854.2 700.5 L854.2 698.5 L854.3 696.5 L854.3 694.5 L854.3 692.5 L854.3 690.5 L854.4 688.5 L854.4 686.4 L854.4 684.4 L854.4 682.4 L854.5 680.4 L854.5 678.4 L854.5 676.4 L854.5 674.4 L854.6 672.4 L854.6 670.4 L854.6 668.4 L854.7 666.4 L854.7 664.5 L854.7 662.5 L854.7 660.5 L854.8 658.5 L854.8 656.5 L854.8 654.5 L854.8 652.5 L854.9 650.5 L854.9 648.5 L854.9 646.5 L854.9 644.6 L855.0 642.6 L855.0 640.6 L855.0 638.6 L855.1 636.6 L855.1 634.6 L855.1 632.6 L855.1 630.7 L855.2 628.7 L855.2 626.7 L855.2 624.7 L855.3 622.7 L855.3 620.7 L855.3 618.7 L855.4 616.8 L855.4 614.8 L855.4 612.8 L855.4 610.8 L855.5 608.8 L855.5 606.8 L855.5 604.9 L855.6 602.9 L855.6 600.9 L855.6 598.9 L855.7 596.9 L855.7 594.9 L855.7 592.9 L855.8 591.0 L855.8 589.0 L855.9 587.0 L855.9 585.0 L855.9 583.0 L856.0 581.0 L856.0 579.0 L856.0 577.0 L856.1 575.0 L856.1 573.0 L856.2 571.0 L856.2 569.0 L856.2 567.1 L856.3 565.1 L856.3 563.1 L856.4 561.1 L856.4 559.1 L856.4 557.1 L856.5 555.1 L856.5 553.0 L856.6 551.0 L856.6 549.0 L856.7 547.0 L856.7 545.0 L856.7 543.0 L856.8 541.0 L856.8 539.0 L856.9 537.0 L856.9 535.0 L857.0 532.9 L857.0 530.9 L857.1 528.9 L857.1 526.9 L857.2 524.8 L857.2 522.8 L857.3 520.8 L857.3 518.8 L857.4 516.7 L857.4 514.7 L857.5 512.7 L857.5 510.6 L857.6 508.6 L857.7 506.5 L857.7 504.5 L857.8 502.4 L857.8 500.4 L857.9 498.3 L858.0 496.3 L858.0 494.2 L858.1 492.2 L858.1 490.1 L858.2 488.0 L858.3 486.0 L858.3 483.9 L858.4 481.8 L858.5 479.8 L858.5 477.7 L858.6 475.6 L858.7 473.5 L858.8 471.5 L858.9 469.4 L859.0 467.3 L859.1 465.3 L859.3 463.2 L859.5 461.2 L859.7 459.2 L859.9 457.2 L860.2 455.2 L860.5 453.2 L860.9 451.2 L861.3 449.3 L861.8 447.4 L862.3 445.5 L862.9 443.6 L863.5 441.8 L864.2 439.9 L864.9 438.2 L865.8 436.4 L866.7 434.7 L867.6 433.0 L868.6 431.4 L869.7 429.8 L870.9 428.2 L872.1 426.7 L873.4 425.3 L874.7 423.9 L876.1 422.5 L877.6 421.2 L879.1 420.0 L880.6 418.8 L882.2 417.7 L883.9 416.7 L885.6 415.8 L887.3 414.9 L889.1 414.1 L890.9 413.3 L892.8 412.7 L894.7 412.1 L896.7 411.7 L898.7 411.3 L900.7 410.9 L902.7 410.7 L904.8 410.4 L906.8 410.3 L908.9 410.1 L911.0 410.0 L913.1 409.9 L915.1 409.8 L917.2 409.7 L919.2 409.6 L921.2 409.5 L923.2 409.3 L925.2 409.1 L927.1 408.9 L929.0 408.6 L929.2 410.6 L929.4 412.6 L929.6 414.5 L929.8 416.5 L930.0 418.5 L930.1 420.5 L930.3 422.5 L930.4 424.5 L930.6 426.5 L930.7 428.4 L930.9 430.4 L931.0 432.4 L931.1 434.4 L931.2 436.4 L931.3 438.4 L931.5 440.4 L931.6 442.4 L931.7 444.4 L931.7 446.4 L931.8 448.4 L931.9 450.4 L932.0 452.4 L932.1 454.4 L932.1 456.4 L932.2 458.4 L932.3 460.4 L932.3 462.4 L932.4 464.4 L932.4 466.4 L932.5 468.4 L932.5 470.4 L932.5 472.4 L932.6 474.4 L932.6 476.4 L932.6 478.5 L932.7 480.5 L932.7 482.5 L932.7 484.5 L932.7 486.5 L932.8 488.5 L932.8 490.5 L932.8 492.5 L932.8 494.5 L932.8 496.5 L932.9 498.6 L932.9 500.6 L932.9 502.6 L932.9 504.6 L932.9 506.6 L932.9 508.6 L933.0 510.6 L933.0 512.6 L933.0 514.6 L933.0 516.7 L933.0 518.7 L933.0 520.7 L933.1 522.7 L933.1 524.7 L933.1 526.7 L933.1 528.7 L933.1 530.7 L933.2 532.7 L933.2 534.8 L933.2 536.8 L933.3 538.8 L933.3 540.8 L933.3 542.8 L933.4 544.8 L933.4 546.8 L933.5 548.8 L933.5 550.8 L933.6 552.8 L933.6 554.8 L933.7 556.8 L933.8 558.9 L933.8 560.9 L933.9 562.9 L934.0 564.9 L934.1 566.9 L934.2 568.9 L934.3 570.9 L934.4 572.9 L934.5 574.9 L934.6 576.9 L934.7 578.9 L934.8 580.9 L934.9 582.9 L935.1 584.9 L935.2 586.9 L935.4 588.9 L935.5 590.9 L935.7 592.9 L935.8 594.8 L936.0 596.8 L936.2 598.8 L936.4 600.8 L936.6 602.8 L936.8 604.8 L937.0 606.8 L937.2 608.8 L937.4 610.7 L937.7 612.7 L937.9 614.7 L938.2 616.7 L938.4 618.7 L938.7 620.7 L939.0 622.6 L939.3 624.6 L939.6 626.6 L939.9 628.6 L940.2 630.5 L940.5 632.5 L940.9 634.5 L941.2 636.4 L941.6 638.4 L942.0 640.4 L942.3 642.3 L942.7 644.3 L943.1 646.2 L943.6 648.2 L944.0 650.2 L944.4 652.1 L944.9 654.1 L945.3 656.0 L945.8 658.0 L946.3 659.9 L946.8 661.9 L947.3 663.8 L947.8 665.8 L948.4 667.7 L948.9 669.6 L949.5 671.6 L950.1 673.5 L950.6 675.4 L951.2 677.4 L951.9 679.3 L952.5 681.2 L953.1 683.2 L953.8 685.1 L954.5 687.0 L955.2 688.9 L955.9 690.8 L956.7 692.6 L957.5 694.4 L958.3 696.3 L959.2 698.0 L960.1 699.8 L961.0 701.5 L962.0 703.2 L963.0 704.8 L964.1 706.4 L965.2 708.0 L966.4 709.5 L967.6 711.0 L968.9 712.4 L970.2 713.7 L971.6 715.0 L973.0 716.2 L974.6 717.4 L976.1 718.4 L977.8 719.5 L979.5 720.4 L981.3 721.3 L983.2 722.0 L985.2 722.7 L987.2 723.3 L989.3 723.9 L991.4 724.4 L993.5 725.0 L995.6 725.5 L997.7 726.0 L999.7 726.6 L1001.6 727.3 L1003.4 728.0 L1005.1 728.9 L1006.6 729.9 L1008.0 731.0 L1008.1 729.0 L1008.1 726.9 L1008.2 724.9 L1008.2 722.9 L1008.3 720.9 L1008.3 718.8 L1008.4 716.8 L1008.4 714.8 L1008.4 712.8 L1008.5 710.8 L1008.5 708.7 L1008.6 706.7 L1008.6 704.7 L1008.7 702.7 L1008.7 700.7 L1008.7 698.7 L1008.8 696.7 L1008.8 694.7 L1008.9 692.7 L1008.9 690.7 L1008.9 688.7 L1009.0 686.7 L1009.0 684.7 L1009.0 682.7 L1009.1 680.7 L1009.1 678.7 L1009.1 676.7 L1009.1 674.7 L1009.2 672.7 L1009.2 670.7 L1009.2 668.7 L1009.3 666.7 L1009.3 664.7 L1009.3 662.7 L1009.3 660.7 L1009.4 658.7 L1009.4 656.7 L1009.4 654.7 L1009.5 652.8 L1009.5 650.8 L1009.5 648.8 L1009.5 646.8 L1009.5 644.8 L1009.6 642.8 L1009.6 640.8 L1009.6 638.9 L1009.6 636.9 L1009.7 634.9 L1009.7 632.9 L1009.7 630.9 L1009.7 628.9 L1009.8 627.0 L1009.8 625.0 L1009.8 623.0 L1009.8 621.0 L1009.9 619.0 L1009.9 617.0 L1009.9 615.1 L1009.9 613.1 L1009.9 611.1 L1010.0 609.1 L1010.0 607.1 L1010.0 605.2 L1010.0 603.2 L1010.1 601.2 L1010.1 599.2 L1010.1 597.2 L1010.1 595.2 L1010.2 593.3 L1010.2 591.3 L1010.2 589.3 L1010.2 587.3 L1010.3 585.3 L1010.3 583.3 L1010.3 581.4 L1010.3 579.4 L1010.4 577.4 L1010.4 575.4 L1010.4 573.4 L1010.5 571.4 L1010.5 569.4 L1010.5 567.4 L1010.6 565.4 L1010.6 563.5 L1010.6 561.5 L1010.6 559.5 L1010.7 557.5 L1010.7 555.5 L1010.8 553.5 L1010.8 551.5 L1010.8 549.5 L1010.9 547.5 L1010.9 545.5 L1010.9 543.5 L1011.0 541.5 L1011.0 539.5 L1011.1 537.5 L1011.1 535.5 L1011.2 533.5 L1011.2 531.5 L1011.2 529.5 L1011.3 527.5 L1011.3 525.4 L1011.4 523.4 L1011.4 521.4 L1011.5 519.4 L1011.5 517.4 L1011.6 515.4 L1011.7 513.4 L1011.7 511.3 L1011.8 509.3 L1011.8 507.3 L1011.9 505.3 L1011.9 503.2 L1012.0 501.2 L1012.1 499.2 L1012.1 497.1 L1012.2 495.1 L1012.3 493.1 L1012.3 491.0 L1012.4 489.0 L1012.5 487.0 L1012.6 484.9 L1012.6 482.9 L1012.7 480.8 L1012.8 478.8 L1012.9 476.7 L1012.9 474.7 L1013.0 472.6 L1013.1 470.6 L1013.3 468.5 L1013.4 466.5 L1013.5 464.5 L1013.7 462.4 L1013.9 460.4 L1014.1 458.4 L1014.3 456.4 L1014.6 454.4 L1014.8 452.4 L1015.2 450.4 L1015.5 448.4 L1015.9 446.5 L1016.3 444.5 L1016.8 442.6 L1017.3 440.7 L1017.9 438.8 L1018.5 437.0 L1019.1 435.1 L1019.8 433.3 L1020.6 431.5 L1021.4 429.7 L1022.2 427.9 L1023.2 426.2 L1024.2 424.5 L1025.2 422.9 L1026.3 421.3 L1027.5 419.8 L1028.7 418.4 L1030.0 417.0 L1031.4 415.8 L1032.8 414.6 L1034.3 413.5 L1035.9 412.6 L1037.5 411.7 L1039.2 411.0 L1041.0 410.5 L1042.8 410.0 L1044.7 409.8 L1046.7 409.6 L1048.7 409.7 L1050.8 409.8 L1053.0 410.0 L1055.1 410.3 L1057.3 410.6 L1059.5 411.0 L1061.7 411.4 L1063.9 411.7 L1066.0 412.0 L1068.2 412.3 L1070.3 412.5 L1072.3 412.5 L1074.3 412.5 L1076.2 412.2 L1078.0 411.9 L1079.8 411.3 L1081.4 410.5 L1081.5 412.6 L1081.6 414.6 L1081.7 416.6 L1081.8 418.7 L1081.9 420.7 L1081.9 422.8 L1082.0 424.8 L1082.1 426.8 L1082.2 428.9 L1082.3 430.9 L1082.4 432.9 L1082.5 434.9 L1082.6 436.9 L1082.7 439.0 L1082.8 441.0 L1082.9 443.0 L1083.0 445.0 L1083.1 447.0 L1083.2 449.0 L1083.3 451.0 L1083.4 453.0 L1083.5 455.0 L1083.6 457.0 L1083.7 459.0 L1083.8 461.0 L1083.9 463.0 L1084.0 465.0 L1084.1 467.0 L1084.2 469.0 L1084.3 471.0 L1084.4 473.0 L1084.5 474.9 L1084.6 476.9 L1084.7 478.9 L1084.8 480.9 L1084.9 482.9 L1085.0 484.9 L1085.1 486.8 L1085.3 488.8 L1085.4 490.8 L1085.5 492.8 L1085.6 494.8 L1085.7 496.7 L1085.8 498.7 L1085.9 500.7 L1086.0 502.7 L1086.2 504.6 L1086.3 506.6 L1086.4 508.6 L1086.5 510.6 L1086.6 512.5 L1086.7 514.5 L1086.9 516.5 L1087.0 518.5 L1087.1 520.5 L1087.2 522.4 L1087.3 524.4 L1087.5 526.4 L1087.6 528.4 L1087.7 530.3 L1087.8 532.3 L1088.0 534.3 L1088.1 536.3 L1088.2 538.3 L1088.4 540.2 L1088.5 542.2 L1088.6 544.2 L1088.8 546.2 L1088.9 548.2 L1089.0 550.2 L1089.2 552.2 L1089.3 554.1 L1089.4 556.1 L1089.6 558.1 L1089.7 560.1 L1089.9 562.1 L1090.0 564.1 L1090.1 566.1 L1090.3 568.1 L1090.4 570.1 L1090.6 572.1 L1090.7 574.1 L1090.9 576.1 L1091.0 578.1 L1091.2 580.2 L1091.3 582.2 L1091.5 584.2 L1091.6 586.2 L1091.8 588.2 L1091.9 590.2 L1092.1 592.3 L1092.3 594.3 L1092.4 596.3 L1092.6 598.4 L1092.7 600.4 L1092.9 602.4 L1093.1 604.5 L1093.2 606.5 L1093.4 608.6 L1093.6 610.6 L1093.7 612.7 L1093.9 614.7 L1094.1 616.8 L1094.3 618.8 L1094.4 620.9 L1094.6 623.0 L1094.8 625.0 L1095.0 627.1 L1095.2 629.2 L1095.4 631.2 L1095.6 633.3 L1095.8 635.4 L1096.0 637.4 L1096.3 639.5 L1096.5 641.5 L1096.8 643.6 L1097.1 645.6 L1097.4 647.7 L1097.7 649.7 L1098.0 651.7 L1098.4 653.7 L1098.7 655.7 L1099.1 657.7 L1099.5 659.7 L1099.9 661.7 L1100.4 663.6 L1100.8 665.6 L1101.3 667.5 L1101.8 669.4 L1102.4 671.3 L1102.9 673.2 L1103.5 675.1 L1104.1 676.9 L1104.8 678.8 L1105.5 680.6 L1106.2 682.4 L1106.9 684.2 L1107.7 685.9 L1108.5 687.7 L1109.4 689.4 L1110.3 691.1 L1111.2 692.8 L1112.1 694.4 L1113.1 696.0 L1114.2 697.6 L1115.2 699.2 L1116.4 700.8 L1117.5 702.3 L1118.7 703.8 L1120.0 705.2 L1121.3 706.7 L1122.6 708.1 L1124.0 709.4 L1125.5 710.7 L1127.0 711.9 L1128.6 713.1 L1130.2 714.2 L1131.9 715.3 L1133.7 716.3 L1135.5 717.2 L1137.4 718.1 L1139.4 718.8 L1141.5 719.5" fill="none" stroke="#FF3F3F" stroke-width="4.6" stroke-linejoin="round" stroke-linecap="round"/>
<g fill="#FF3F3F"><circle cx="157.0" cy="766.0" r="10.3"/><circle cx="192.0" cy="769.0" r="10.3"/><circle cx="228.0" cy="770.5" r="10.3"/><circle cx="265.0" cy="452.0" r="10.3"/><circle cx="301.4" cy="443.8" r="10.3"/><circle cx="336.7" cy="721.0" r="10.3"/><circle cx="372.9" cy="752.4" r="10.3"/><circle cx="409.0" cy="443.8" r="10.3"/><circle cx="445.2" cy="435.2" r="10.3"/><circle cx="481.4" cy="681.0" r="10.3"/><circle cx="516.2" cy="743.3" r="10.3"/><circle cx="553.3" cy="485.7" r="10.3"/><circle cx="589.5" cy="432.4" r="10.3"/><circle cx="626.2" cy="549.5" r="10.3"/><circle cx="662.4" cy="727.6" r="10.3"/><circle cx="698.0" cy="745.7" r="10.3"/><circle cx="731.9" cy="425.7" r="10.3"/><circle cx="769.0" cy="425.7" r="10.3"/><circle cx="805.2" cy="711.4" r="10.3"/><circle cx="842.4" cy="731.4" r="10.3"/><circle cx="877.6" cy="420.5" r="10.3"/><circle cx="913.8" cy="411.4" r="10.3"/><circle cx="950.5" cy="680.0" r="10.3"/><circle cx="985.2" cy="722.9" r="10.3"/><circle cx="1021.4" cy="430.5" r="10.3"/><circle cx="1057.6" cy="411.4" r="10.3"/><circle cx="1093.9" cy="616.4" r="10.3"/><circle cx="1128.6" cy="714.3" r="10.3"/><circle cx="1142.9" cy="719.3" r="10.3"/></g>
</g>
<line x1="157.0" y1="1733.6" x2="1188.6" y2="1733.6" stroke="#333" stroke-width="2.2"/>
<line x1="1187.4" y1="991.0" x2="1187.4" y2="1734.6" stroke="#000" stroke-width="2.5"/>
<line x1="157.0" y1="1132.9" x2="170.0" y2="1132.9" stroke="#555" stroke-width="2.0"/>
<line x1="157.0" y1="1062.7" x2="164.3" y2="1062.7" stroke="#777" stroke-width="1.6"/>
<line x1="157.0" y1="1275.7" x2="170.0" y2="1275.7" stroke="#333" stroke-width="2.0"/>
<line x1="157.0" y1="1420.0" x2="170.0" y2="1420.0" stroke="#333" stroke-width="2.0"/>
<line x1="157.0" y1="1562.8" x2="170.0" y2="1562.8" stroke="#333" stroke-width="2.0"/>
<line x1="157.0" y1="1633.5" x2="163.5" y2="1633.5" stroke="#666" stroke-width="1.6"/>
<line x1="388.0" y1="1719.2" x2="388.0" y2="1733.6" stroke="#444" stroke-width="1.4"/>
<line x1="621.0" y1="1719.2" x2="621.0" y2="1733.6" stroke="#444" stroke-width="1.4"/>
<line x1="1084.2" y1="1719.2" x2="1084.2" y2="1733.6" stroke="#444" stroke-width="1.4"/>
<line x1="504.4" y1="1727.0" x2="504.4" y2="1733.6" stroke="#444" stroke-width="1.4"/>
<line x1="967.5" y1="1727.0" x2="967.5" y2="1733.6" stroke="#444" stroke-width="1.4"/>
<text transform="translate(93.42 1001.29) scale(1.0250 1)" font-size="41.90">25</text>
<text transform="translate(93.99 1144.59) scale(1.0250 1)" font-size="41.90">20</text>
<text transform="translate(93.42 1287.89) scale(1.0250 1)" font-size="41.90">15</text>
<text transform="translate(93.99 1431.19) scale(1.0250 1)" font-size="41.90">10</text>
<text transform="translate(117.31 1574.49) scale(1.0250 1)" font-size="41.90">5</text>
<text transform="translate(117.88 1717.79) scale(1.0250 1)" font-size="41.90">0</text>
<text transform="translate(144.59 1780.79) scale(1.0250 1)" font-size="41.90">0</text>
<text transform="translate(340.96 1780.79) scale(1.0250 1)" font-size="41.90">1800</text>
<text transform="translate(572.52 1780.73) scale(1.0250 1)" font-size="41.90">3600</text>
<text transform="translate(804.45 1780.79) scale(1.0250 1)" font-size="41.90">5400</text>
<text transform="translate(1035.69 1780.79) scale(1.0250 1)" font-size="41.90">7200</text>
<text transform="translate(564.91 1854.41) scale(0.9979 1)" font-size="43.34">Time (sec)</text>
<text transform="translate(0 1507.50) rotate(-90) translate(-1.24 76.66) scale(0.9909 1)" font-size="43.56">Sensitivity (%)</text>
<text transform="translate(185.68 1051.16) scale(1.0377 1)" font-size="64.26">(b)</text>
<text transform="translate(580.41 1082.96) scale(0.9913 1)" font-size="65.54">365 nm</text>
<g clip-path="url(#clipb)">
<path d="M157.0 1690.5 L159.0 1690.8 L161.0 1691.1 L163.0 1691.6 L164.9 1692.0 L166.9 1692.5 L168.8 1693.1 L170.7 1693.7 L172.6 1694.3 L174.5 1695.0 L176.3 1695.8 L178.2 1696.5 L180.0 1697.3 L181.8 1698.1 L183.7 1699.0 L185.5 1699.9 L187.3 1700.8 L189.1 1701.7 L190.9 1702.6 L192.7 1703.6 L194.4 1704.5 L196.2 1705.5 L198.0 1706.5 L199.8 1707.5 L201.6 1708.4 L203.3 1709.4 L205.1 1710.4 L206.9 1711.4 L208.7 1712.3 L210.5 1713.3 L212.3 1714.2 L214.1 1715.2 L215.9 1716.1 L217.7 1716.9 L219.5 1717.8 L221.4 1718.6 L223.2 1719.4 L225.1 1720.2 L226.9 1720.9 L228.8 1721.6 L230.7 1722.3 L232.6 1722.9 L234.6 1723.5 L236.5 1724.0 L236.7 1722.0 L236.9 1720.0 L237.0 1718.0 L237.2 1716.0 L237.4 1714.0 L237.5 1712.0 L237.7 1710.1 L237.9 1708.1 L238.0 1706.1 L238.2 1704.1 L238.3 1702.1 L238.5 1700.1 L238.6 1698.1 L238.7 1696.1 L238.9 1694.1 L239.0 1692.1 L239.1 1690.1 L239.3 1688.1 L239.4 1686.1 L239.5 1684.1 L239.6 1682.1 L239.7 1680.1 L239.9 1678.1 L240.0 1676.1 L240.1 1674.1 L240.2 1672.1 L240.3 1670.1 L240.4 1668.1 L240.5 1666.1 L240.5 1664.1 L240.6 1662.1 L240.7 1660.1 L240.8 1658.1 L240.9 1656.1 L241.0 1654.1 L241.0 1652.1 L241.1 1650.1 L241.2 1648.1 L241.3 1646.1 L241.3 1644.1 L241.4 1642.1 L241.5 1640.1 L241.5 1638.1 L241.6 1636.1 L241.6 1634.1 L241.7 1632.1 L241.7 1630.1 L241.8 1628.1 L241.8 1626.1 L241.9 1624.1 L241.9 1622.1 L242.0 1620.1 L242.0 1618.1 L242.0 1616.1 L242.1 1614.0 L242.1 1612.0 L242.1 1610.0 L242.2 1608.0 L242.2 1606.0 L242.2 1604.0 L242.3 1602.0 L242.3 1600.0 L242.3 1598.0 L242.3 1596.0 L242.4 1594.0 L242.4 1592.0 L242.4 1590.0 L242.4 1588.0 L242.4 1586.0 L242.5 1584.0 L242.5 1581.9 L242.5 1579.9 L242.5 1577.9 L242.5 1575.9 L242.5 1573.9 L242.5 1571.9 L242.5 1569.9 L242.5 1567.9 L242.6 1565.9 L242.6 1563.9 L242.6 1561.9 L242.6 1559.9 L242.6 1557.9 L242.6 1555.8 L242.6 1553.8 L242.6 1551.8 L242.6 1549.8 L242.6 1547.8 L242.6 1545.8 L242.6 1543.8 L242.6 1541.8 L242.6 1539.8 L242.6 1537.8 L242.6 1535.8 L242.6 1533.8 L242.6 1531.7 L242.6 1529.7 L242.6 1527.7 L242.6 1525.7 L242.6 1523.7 L242.6 1521.7 L242.6 1519.7 L242.6 1517.7 L242.6 1515.7 L242.6 1513.7 L242.6 1511.7 L242.6 1509.7 L242.6 1507.6 L242.6 1505.6 L242.6 1503.6 L242.6 1501.6 L242.6 1499.6 L242.6 1497.6 L242.6 1495.6 L242.6 1493.6 L242.6 1491.6 L242.6 1489.6 L242.6 1487.6 L242.6 1485.6 L242.6 1483.6 L242.6 1481.5 L242.6 1479.5 L242.6 1477.5 L242.6 1475.5 L242.6 1473.5 L242.6 1471.5 L242.7 1469.5 L242.7 1467.5 L242.7 1465.5 L242.7 1463.5 L242.7 1461.5 L242.7 1459.5 L242.7 1457.5 L242.8 1455.5 L242.8 1453.5 L242.8 1451.4 L242.8 1449.4 L242.9 1447.4 L242.9 1445.4 L242.9 1443.4 L242.9 1441.4 L243.0 1439.4 L243.0 1437.4 L243.0 1435.4 L243.1 1433.4 L243.1 1431.4 L243.1 1429.4 L243.2 1427.4 L243.2 1425.4 L243.3 1423.4 L243.3 1421.4 L243.4 1419.4 L243.4 1417.4 L243.5 1415.4 L243.5 1413.4 L243.6 1411.4 L243.6 1409.4 L243.7 1407.4 L243.7 1405.4 L243.8 1403.4 L243.9 1401.4 L243.9 1399.4 L244.0 1397.4 L244.1 1395.4 L244.2 1393.4 L244.2 1391.4 L244.3 1389.4 L244.4 1387.4 L244.5 1385.4 L244.6 1383.4 L244.7 1381.4 L244.8 1379.4 L244.9 1377.4 L245.0 1375.4 L245.1 1373.4 L245.2 1371.4 L245.3 1369.4 L245.4 1367.4 L245.5 1365.4 L245.6 1363.4 L245.7 1361.4 L245.9 1359.4 L246.0 1357.4 L246.1 1355.4 L246.2 1353.4 L246.4 1351.4 L246.5 1349.4 L246.6 1347.4 L246.8 1345.4 L246.9 1343.4 L247.1 1341.4 L247.2 1339.5 L247.4 1337.5 L247.6 1335.5 L247.7 1333.5 L247.9 1331.5 L248.1 1329.5 L248.2 1327.5 L248.4 1325.5 L248.6 1323.5 L248.8 1321.5 L249.0 1319.6 L249.2 1317.6 L249.4 1315.6 L249.6 1313.6 L249.8 1311.6 L250.0 1309.6 L250.2 1307.6 L250.4 1305.6 L250.6 1303.7 L250.9 1301.7 L251.1 1299.7 L251.3 1297.7 L251.6 1295.7 L251.8 1293.7 L252.1 1291.7 L252.3 1289.8 L252.6 1287.8 L252.8 1285.8 L253.1 1283.8 L253.3 1281.8 L253.6 1279.9 L253.9 1277.9 L254.2 1275.9 L254.5 1273.9 L254.8 1271.9 L255.1 1270.0 L255.5 1268.0 L255.8 1266.0 L256.2 1264.1 L256.6 1262.1 L257.0 1260.2 L257.5 1258.2 L258.0 1256.3 L258.5 1254.4 L259.1 1252.5 L259.7 1250.5 L260.3 1248.6 L261.0 1246.7 L261.7 1244.9 L262.5 1243.0 L263.3 1241.1 L264.1 1239.3 L265.0 1237.4 L266.0 1235.6 L267.0 1233.8 L268.1 1232.0 L269.2 1230.2 L270.3 1228.4 L271.4 1226.7 L272.5 1225.0 L273.7 1223.3 L274.9 1221.6 L276.0 1219.9 L277.2 1218.3 L278.4 1216.7 L279.6 1215.2 L280.8 1213.7 L282.1 1212.3 L283.4 1211.0 L284.8 1209.7 L286.3 1208.5 L287.8 1207.5 L289.4 1206.5 L291.1 1205.6 L292.8 1204.8 L294.5 1204.0 L296.3 1203.3 L298.2 1202.7 L300.1 1202.2 L302.0 1201.7 L303.9 1201.3 L305.9 1200.9 L307.8 1200.6 L309.8 1200.4 L311.8 1200.2 L313.8 1200.0 L313.9 1202.0 L314.0 1204.0 L314.0 1206.0 L314.1 1208.0 L314.2 1210.0 L314.3 1212.0 L314.4 1214.0 L314.5 1216.0 L314.5 1218.0 L314.6 1220.0 L314.7 1222.0 L314.8 1224.0 L314.9 1226.0 L315.0 1228.0 L315.1 1230.0 L315.2 1232.0 L315.4 1234.0 L315.5 1236.0 L315.6 1238.0 L315.7 1240.0 L315.8 1242.0 L315.9 1244.0 L316.1 1246.0 L316.2 1248.0 L316.3 1250.0 L316.4 1252.0 L316.6 1254.0 L316.7 1256.0 L316.8 1258.0 L317.0 1260.0 L317.1 1262.0 L317.3 1264.0 L317.4 1266.0 L317.6 1268.0 L317.7 1270.0 L317.9 1272.0 L318.0 1274.1 L318.2 1276.1 L318.4 1278.1 L318.5 1280.1 L318.7 1282.1 L318.9 1284.1 L319.1 1286.1 L319.2 1288.1 L319.4 1290.1 L319.6 1292.1 L319.8 1294.1 L320.0 1296.1 L320.2 1298.1 L320.4 1300.1 L320.6 1302.1 L320.8 1304.1 L321.0 1306.1 L321.2 1308.1 L321.4 1310.1 L321.7 1312.1 L321.9 1314.1 L322.1 1316.1 L322.3 1318.1 L322.6 1320.1 L322.8 1322.1 L323.0 1324.1 L323.3 1326.1 L323.5 1328.1 L323.8 1330.0 L324.0 1332.0 L324.3 1334.0 L324.6 1336.0 L324.8 1338.0 L325.1 1340.0 L325.4 1342.0 L325.7 1344.0 L325.9 1346.0 L326.2 1348.0 L326.5 1350.0 L326.8 1351.9 L327.1 1353.9 L327.4 1355.9 L327.7 1357.9 L328.0 1359.9 L328.3 1361.9 L328.7 1363.9 L329.0 1365.8 L329.3 1367.8 L329.6 1369.8 L330.0 1371.8 L330.3 1373.8 L330.6 1375.7 L331.0 1377.7 L331.3 1379.7 L331.7 1381.7 L332.1 1383.6 L332.4 1385.6 L332.8 1387.6 L333.2 1389.5 L333.6 1391.5 L333.9 1393.5 L334.3 1395.5 L334.7 1397.4 L335.1 1399.4 L335.5 1401.3 L335.9 1403.3 L336.3 1405.3 L336.8 1407.2 L337.2 1409.2 L337.6 1411.1 L338.0 1413.1 L338.5 1415.1 L338.9 1417.0 L339.4 1419.0 L339.8 1420.9 L340.3 1422.9 L340.7 1424.8 L341.2 1426.8 L341.7 1428.7 L342.1 1430.7 L342.6 1432.6 L343.1 1434.5 L343.6 1436.5 L344.1 1438.4 L344.6 1440.4 L345.1 1442.3 L345.6 1444.2 L346.1 1446.2 L346.7 1448.1 L347.2 1450.0 L347.7 1451.9 L348.3 1453.9 L348.8 1455.8 L349.4 1457.7 L349.9 1459.6 L350.5 1461.6 L351.0 1463.5 L351.6 1465.4 L352.2 1467.3 L352.8 1469.2 L353.4 1471.1 L354.0 1473.0 L354.6 1475.0 L355.2 1476.9 L355.8 1478.8 L356.4 1480.7 L357.0 1482.6 L357.7 1484.5 L358.3 1486.4 L358.9 1488.3 L359.6 1490.2 L360.2 1492.0 L360.9 1493.9 L361.6 1495.8 L362.2 1497.7 L362.9 1499.6 L363.6 1501.5 L364.3 1503.3 L365.0 1505.2 L365.7 1507.1 L366.4 1509.0 L367.1 1510.8 L367.9 1512.7 L368.6 1514.6 L369.3 1516.4 L370.1 1518.3 L370.8 1520.2 L371.6 1522.0 L372.3 1523.9 L373.1 1525.7 L373.9 1527.6 L374.7 1529.4 L375.5 1531.3 L376.2 1533.1 L377.1 1535.0 L377.9 1536.8 L378.7 1538.6 L379.5 1540.5 L380.3 1542.3 L381.2 1544.1 L382.0 1546.0 L382.9 1547.8 L383.7 1549.6 L384.6 1551.4 L385.4 1553.3 L386.3 1555.1 L387.2 1556.9 L388.1 1558.7 L389.0 1560.5 L389.2 1558.5 L389.3 1556.5 L389.4 1554.5 L389.6 1552.5 L389.7 1550.4 L389.9 1548.4 L390.0 1546.4 L390.1 1544.4 L390.3 1542.4 L390.4 1540.4 L390.5 1538.4 L390.6 1536.4 L390.7 1534.4 L390.9 1532.4 L391.0 1530.4 L391.1 1528.3 L391.2 1526.3 L391.3 1524.3 L391.4 1522.3 L391.5 1520.3 L391.6 1518.3 L391.7 1516.3 L391.8 1514.3 L391.9 1512.3 L392.0 1510.3 L392.1 1508.3 L392.2 1506.2 L392.3 1504.2 L392.3 1502.2 L392.4 1500.2 L392.5 1498.2 L392.6 1496.2 L392.7 1494.2 L392.8 1492.2 L392.8 1490.2 L392.9 1488.2 L393.0 1486.2 L393.1 1484.2 L393.1 1482.2 L393.2 1480.1 L393.3 1478.1 L393.3 1476.1 L393.4 1474.1 L393.5 1472.1 L393.6 1470.1 L393.6 1468.1 L393.7 1466.1 L393.8 1464.1 L393.8 1462.1 L393.9 1460.1 L394.0 1458.1 L394.0 1456.1 L394.1 1454.1 L394.2 1452.1 L394.2 1450.0 L394.3 1448.0 L394.4 1446.0 L394.4 1444.0 L394.5 1442.0 L394.6 1440.0 L394.6 1438.0 L394.7 1436.0 L394.8 1434.0 L394.8 1432.0 L394.9 1430.0 L395.0 1428.0 L395.0 1426.0 L395.1 1424.0 L395.2 1422.0 L395.2 1420.0 L395.3 1418.0 L395.4 1415.9 L395.5 1413.9 L395.5 1411.9 L395.6 1409.9 L395.7 1407.9 L395.8 1405.9 L395.9 1403.9 L395.9 1401.9 L396.0 1399.9 L396.1 1397.9 L396.2 1395.9 L396.3 1393.9 L396.4 1391.9 L396.5 1389.9 L396.5 1387.9 L396.6 1385.9 L396.7 1383.9 L396.8 1381.9 L396.9 1379.9 L397.0 1377.9 L397.1 1375.8 L397.2 1373.8 L397.4 1371.8 L397.5 1369.8 L397.6 1367.8 L397.7 1365.8 L397.8 1363.8 L397.9 1361.8 L398.1 1359.8 L398.2 1357.8 L398.3 1355.8 L398.4 1353.8 L398.6 1351.8 L398.7 1349.8 L398.9 1347.8 L399.0 1345.8 L399.1 1343.8 L399.3 1341.8 L399.4 1339.8 L399.6 1337.8 L399.8 1335.8 L399.9 1333.8 L400.1 1331.8 L400.2 1329.7 L400.4 1327.7 L400.6 1325.7 L400.8 1323.7 L401.0 1321.7 L401.1 1319.7 L401.3 1317.7 L401.5 1315.7 L401.7 1313.7 L401.9 1311.7 L402.1 1309.7 L402.3 1307.7 L402.6 1305.7 L402.8 1303.7 L403.0 1301.7 L403.2 1299.7 L403.4 1297.7 L403.7 1295.7 L403.9 1293.7 L404.2 1291.7 L404.4 1289.7 L404.7 1287.7 L404.9 1285.7 L405.2 1283.6 L405.5 1281.6 L405.7 1279.6 L406.0 1277.6 L406.3 1275.6 L406.6 1273.6 L406.9 1271.6 L407.2 1269.6 L407.5 1267.6 L407.8 1265.6 L408.1 1263.6 L408.4 1261.6 L408.7 1259.6 L409.1 1257.6 L409.4 1255.6 L409.7 1253.6 L410.1 1251.6 L410.5 1249.6 L410.8 1247.6 L411.2 1245.6 L411.7 1243.6 L412.1 1241.7 L412.6 1239.8 L413.1 1237.8 L413.6 1235.9 L414.2 1234.0 L414.8 1232.2 L415.5 1230.4 L416.2 1228.6 L417.0 1226.8 L417.8 1225.0 L418.6 1223.3 L419.5 1221.7 L420.5 1220.0 L421.6 1218.4 L422.7 1216.9 L423.9 1215.4 L425.1 1213.9 L426.4 1212.5 L427.8 1211.1 L429.3 1209.8 L430.9 1208.5 L432.6 1207.3 L434.3 1206.2 L436.1 1205.1 L438.0 1204.1 L440.0 1203.1 L442.0 1202.2 L444.0 1201.4 L446.1 1200.6 L448.1 1199.9 L450.1 1199.2 L452.1 1198.7 L454.1 1198.2 L456.0 1197.8 L457.8 1197.4 L459.6 1197.1 L461.2 1196.9 L462.8 1196.9 L464.3 1197.0 L464.5 1199.0 L464.8 1201.0 L465.0 1202.9 L465.3 1204.9 L465.5 1206.9 L465.7 1208.9 L466.0 1210.9 L466.2 1212.9 L466.4 1214.9 L466.7 1216.8 L466.9 1218.8 L467.1 1220.8 L467.4 1222.8 L467.6 1224.8 L467.8 1226.8 L468.0 1228.8 L468.3 1230.8 L468.5 1232.8 L468.7 1234.8 L468.9 1236.8 L469.2 1238.8 L469.4 1240.7 L469.6 1242.7 L469.8 1244.7 L470.1 1246.7 L470.3 1248.7 L470.5 1250.7 L470.8 1252.7 L471.0 1254.7 L471.2 1256.7 L471.4 1258.7 L471.7 1260.7 L471.9 1262.7 L472.1 1264.7 L472.4 1266.7 L472.6 1268.7 L472.8 1270.7 L473.0 1272.7 L473.3 1274.7 L473.5 1276.7 L473.7 1278.7 L474.0 1280.7 L474.2 1282.7 L474.5 1284.7 L474.7 1286.7 L474.9 1288.7 L475.2 1290.7 L475.4 1292.7 L475.7 1294.7 L475.9 1296.7 L476.2 1298.7 L476.4 1300.7 L476.7 1302.7 L476.9 1304.7 L477.2 1306.7 L477.4 1308.7 L477.7 1310.7 L478.0 1312.7 L478.2 1314.7 L478.5 1316.7 L478.7 1318.7 L479.0 1320.7 L479.3 1322.7 L479.6 1324.7 L479.8 1326.7 L480.1 1328.7 L480.4 1330.7 L480.7 1332.6 L481.0 1334.6 L481.3 1336.6 L481.6 1338.6 L481.9 1340.6 L482.1 1342.6 L482.4 1344.6 L482.8 1346.6 L483.1 1348.6 L483.4 1350.6 L483.7 1352.5 L484.0 1354.5 L484.3 1356.5 L484.6 1358.5 L485.0 1360.5 L485.3 1362.5 L485.6 1364.4 L486.0 1366.4 L486.3 1368.4 L486.7 1370.4 L487.0 1372.4 L487.4 1374.3 L487.7 1376.3 L488.1 1378.3 L488.4 1380.3 L488.8 1382.2 L489.2 1384.2 L489.6 1386.2 L489.9 1388.1 L490.3 1390.1 L490.7 1392.1 L491.1 1394.0 L491.5 1396.0 L491.9 1398.0 L492.3 1399.9 L492.7 1401.9 L493.2 1403.8 L493.6 1405.8 L494.0 1407.8 L494.4 1409.7 L494.9 1411.7 L495.3 1413.6 L495.8 1415.6 L496.2 1417.5 L496.7 1419.5 L497.1 1421.4 L497.6 1423.4 L498.1 1425.3 L498.6 1427.2 L499.1 1429.2 L499.5 1431.1 L500.0 1433.1 L500.5 1435.0 L501.1 1436.9 L501.6 1438.9 L502.1 1440.8 L502.6 1442.7 L503.1 1444.6 L503.7 1446.6 L504.2 1448.5 L504.8 1450.4 L505.3 1452.3 L505.9 1454.2 L506.5 1456.2 L507.0 1458.1 L507.6 1460.0 L508.2 1461.9 L508.8 1463.8 L509.4 1465.7 L510.0 1467.6 L510.6 1469.5 L511.2 1471.4 L511.9 1473.3 L512.5 1475.2 L513.1 1477.1 L513.8 1479.0 L514.5 1480.9 L515.1 1482.8 L515.8 1484.6 L516.5 1486.5 L517.2 1488.4 L517.8 1490.3 L518.5 1492.2 L519.3 1494.0 L520.0 1495.9 L520.7 1497.8 L521.4 1499.6 L522.2 1501.5 L522.9 1503.4 L523.7 1505.2 L524.4 1507.1 L525.2 1508.9 L526.0 1510.8 L526.8 1512.6 L527.6 1514.5 L528.4 1516.3 L529.2 1518.1 L530.0 1520.0 L530.8 1521.8 L531.7 1523.7 L532.5 1525.5 L533.4 1527.3 L534.2 1529.1 L535.1 1531.0 L536.0 1532.8 L536.9 1534.6 L537.8 1536.4 L538.7 1538.2 L539.6 1540.0 L540.5 1541.8 L541.4 1543.6 L542.4 1545.4 L543.3 1547.2 L544.3 1549.0 L544.5 1547.0 L544.6 1545.0 L544.8 1543.0 L544.9 1540.9 L545.1 1538.9 L545.2 1536.9 L545.3 1534.9 L545.5 1532.9 L545.6 1530.9 L545.7 1528.9 L545.8 1526.9 L546.0 1524.9 L546.1 1522.9 L546.2 1520.9 L546.3 1518.8 L546.4 1516.8 L546.5 1514.8 L546.6 1512.8 L546.7 1510.8 L546.8 1508.8 L546.9 1506.8 L547.0 1504.8 L547.1 1502.8 L547.2 1500.8 L547.3 1498.8 L547.4 1496.8 L547.5 1494.8 L547.6 1492.8 L547.6 1490.8 L547.7 1488.8 L547.8 1486.8 L547.9 1484.8 L547.9 1482.8 L548.0 1480.8 L548.1 1478.8 L548.2 1476.8 L548.2 1474.8 L548.3 1472.8 L548.4 1470.8 L548.4 1468.8 L548.5 1466.9 L548.6 1464.9 L548.6 1462.9 L548.7 1460.9 L548.7 1458.9 L548.8 1456.9 L548.9 1454.9 L548.9 1452.9 L549.0 1450.9 L549.0 1448.9 L549.1 1446.9 L549.2 1444.9 L549.2 1442.9 L549.3 1440.9 L549.3 1438.9 L549.4 1436.9 L549.5 1435.0 L549.5 1433.0 L549.6 1431.0 L549.6 1429.0 L549.7 1427.0 L549.7 1425.0 L549.8 1423.0 L549.9 1421.0 L549.9 1419.0 L550.0 1417.0 L550.1 1415.0 L550.1 1413.0 L550.2 1411.1 L550.2 1409.1 L550.3 1407.1 L550.4 1405.1 L550.5 1403.1 L550.5 1401.1 L550.6 1399.1 L550.7 1397.1 L550.7 1395.1 L550.8 1393.1 L550.9 1391.1 L551.0 1389.1 L551.1 1387.2 L551.1 1385.2 L551.2 1383.2 L551.3 1381.2 L551.4 1379.2 L551.5 1377.2 L551.6 1375.2 L551.7 1373.2 L551.8 1371.2 L551.9 1369.2 L552.0 1367.2 L552.1 1365.2 L552.2 1363.2 L552.3 1361.2 L552.4 1359.2 L552.5 1357.2 L552.6 1355.2 L552.8 1353.2 L552.9 1351.3 L553.0 1349.3 L553.1 1347.3 L553.3 1345.3 L553.4 1343.3 L553.5 1341.3 L553.7 1339.3 L553.8 1337.3 L554.0 1335.3 L554.1 1333.3 L554.3 1331.3 L554.5 1329.3 L554.6 1327.3 L554.8 1325.3 L555.0 1323.3 L555.1 1321.3 L555.3 1319.3 L555.5 1317.3 L555.7 1315.2 L555.9 1313.2 L556.1 1311.2 L556.3 1309.2 L556.5 1307.2 L556.7 1305.2 L556.9 1303.2 L557.1 1301.2 L557.3 1299.2 L557.6 1297.2 L557.8 1295.2 L558.0 1293.2 L558.3 1291.2 L558.5 1289.1 L558.8 1287.1 L559.1 1285.1 L559.3 1283.1 L559.6 1281.1 L559.9 1279.1 L560.1 1277.1 L560.4 1275.0 L560.7 1273.0 L561.0 1271.0 L561.3 1269.0 L561.6 1267.0 L561.9 1265.0 L562.3 1262.9 L562.6 1260.9 L562.9 1258.9 L563.3 1256.9 L563.6 1254.9 L564.0 1252.9 L564.4 1250.9 L564.8 1248.9 L565.3 1246.9 L565.8 1245.0 L566.3 1243.1 L566.8 1241.2 L567.4 1239.4 L568.1 1237.5 L568.7 1235.8 L569.5 1234.0 L570.3 1232.3 L571.1 1230.6 L572.1 1229.0 L573.1 1227.5 L574.1 1226.0 L575.2 1224.5 L576.4 1223.1 L577.7 1221.8 L579.1 1220.6 L580.5 1219.4 L582.1 1218.3 L583.7 1217.2 L585.5 1216.3 L587.3 1215.4 L589.2 1214.6 L591.3 1213.9 L593.4 1213.2 L595.6 1212.7 L597.8 1212.2 L600.0 1211.7 L602.2 1211.4 L604.4 1211.0 L606.6 1210.7 L608.8 1210.5 L610.8 1210.3 L612.8 1210.1 L614.7 1209.9 L616.4 1209.8 L618.1 1209.6 L619.7 1209.7 L621.4 1210.0 L621.6 1212.0 L621.9 1214.0 L622.1 1216.0 L622.3 1217.9 L622.5 1219.9 L622.8 1221.9 L623.0 1223.9 L623.2 1225.9 L623.4 1227.9 L623.6 1229.9 L623.8 1231.9 L624.1 1233.9 L624.3 1235.9 L624.5 1237.9 L624.7 1239.9 L624.9 1241.9 L625.1 1243.9 L625.3 1245.9 L625.5 1247.9 L625.7 1249.9 L625.9 1251.9 L626.1 1253.9 L626.3 1255.9 L626.5 1257.9 L626.8 1259.9 L627.0 1261.9 L627.2 1263.9 L627.4 1265.9 L627.6 1267.9 L627.8 1269.9 L628.0 1271.9 L628.2 1273.9 L628.4 1275.9 L628.6 1277.9 L628.8 1279.9 L629.0 1281.9 L629.2 1283.9 L629.4 1285.9 L629.7 1287.9 L629.9 1290.0 L630.1 1292.0 L630.3 1294.0 L630.5 1296.0 L630.8 1298.0 L631.0 1300.0 L631.2 1302.0 L631.4 1304.0 L631.7 1306.0 L631.9 1308.0 L632.1 1310.0 L632.4 1312.0 L632.6 1314.0 L632.9 1316.0 L633.1 1318.0 L633.3 1320.0 L633.6 1322.0 L633.9 1324.0 L634.1 1326.0 L634.4 1328.0 L634.6 1330.0 L634.9 1332.0 L635.2 1334.0 L635.5 1336.0 L635.7 1338.0 L636.0 1340.0 L636.3 1342.0 L636.6 1344.0 L636.9 1346.0 L637.2 1348.0 L637.5 1350.0 L637.8 1351.9 L638.1 1353.9 L638.4 1355.9 L638.8 1357.9 L639.1 1359.9 L639.4 1361.9 L639.7 1363.8 L640.1 1365.8 L640.4 1367.8 L640.8 1369.8 L641.2 1371.8 L641.5 1373.7 L641.9 1375.7 L642.3 1377.7 L642.6 1379.6 L643.0 1381.6 L643.4 1383.6 L643.8 1385.5 L644.2 1387.5 L644.6 1389.5 L645.1 1391.4 L645.5 1393.4 L645.9 1395.3 L646.4 1397.3 L646.8 1399.2 L647.3 1401.2 L647.7 1403.1 L648.2 1405.1 L648.7 1407.0 L649.1 1409.0 L649.6 1410.9 L650.1 1412.9 L650.6 1414.8 L651.1 1416.7 L651.7 1418.7 L652.2 1420.6 L652.7 1422.5 L653.3 1424.4 L653.8 1426.4 L654.4 1428.3 L654.9 1430.2 L655.5 1432.1 L656.1 1434.0 L656.7 1435.9 L657.3 1437.8 L657.9 1439.7 L658.5 1441.6 L659.2 1443.5 L659.8 1445.4 L660.4 1447.3 L661.1 1449.2 L661.7 1451.1 L662.4 1453.0 L663.1 1454.9 L663.8 1456.8 L664.4 1458.7 L665.1 1460.5 L665.8 1462.4 L666.5 1464.3 L667.2 1466.2 L668.0 1468.0 L668.7 1469.9 L669.4 1471.8 L670.1 1473.7 L670.9 1475.5 L671.6 1477.4 L672.4 1479.2 L673.1 1481.1 L673.9 1483.0 L674.7 1484.8 L675.4 1486.7 L676.2 1488.5 L677.0 1490.4 L677.8 1492.2 L678.5 1494.1 L679.3 1495.9 L680.1 1497.8 L680.9 1499.6 L681.7 1501.5 L682.5 1503.3 L683.3 1505.2 L684.1 1507.0 L684.9 1508.8 L685.8 1510.7 L686.6 1512.5 L687.4 1514.4 L688.2 1516.2 L689.0 1518.0 L689.9 1519.9 L690.7 1521.7 L691.5 1523.5 L692.3 1525.4 L693.2 1527.2 L694.0 1529.0 L694.8 1530.9 L695.7 1532.7 L696.5 1534.5 L697.3 1536.3 L698.2 1538.2 L699.0 1540.0 L699.2 1538.0 L699.4 1536.0 L699.6 1534.0 L699.8 1532.0 L700.0 1530.0 L700.2 1528.0 L700.4 1526.1 L700.6 1524.1 L700.7 1522.1 L700.9 1520.1 L701.1 1518.1 L701.2 1516.1 L701.4 1514.1 L701.5 1512.1 L701.7 1510.1 L701.8 1508.1 L702.0 1506.1 L702.1 1504.1 L702.2 1502.1 L702.3 1500.1 L702.5 1498.1 L702.6 1496.1 L702.7 1494.1 L702.8 1492.1 L702.9 1490.1 L703.0 1488.1 L703.1 1486.1 L703.2 1484.1 L703.3 1482.1 L703.4 1480.1 L703.5 1478.1 L703.6 1476.1 L703.7 1474.1 L703.8 1472.1 L703.8 1470.1 L703.9 1468.1 L704.0 1466.1 L704.1 1464.1 L704.1 1462.1 L704.2 1460.1 L704.3 1458.1 L704.4 1456.1 L704.4 1454.1 L704.5 1452.1 L704.6 1450.1 L704.6 1448.1 L704.7 1446.0 L704.7 1444.0 L704.8 1442.0 L704.9 1440.0 L704.9 1438.0 L705.0 1436.0 L705.0 1434.0 L705.1 1432.0 L705.1 1430.0 L705.2 1428.0 L705.3 1426.0 L705.3 1424.0 L705.4 1422.0 L705.4 1420.0 L705.5 1418.0 L705.5 1416.0 L705.6 1414.0 L705.6 1412.0 L705.7 1410.0 L705.8 1407.9 L705.8 1405.9 L705.9 1403.9 L706.0 1401.9 L706.0 1399.9 L706.1 1397.9 L706.1 1395.9 L706.2 1393.9 L706.3 1391.9 L706.4 1389.9 L706.4 1387.9 L706.5 1385.9 L706.6 1383.9 L706.7 1381.9 L706.7 1379.9 L706.8 1377.9 L706.9 1375.9 L707.0 1373.9 L707.1 1371.9 L707.2 1369.9 L707.3 1367.9 L707.4 1365.9 L707.5 1363.8 L707.6 1361.8 L707.7 1359.8 L707.8 1357.8 L707.9 1355.8 L708.1 1353.8 L708.2 1351.8 L708.3 1349.8 L708.4 1347.8 L708.6 1345.8 L708.7 1343.8 L708.9 1341.8 L709.0 1339.8 L709.1 1337.8 L709.3 1335.8 L709.5 1333.8 L709.6 1331.8 L709.8 1329.8 L710.0 1327.8 L710.2 1325.8 L710.3 1323.9 L710.5 1321.9 L710.7 1319.9 L710.9 1317.9 L711.1 1315.9 L711.3 1313.9 L711.5 1311.9 L711.8 1309.9 L712.0 1307.9 L712.2 1305.9 L712.5 1303.9 L712.7 1301.9 L713.0 1299.9 L713.2 1297.9 L713.5 1295.9 L713.8 1294.0 L714.0 1292.0 L714.3 1290.0 L714.6 1288.0 L714.9 1286.0 L715.2 1284.0 L715.5 1282.0 L715.8 1280.0 L716.2 1278.0 L716.5 1276.1 L716.8 1274.1 L717.2 1272.1 L717.6 1270.1 L717.9 1268.1 L718.3 1266.2 L718.7 1264.2 L719.1 1262.2 L719.6 1260.3 L720.0 1258.4 L720.5 1256.4 L721.1 1254.6 L721.7 1252.7 L722.3 1250.9 L722.9 1249.0 L723.7 1247.3 L724.4 1245.5 L725.3 1243.8 L726.2 1242.2 L727.1 1240.6 L728.1 1239.0 L729.2 1237.5 L730.4 1236.0 L731.7 1234.6 L733.0 1233.2 L734.4 1231.9 L736.0 1230.7 L737.6 1229.5 L739.2 1228.4 L741.0 1227.4 L742.8 1226.4 L744.7 1225.4 L746.6 1224.6 L748.6 1223.7 L750.6 1223.0 L752.6 1222.2 L754.7 1221.6 L756.8 1221.0 L758.8 1220.4 L760.9 1219.9 L763.0 1219.4 L765.1 1218.9 L767.1 1218.5 L769.1 1218.2 L771.1 1217.8 L773.0 1217.5 L774.9 1217.2 L776.7 1217.0 L776.9 1219.0 L777.0 1221.0 L777.2 1222.9 L777.4 1224.9 L777.5 1226.9 L777.7 1228.9 L777.9 1230.9 L778.0 1232.8 L778.2 1234.8 L778.4 1236.8 L778.5 1238.8 L778.7 1240.8 L778.9 1242.8 L779.0 1244.8 L779.2 1246.8 L779.4 1248.8 L779.6 1250.8 L779.7 1252.8 L779.9 1254.8 L780.1 1256.8 L780.3 1258.8 L780.5 1260.8 L780.7 1262.8 L780.8 1264.8 L781.0 1266.8 L781.2 1268.8 L781.4 1270.8 L781.6 1272.8 L781.8 1274.8 L782.0 1276.8 L782.2 1278.8 L782.4 1280.8 L782.6 1282.8 L782.8 1284.8 L783.0 1286.8 L783.2 1288.8 L783.4 1290.8 L783.6 1292.8 L783.9 1294.8 L784.1 1296.8 L784.3 1298.8 L784.5 1300.9 L784.7 1302.9 L785.0 1304.9 L785.2 1306.9 L785.5 1308.9 L785.7 1310.9 L785.9 1312.9 L786.2 1314.9 L786.4 1316.9 L786.7 1318.9 L786.9 1320.9 L787.2 1322.9 L787.5 1324.9 L787.7 1326.9 L788.0 1328.9 L788.3 1330.9 L788.6 1332.9 L788.8 1334.9 L789.1 1336.9 L789.4 1338.9 L789.7 1340.9 L790.0 1342.9 L790.3 1344.9 L790.6 1346.9 L790.9 1348.9 L791.3 1350.9 L791.6 1352.9 L791.9 1354.9 L792.2 1356.9 L792.6 1358.9 L792.9 1360.9 L793.3 1362.9 L793.6 1364.9 L794.0 1366.8 L794.3 1368.8 L794.7 1370.8 L795.1 1372.8 L795.5 1374.8 L795.8 1376.7 L796.2 1378.7 L796.6 1380.7 L797.0 1382.7 L797.4 1384.6 L797.8 1386.6 L798.2 1388.6 L798.7 1390.6 L799.1 1392.5 L799.5 1394.5 L800.0 1396.4 L800.4 1398.4 L800.9 1400.4 L801.3 1402.3 L801.8 1404.3 L802.3 1406.2 L802.7 1408.2 L803.2 1410.1 L803.7 1412.1 L804.2 1414.0 L804.7 1415.9 L805.2 1417.9 L805.7 1419.8 L806.3 1421.7 L806.8 1423.7 L807.3 1425.6 L807.9 1427.5 L808.4 1429.5 L809.0 1431.4 L809.6 1433.3 L810.1 1435.2 L810.7 1437.1 L811.3 1439.0 L811.9 1440.9 L812.5 1442.8 L813.1 1444.7 L813.7 1446.6 L814.4 1448.5 L815.0 1450.4 L815.6 1452.3 L816.3 1454.2 L817.0 1456.1 L817.6 1458.0 L818.3 1459.9 L819.0 1461.7 L819.7 1463.6 L820.4 1465.5 L821.1 1467.3 L821.8 1469.2 L822.5 1471.0 L823.3 1472.9 L824.0 1474.8 L824.8 1476.6 L825.5 1478.4 L826.3 1480.3 L827.1 1482.1 L827.9 1484.0 L828.7 1485.8 L829.5 1487.6 L830.3 1489.4 L831.1 1491.2 L832.0 1493.1 L832.8 1494.9 L833.7 1496.7 L834.5 1498.5 L835.4 1500.3 L836.3 1502.1 L837.2 1503.9 L838.1 1505.6 L839.0 1507.4 L839.9 1509.2 L840.9 1511.0 L841.8 1512.7 L842.8 1514.5 L843.7 1516.3 L844.7 1518.0 L845.7 1519.8 L846.7 1521.5 L847.7 1523.3 L848.7 1525.0 L849.7 1526.7 L850.8 1528.5 L851.8 1530.2 L852.9 1531.9 L853.1 1529.9 L853.3 1527.9 L853.4 1525.9 L853.6 1523.9 L853.8 1521.9 L854.0 1519.9 L854.1 1517.9 L854.3 1515.9 L854.4 1513.9 L854.6 1511.9 L854.7 1509.9 L854.9 1507.9 L855.0 1505.9 L855.2 1503.9 L855.3 1501.9 L855.5 1499.9 L855.6 1497.9 L855.7 1495.9 L855.9 1493.9 L856.0 1491.9 L856.1 1489.9 L856.2 1487.9 L856.4 1485.9 L856.5 1483.9 L856.6 1481.9 L856.7 1479.9 L856.8 1477.9 L856.9 1475.9 L857.1 1473.9 L857.2 1471.9 L857.3 1469.9 L857.4 1467.9 L857.5 1465.9 L857.6 1463.9 L857.7 1461.9 L857.8 1460.0 L857.9 1458.0 L858.0 1456.0 L858.1 1454.0 L858.2 1452.0 L858.3 1450.0 L858.4 1448.0 L858.5 1446.0 L858.6 1444.0 L858.7 1442.0 L858.8 1440.0 L858.8 1438.0 L858.9 1436.1 L859.0 1434.1 L859.1 1432.1 L859.2 1430.1 L859.3 1428.1 L859.4 1426.1 L859.5 1424.1 L859.6 1422.1 L859.6 1420.1 L859.7 1418.1 L859.8 1416.2 L859.9 1414.2 L860.0 1412.2 L860.1 1410.2 L860.2 1408.2 L860.3 1406.2 L860.4 1404.2 L860.5 1402.2 L860.6 1400.2 L860.6 1398.2 L860.7 1396.3 L860.8 1394.3 L860.9 1392.3 L861.0 1390.3 L861.1 1388.3 L861.2 1386.3 L861.3 1384.3 L861.4 1382.3 L861.5 1380.3 L861.6 1378.3 L861.7 1376.3 L861.8 1374.3 L862.0 1372.3 L862.1 1370.4 L862.2 1368.4 L862.3 1366.4 L862.4 1364.4 L862.5 1362.4 L862.6 1360.4 L862.8 1358.4 L862.9 1356.4 L863.0 1354.4 L863.1 1352.4 L863.3 1350.4 L863.4 1348.4 L863.5 1346.4 L863.7 1344.4 L863.8 1342.4 L864.0 1340.4 L864.1 1338.4 L864.3 1336.4 L864.4 1334.4 L864.6 1332.4 L864.7 1330.4 L864.9 1328.4 L865.1 1326.4 L865.3 1324.4 L865.4 1322.4 L865.6 1320.5 L865.8 1318.5 L866.1 1316.5 L866.3 1314.5 L866.5 1312.5 L866.7 1310.5 L867.0 1308.5 L867.2 1306.5 L867.5 1304.5 L867.8 1302.5 L868.0 1300.5 L868.3 1298.5 L868.6 1296.6 L868.9 1294.6 L869.3 1292.6 L869.6 1290.6 L869.9 1288.6 L870.3 1286.7 L870.7 1284.7 L871.1 1282.7 L871.4 1280.7 L871.9 1278.8 L872.3 1276.8 L872.7 1274.8 L873.2 1272.9 L873.6 1270.9 L874.1 1268.9 L874.6 1267.0 L875.2 1265.0 L875.7 1263.1 L876.2 1261.1 L876.8 1259.2 L877.4 1257.2 L878.0 1255.3 L878.6 1253.4 L879.3 1251.4 L879.9 1249.5 L880.6 1247.6 L881.3 1245.7 L882.0 1243.8 L882.8 1242.0 L883.6 1240.1 L884.4 1238.3 L885.2 1236.5 L886.1 1234.7 L887.0 1232.9 L887.9 1231.2 L888.9 1229.5 L889.9 1227.8 L890.9 1226.1 L892.0 1224.5 L893.1 1222.9 L894.2 1221.3 L895.4 1219.8 L896.6 1218.3 L897.8 1216.9 L899.1 1215.4 L900.5 1214.1 L901.8 1212.7 L903.2 1211.5 L904.7 1210.2 L906.2 1209.0 L907.8 1207.9 L909.3 1206.8 L911.0 1205.8 L912.7 1204.8 L914.4 1203.8 L916.2 1203.0 L918.1 1202.2 L920.0 1201.4 L921.9 1200.7 L923.9 1200.1 L926.0 1199.5 L928.1 1199.0 L928.3 1201.0 L928.5 1202.9 L928.7 1204.9 L929.0 1206.9 L929.2 1208.9 L929.4 1210.8 L929.6 1212.8 L929.8 1214.8 L930.0 1216.8 L930.2 1218.8 L930.4 1220.7 L930.6 1222.7 L930.8 1224.7 L930.9 1226.7 L931.1 1228.7 L931.3 1230.7 L931.5 1232.7 L931.7 1234.7 L931.9 1236.7 L932.1 1238.7 L932.3 1240.6 L932.5 1242.6 L932.7 1244.6 L932.8 1246.6 L933.0 1248.6 L933.2 1250.6 L933.4 1252.6 L933.6 1254.6 L933.8 1256.6 L934.0 1258.6 L934.2 1260.6 L934.4 1262.6 L934.5 1264.6 L934.7 1266.6 L934.9 1268.6 L935.1 1270.6 L935.3 1272.6 L935.5 1274.7 L935.7 1276.7 L935.9 1278.7 L936.1 1280.7 L936.3 1282.7 L936.5 1284.7 L936.8 1286.7 L937.0 1288.7 L937.2 1290.7 L937.4 1292.7 L937.6 1294.7 L937.8 1296.7 L938.1 1298.7 L938.3 1300.7 L938.5 1302.7 L938.8 1304.7 L939.0 1306.7 L939.2 1308.7 L939.5 1310.7 L939.7 1312.7 L940.0 1314.7 L940.3 1316.7 L940.5 1318.7 L940.8 1320.7 L941.1 1322.6 L941.3 1324.6 L941.6 1326.6 L941.9 1328.6 L942.2 1330.6 L942.5 1332.6 L942.8 1334.6 L943.1 1336.6 L943.4 1338.5 L943.7 1340.5 L944.0 1342.5 L944.3 1344.5 L944.7 1346.5 L945.0 1348.4 L945.3 1350.4 L945.7 1352.4 L946.1 1354.4 L946.4 1356.3 L946.8 1358.3 L947.2 1360.3 L947.5 1362.2 L947.9 1364.2 L948.3 1366.2 L948.7 1368.1 L949.1 1370.1 L949.5 1372.0 L950.0 1374.0 L950.4 1375.9 L950.8 1377.9 L951.3 1379.8 L951.7 1381.8 L952.2 1383.7 L952.6 1385.7 L953.1 1387.6 L953.6 1389.5 L954.1 1391.5 L954.6 1393.4 L955.1 1395.3 L955.6 1397.3 L956.1 1399.2 L956.7 1401.1 L957.2 1403.0 L957.8 1404.9 L958.3 1406.8 L958.9 1408.7 L959.5 1410.7 L960.1 1412.6 L960.7 1414.5 L961.3 1416.4 L961.9 1418.2 L962.5 1420.1 L963.1 1422.0 L963.8 1423.9 L964.4 1425.8 L965.1 1427.7 L965.7 1429.6 L966.4 1431.4 L967.1 1433.3 L967.8 1435.2 L968.4 1437.1 L969.1 1438.9 L969.9 1440.8 L970.6 1442.7 L971.3 1444.5 L972.0 1446.4 L972.8 1448.2 L973.5 1450.1 L974.3 1451.9 L975.0 1453.8 L975.8 1455.6 L976.6 1457.5 L977.3 1459.3 L978.1 1461.1 L978.9 1463.0 L979.7 1464.8 L980.5 1466.6 L981.3 1468.5 L982.2 1470.3 L983.0 1472.1 L983.8 1473.9 L984.7 1475.7 L985.5 1477.6 L986.4 1479.4 L987.2 1481.2 L988.1 1483.0 L989.0 1484.8 L989.9 1486.6 L990.7 1488.4 L991.6 1490.2 L992.5 1492.0 L993.4 1493.8 L994.3 1495.6 L995.2 1497.4 L996.1 1499.2 L997.0 1501.0 L998.0 1502.8 L998.9 1504.6 L999.8 1506.3 L1000.7 1508.1 L1001.6 1509.9 L1002.6 1511.7 L1003.5 1513.5 L1004.4 1515.3 L1005.3 1517.1 L1006.3 1518.8 L1007.2 1520.6 L1008.1 1522.4 L1008.2 1520.4 L1008.4 1518.4 L1008.5 1516.4 L1008.7 1514.5 L1008.8 1512.5 L1008.9 1510.5 L1009.1 1508.5 L1009.2 1506.5 L1009.3 1504.5 L1009.4 1502.5 L1009.5 1500.5 L1009.7 1498.6 L1009.8 1496.6 L1009.9 1494.6 L1010.0 1492.6 L1010.1 1490.6 L1010.2 1488.6 L1010.3 1486.6 L1010.4 1484.6 L1010.5 1482.6 L1010.6 1480.6 L1010.6 1478.6 L1010.7 1476.6 L1010.8 1474.6 L1010.9 1472.6 L1011.0 1470.6 L1011.1 1468.6 L1011.1 1466.6 L1011.2 1464.6 L1011.3 1462.6 L1011.4 1460.6 L1011.4 1458.6 L1011.5 1456.6 L1011.6 1454.6 L1011.6 1452.6 L1011.7 1450.6 L1011.8 1448.6 L1011.8 1446.6 L1011.9 1444.6 L1012.0 1442.6 L1012.0 1440.6 L1012.1 1438.6 L1012.2 1436.6 L1012.2 1434.6 L1012.3 1432.6 L1012.3 1430.6 L1012.4 1428.6 L1012.5 1426.6 L1012.5 1424.6 L1012.6 1422.6 L1012.6 1420.5 L1012.7 1418.5 L1012.8 1416.5 L1012.8 1414.5 L1012.9 1412.5 L1013.0 1410.5 L1013.0 1408.5 L1013.1 1406.5 L1013.1 1404.5 L1013.2 1402.5 L1013.3 1400.5 L1013.3 1398.5 L1013.4 1396.5 L1013.5 1394.5 L1013.6 1392.5 L1013.6 1390.5 L1013.7 1388.5 L1013.8 1386.5 L1013.9 1384.5 L1013.9 1382.4 L1014.0 1380.4 L1014.1 1378.4 L1014.2 1376.4 L1014.3 1374.4 L1014.4 1372.4 L1014.4 1370.4 L1014.5 1368.4 L1014.6 1366.4 L1014.7 1364.4 L1014.8 1362.4 L1014.9 1360.4 L1015.0 1358.4 L1015.1 1356.4 L1015.2 1354.4 L1015.4 1352.4 L1015.5 1350.4 L1015.6 1348.4 L1015.7 1346.4 L1015.8 1344.4 L1016.0 1342.4 L1016.1 1340.4 L1016.2 1338.4 L1016.4 1336.4 L1016.5 1334.4 L1016.6 1332.4 L1016.8 1330.5 L1016.9 1328.5 L1017.1 1326.5 L1017.2 1324.5 L1017.4 1322.5 L1017.6 1320.5 L1017.7 1318.5 L1017.9 1316.5 L1018.1 1314.5 L1018.3 1312.5 L1018.5 1310.5 L1018.7 1308.6 L1018.9 1306.6 L1019.1 1304.6 L1019.3 1302.6 L1019.5 1300.6 L1019.7 1298.6 L1019.9 1296.6 L1020.1 1294.7 L1020.4 1292.7 L1020.6 1290.7 L1020.8 1288.7 L1021.1 1286.7 L1021.3 1284.8 L1021.6 1282.8 L1021.8 1280.8 L1022.1 1278.8 L1022.4 1276.9 L1022.7 1274.9 L1022.9 1272.9 L1023.2 1271.0 L1023.5 1269.0 L1023.8 1267.0 L1024.1 1265.0 L1024.5 1263.1 L1024.8 1261.1 L1025.1 1259.1 L1025.4 1257.2 L1025.8 1255.2 L1026.1 1253.3 L1026.5 1251.3 L1026.8 1249.3 L1027.2 1247.4 L1027.6 1245.4 L1028.0 1243.5 L1028.4 1241.5 L1028.8 1239.6 L1029.3 1237.7 L1029.8 1235.8 L1030.3 1233.8 L1030.8 1231.9 L1031.4 1230.0 L1031.9 1228.2 L1032.6 1226.3 L1033.2 1224.4 L1033.9 1222.6 L1034.7 1220.8 L1035.4 1219.0 L1036.2 1217.2 L1037.1 1215.4 L1038.0 1213.6 L1039.0 1211.9 L1040.0 1210.2 L1041.1 1208.5 L1042.2 1206.8 L1043.4 1205.2 L1044.6 1203.5 L1045.9 1201.9 L1047.3 1200.4 L1048.7 1198.8 L1050.2 1197.3 L1051.7 1195.8 L1053.3 1194.4 L1055.0 1193.0 L1056.6 1191.7 L1058.3 1190.5 L1060.1 1189.3 L1061.8 1188.2 L1063.6 1187.2 L1065.4 1186.3 L1067.2 1185.5 L1069.0 1184.8 L1070.8 1184.1 L1072.6 1183.7 L1074.4 1183.3 L1076.2 1183.0 L1078.0 1183.0 L1079.8 1183.1 L1081.5 1183.3 L1083.3 1183.8 L1083.5 1185.8 L1083.7 1187.8 L1083.9 1189.8 L1084.1 1191.7 L1084.4 1193.7 L1084.6 1195.7 L1084.8 1197.7 L1085.0 1199.7 L1085.2 1201.7 L1085.4 1203.7 L1085.6 1205.7 L1085.8 1207.7 L1086.0 1209.7 L1086.2 1211.7 L1086.5 1213.7 L1086.7 1215.7 L1086.9 1217.7 L1087.1 1219.6 L1087.3 1221.6 L1087.5 1223.6 L1087.7 1225.6 L1087.9 1227.6 L1088.2 1229.6 L1088.4 1231.6 L1088.6 1233.6 L1088.8 1235.6 L1089.0 1237.6 L1089.2 1239.6 L1089.5 1241.6 L1089.7 1243.6 L1089.9 1245.6 L1090.1 1247.6 L1090.4 1249.6 L1090.6 1251.6 L1090.8 1253.6 L1091.0 1255.6 L1091.3 1257.6 L1091.5 1259.6 L1091.7 1261.6 L1092.0 1263.6 L1092.2 1265.6 L1092.5 1267.6 L1092.7 1269.6 L1092.9 1271.6 L1093.2 1273.6 L1093.4 1275.6 L1093.7 1277.6 L1093.9 1279.6 L1094.2 1281.6 L1094.5 1283.6 L1094.7 1285.6 L1095.0 1287.6 L1095.2 1289.5 L1095.5 1291.5 L1095.8 1293.5 L1096.1 1295.5 L1096.3 1297.5 L1096.6 1299.5 L1096.9 1301.5 L1097.2 1303.5 L1097.5 1305.5 L1097.8 1307.5 L1098.1 1309.5 L1098.4 1311.5 L1098.7 1313.4 L1099.0 1315.4 L1099.3 1317.4 L1099.6 1319.4 L1099.9 1321.4 L1100.2 1323.4 L1100.6 1325.4 L1100.9 1327.3 L1101.2 1329.3 L1101.6 1331.3 L1101.9 1333.3 L1102.2 1335.3 L1102.6 1337.2 L1102.9 1339.2 L1103.3 1341.2 L1103.7 1343.2 L1104.0 1345.1 L1104.4 1347.1 L1104.8 1349.1 L1105.2 1351.0 L1105.5 1353.0 L1105.9 1355.0 L1106.3 1356.9 L1106.7 1358.9 L1107.1 1360.9 L1107.5 1362.8 L1107.9 1364.8 L1108.4 1366.8 L1108.8 1368.7 L1109.2 1370.7 L1109.6 1372.6 L1110.1 1374.6 L1110.5 1376.5 L1111.0 1378.5 L1111.4 1380.5 L1111.9 1382.4 L1112.4 1384.3 L1112.8 1386.3 L1113.3 1388.2 L1113.8 1390.2 L1114.3 1392.1 L1114.8 1394.1 L1115.3 1396.0 L1115.8 1397.9 L1116.3 1399.9 L1116.8 1401.8 L1117.4 1403.7 L1117.9 1405.7 L1118.4 1407.6 L1119.0 1409.5 L1119.5 1411.4 L1120.1 1413.4 L1120.7 1415.3 L1121.2 1417.2 L1121.8 1419.1 L1122.4 1421.0 L1123.0 1423.0 L1123.6 1424.9 L1124.2 1426.8 L1124.8 1428.7 L1125.4 1430.6 L1126.1 1432.5 L1126.7 1434.4 L1127.4 1436.3 L1128.0 1438.2 L1128.7 1440.1 L1129.3 1442.0 L1130.0 1443.9 L1130.7 1445.8 L1131.4 1447.6 L1132.1 1449.5 L1132.8 1451.4 L1133.5 1453.3 L1134.2 1455.2 L1135.0 1457.0 L1135.7 1458.9 L1136.4 1460.8 L1137.2 1462.6 L1138.0 1464.5 L1138.7 1466.4 L1139.5 1468.2 L1140.3 1470.1 L1141.1 1471.9 L1141.9 1473.8" fill="none" stroke="#000" stroke-width="4.6" stroke-linejoin="round" stroke-linecap="round"/>
<g fill="#000"><rect x="147.5" y="1681.0" width="19" height="19"/><rect x="183.5" y="1694.5" width="19" height="19"/><rect x="218.7" y="1710.5" width="19" height="19"/><rect x="256.2" y="1229.1" width="19" height="19"/><rect x="291.9" y="1192.5" width="19" height="19"/><rect x="327.2" y="1399.1" width="19" height="19"/><rect x="363.8" y="1516.7" width="19" height="19"/><rect x="400.5" y="1247.6" width="19" height="19"/><rect x="434.8" y="1193.5" width="19" height="19"/><rect x="471.9" y="1334.3" width="19" height="19"/><rect x="508.6" y="1479.1" width="19" height="19"/><rect x="543.9" y="1356.7" width="19" height="19"/><rect x="579.5" y="1204.8" width="19" height="19"/><rect x="618.1" y="1240.0" width="19" height="19"/><rect x="652.9" y="1443.8" width="19" height="19"/><rect x="687.2" y="1525.7" width="19" height="19"/><rect x="725.7" y="1222.4" width="19" height="19"/><rect x="759.5" y="1208.6" width="19" height="19"/><rect x="796.2" y="1415.3" width="19" height="19"/><rect x="831.5" y="1505.3" width="19" height="19"/><rect x="869.1" y="1251.0" width="19" height="19"/><rect x="904.8" y="1194.3" width="19" height="19"/><rect x="939.1" y="1358.6" width="19" height="19"/><rect x="978.1" y="1469.5" width="19" height="19"/><rect x="1011.9" y="1276.2" width="19" height="19"/><rect x="1048.1" y="1183.8" width="19" height="19"/><rect x="1085.3" y="1271.5" width="19" height="19"/><rect x="1121.0" y="1436.2" width="19" height="19"/><rect x="1132.4" y="1464.3" width="19" height="19"/></g>
<path d="M157.0 1700.0 L159.0 1700.6 L160.9 1701.1 L162.9 1701.5 L164.9 1701.9 L166.9 1702.2 L168.9 1702.5 L170.9 1702.6 L173.0 1702.8 L175.0 1702.9 L177.0 1703.0 L179.0 1703.0 L181.0 1703.1 L183.1 1703.1 L185.1 1703.1 L187.1 1703.1 L189.2 1703.1 L191.2 1703.1 L193.2 1703.1 L195.2 1703.2 L197.3 1703.3 L199.3 1703.4 L201.3 1703.5 L203.3 1703.7 L205.3 1703.9 L207.3 1704.2 L209.3 1704.5 L211.3 1704.8 L213.2 1705.1 L215.2 1705.4 L217.2 1705.7 L219.1 1706.0 L221.1 1706.3 L223.1 1706.5 L225.0 1706.6 L227.0 1706.7 L229.0 1706.8 L230.9 1706.7 L232.9 1706.6 L234.8 1706.3 L236.8 1706.0 L236.9 1704.0 L237.1 1702.0 L237.2 1700.0 L237.4 1698.0 L237.5 1696.0 L237.6 1694.0 L237.7 1692.0 L237.8 1690.0 L237.9 1688.0 L238.0 1686.0 L238.2 1684.0 L238.2 1682.0 L238.3 1680.0 L238.4 1678.0 L238.5 1676.0 L238.6 1674.0 L238.7 1672.0 L238.7 1669.9 L238.8 1667.9 L238.9 1665.9 L238.9 1663.9 L239.0 1661.9 L239.1 1659.9 L239.1 1657.9 L239.2 1655.9 L239.2 1653.9 L239.3 1651.9 L239.3 1649.9 L239.3 1647.9 L239.4 1645.9 L239.4 1643.9 L239.4 1641.9 L239.5 1639.9 L239.5 1637.9 L239.5 1635.9 L239.5 1633.9 L239.6 1631.9 L239.6 1629.8 L239.6 1627.8 L239.6 1625.8 L239.6 1623.8 L239.6 1621.8 L239.6 1619.8 L239.6 1617.8 L239.6 1615.8 L239.6 1613.8 L239.6 1611.8 L239.6 1609.8 L239.6 1607.8 L239.6 1605.8 L239.6 1603.8 L239.6 1601.8 L239.6 1599.7 L239.6 1597.7 L239.6 1595.7 L239.6 1593.7 L239.6 1591.7 L239.6 1589.7 L239.5 1587.7 L239.5 1585.7 L239.5 1583.7 L239.5 1581.7 L239.5 1579.7 L239.5 1577.7 L239.5 1575.7 L239.5 1573.7 L239.4 1571.6 L239.4 1569.6 L239.4 1567.6 L239.4 1565.6 L239.4 1563.6 L239.4 1561.6 L239.4 1559.6 L239.3 1557.6 L239.3 1555.6 L239.3 1553.6 L239.3 1551.6 L239.3 1549.6 L239.3 1547.6 L239.3 1545.5 L239.3 1543.5 L239.3 1541.5 L239.3 1539.5 L239.3 1537.5 L239.3 1535.5 L239.3 1533.5 L239.3 1531.5 L239.3 1529.5 L239.3 1527.5 L239.3 1525.5 L239.3 1523.5 L239.3 1521.5 L239.3 1519.5 L239.3 1517.4 L239.3 1515.4 L239.3 1513.4 L239.4 1511.4 L239.4 1509.4 L239.4 1507.4 L239.4 1505.4 L239.5 1503.4 L239.5 1501.4 L239.5 1499.4 L239.6 1497.4 L239.6 1495.4 L239.6 1493.4 L239.7 1491.4 L239.7 1489.4 L239.8 1487.3 L239.8 1485.3 L239.9 1483.3 L240.0 1481.3 L240.0 1479.3 L240.1 1477.3 L240.2 1475.3 L240.2 1473.3 L240.3 1471.3 L240.4 1469.3 L240.5 1467.3 L240.6 1465.3 L240.7 1463.3 L240.8 1461.3 L240.9 1459.3 L241.0 1457.3 L241.1 1455.3 L241.2 1453.3 L241.3 1451.3 L241.4 1449.2 L241.6 1447.2 L241.7 1445.2 L241.8 1443.2 L242.0 1441.2 L242.1 1439.2 L242.3 1437.2 L242.4 1435.2 L242.6 1433.2 L242.8 1431.2 L242.9 1429.2 L243.1 1427.2 L243.3 1425.2 L243.5 1423.2 L243.7 1421.2 L243.9 1419.2 L244.1 1417.2 L244.3 1415.2 L244.5 1413.2 L244.7 1411.2 L245.0 1409.2 L245.2 1407.2 L245.4 1405.2 L245.7 1403.2 L245.9 1401.2 L246.2 1399.2 L246.5 1397.2 L246.7 1395.2 L247.0 1393.2 L247.3 1391.2 L247.6 1389.2 L247.9 1387.2 L248.2 1385.2 L248.5 1383.2 L248.8 1381.2 L249.2 1379.2 L249.6 1377.3 L250.0 1375.3 L250.4 1373.4 L250.9 1371.5 L251.5 1369.7 L252.1 1367.9 L252.7 1366.1 L253.5 1364.4 L254.3 1362.7 L255.2 1361.1 L256.2 1359.6 L257.3 1358.2 L258.4 1356.8 L259.7 1355.5 L261.2 1354.3 L262.7 1353.2 L264.3 1352.2 L266.1 1351.2 L268.0 1350.4 L270.0 1349.7 L272.1 1349.0 L274.3 1348.4 L276.5 1347.9 L278.7 1347.5 L280.9 1347.1 L283.2 1346.8 L285.4 1346.5 L287.6 1346.3 L289.8 1346.1 L292.0 1346.0 L294.1 1345.9 L296.2 1345.9 L298.3 1346.0 L300.3 1346.2 L302.3 1346.4 L304.2 1346.7 L306.1 1347.1 L307.9 1347.6 L309.6 1348.1 L311.3 1348.8 L312.9 1349.5 L313.0 1351.4 L313.1 1353.3 L313.2 1355.3 L313.3 1357.2 L313.4 1359.1 L313.5 1361.1 L313.6 1363.0 L313.7 1365.0 L313.8 1366.9 L313.9 1368.9 L314.0 1370.8 L314.1 1372.8 L314.2 1374.8 L314.3 1376.8 L314.4 1378.7 L314.5 1380.7 L314.5 1382.7 L314.6 1384.7 L314.7 1386.7 L314.8 1388.7 L314.9 1390.7 L315.0 1392.7 L315.0 1394.7 L315.1 1396.7 L315.2 1398.7 L315.3 1400.7 L315.4 1402.7 L315.5 1404.8 L315.6 1406.8 L315.7 1408.8 L315.8 1410.8 L315.9 1412.9 L316.0 1414.9 L316.1 1416.9 L316.2 1418.9 L316.3 1421.0 L316.4 1423.0 L316.5 1425.0 L316.6 1427.1 L316.7 1429.1 L316.8 1431.2 L316.9 1433.2 L317.1 1435.2 L317.2 1437.3 L317.3 1439.3 L317.5 1441.4 L317.6 1443.4 L317.8 1445.4 L317.9 1447.5 L318.1 1449.5 L318.2 1451.6 L318.4 1453.6 L318.6 1455.7 L318.7 1457.7 L318.9 1459.7 L319.1 1461.8 L319.3 1463.8 L319.5 1465.9 L319.7 1467.9 L319.9 1469.9 L320.1 1472.0 L320.4 1474.0 L320.6 1476.0 L320.8 1478.0 L321.1 1480.1 L321.3 1482.1 L321.6 1484.1 L321.9 1486.1 L322.2 1488.2 L322.4 1490.2 L322.7 1492.2 L323.0 1494.2 L323.3 1496.2 L323.7 1498.2 L324.0 1500.2 L324.3 1502.2 L324.7 1504.2 L325.0 1506.2 L325.4 1508.2 L325.8 1510.2 L326.2 1512.2 L326.5 1514.2 L326.9 1516.1 L327.4 1518.1 L327.8 1520.1 L328.2 1522.1 L328.7 1524.0 L329.1 1526.0 L329.6 1527.9 L330.1 1529.9 L330.6 1531.8 L331.1 1533.7 L331.6 1535.7 L332.1 1537.6 L332.6 1539.5 L333.2 1541.5 L333.8 1543.4 L334.3 1545.3 L334.9 1547.2 L335.5 1549.1 L336.1 1551.0 L336.8 1552.8 L337.4 1554.7 L338.0 1556.6 L338.7 1558.5 L339.4 1560.3 L340.1 1562.2 L340.8 1564.0 L341.5 1565.9 L342.3 1567.7 L343.0 1569.5 L343.8 1571.3 L344.6 1573.2 L345.4 1575.0 L346.2 1576.8 L347.0 1578.6 L347.8 1580.3 L348.7 1582.1 L349.6 1583.9 L350.5 1585.6 L351.4 1587.4 L352.3 1589.1 L353.2 1590.9 L354.2 1592.6 L355.2 1594.3 L356.2 1596.0 L357.2 1597.7 L358.2 1599.4 L359.3 1601.1 L360.3 1602.8 L361.4 1604.5 L362.5 1606.1 L363.6 1607.8 L364.7 1609.4 L365.9 1611.0 L367.1 1612.6 L368.3 1614.3 L369.5 1615.9 L370.7 1617.4 L371.9 1619.0 L373.2 1620.6 L374.5 1622.2 L375.8 1623.7 L377.1 1625.2 L378.5 1626.8 L379.8 1628.3 L381.2 1629.8 L382.6 1631.3 L384.1 1632.8 L385.5 1634.2 L387.0 1635.7 L388.5 1637.2 L390.0 1638.6 L390.0 1636.6 L390.1 1634.6 L390.1 1632.6 L390.2 1630.5 L390.2 1628.5 L390.3 1626.5 L390.4 1624.5 L390.4 1622.5 L390.5 1620.5 L390.6 1618.5 L390.6 1616.5 L390.7 1614.5 L390.8 1612.4 L390.9 1610.4 L390.9 1608.4 L391.0 1606.4 L391.1 1604.4 L391.2 1602.4 L391.3 1600.4 L391.4 1598.4 L391.4 1596.4 L391.5 1594.4 L391.6 1592.4 L391.7 1590.4 L391.8 1588.4 L391.9 1586.3 L392.0 1584.3 L392.1 1582.3 L392.2 1580.3 L392.3 1578.3 L392.3 1576.3 L392.4 1574.3 L392.5 1572.3 L392.6 1570.3 L392.7 1568.3 L392.8 1566.3 L392.9 1564.3 L393.0 1562.3 L393.0 1560.3 L393.1 1558.3 L393.2 1556.3 L393.3 1554.3 L393.4 1552.3 L393.4 1550.2 L393.5 1548.2 L393.6 1546.2 L393.7 1544.2 L393.7 1542.2 L393.8 1540.2 L393.8 1538.2 L393.9 1536.2 L393.9 1534.2 L394.0 1532.2 L394.0 1530.2 L394.1 1528.2 L394.1 1526.2 L394.2 1524.2 L394.2 1522.1 L394.2 1520.1 L394.2 1518.1 L394.3 1516.1 L394.3 1514.1 L394.3 1512.1 L394.3 1510.1 L394.3 1508.1 L394.3 1506.1 L394.3 1504.0 L394.3 1502.0 L394.2 1500.0 L394.2 1498.0 L394.2 1496.0 L394.1 1494.0 L394.1 1491.9 L394.1 1489.9 L394.0 1487.9 L394.0 1485.9 L393.9 1483.9 L393.9 1481.9 L393.8 1479.8 L393.8 1477.8 L393.7 1475.8 L393.7 1473.8 L393.6 1471.8 L393.6 1469.7 L393.6 1467.7 L393.5 1465.7 L393.5 1463.7 L393.5 1461.7 L393.5 1459.6 L393.5 1457.6 L393.5 1455.6 L393.5 1453.6 L393.5 1451.6 L393.5 1449.6 L393.6 1447.5 L393.6 1445.5 L393.7 1443.5 L393.8 1441.5 L393.9 1439.5 L394.0 1437.5 L394.1 1435.5 L394.2 1433.5 L394.4 1431.4 L394.5 1429.4 L394.7 1427.4 L394.9 1425.4 L395.1 1423.4 L395.4 1421.4 L395.6 1419.4 L395.9 1417.4 L396.2 1415.4 L396.5 1413.4 L396.9 1411.4 L397.2 1409.4 L397.6 1407.4 L398.0 1405.4 L398.5 1403.4 L398.9 1401.4 L399.4 1399.5 L399.9 1397.5 L400.5 1395.5 L401.0 1393.5 L401.6 1391.6 L402.3 1389.6 L403.0 1387.7 L403.7 1385.8 L404.4 1383.9 L405.2 1382.1 L406.1 1380.3 L407.0 1378.6 L407.9 1376.8 L408.9 1375.2 L410.0 1373.6 L411.1 1372.0 L412.2 1370.5 L413.5 1369.1 L414.7 1367.7 L416.1 1366.4 L417.5 1365.1 L419.0 1364.0 L420.5 1362.9 L422.2 1361.9 L423.9 1361.0 L425.6 1360.2 L427.5 1359.5 L429.4 1358.8 L431.3 1358.3 L433.3 1357.8 L435.4 1357.3 L437.5 1357.0 L439.6 1356.7 L441.7 1356.4 L443.8 1356.2 L446.0 1356.0 L448.1 1355.8 L450.3 1355.7 L452.4 1355.6 L454.5 1355.6 L456.5 1355.5 L458.6 1355.4 L460.6 1355.4 L462.5 1355.3 L464.4 1355.3 L466.2 1355.2 L466.5 1357.1 L466.7 1359.0 L466.9 1360.9 L467.2 1362.8 L467.4 1364.8 L467.6 1366.7 L467.8 1368.6 L468.0 1370.6 L468.2 1372.5 L468.4 1374.5 L468.6 1376.4 L468.8 1378.4 L469.0 1380.3 L469.2 1382.3 L469.3 1384.3 L469.5 1386.2 L469.7 1388.2 L469.8 1390.2 L470.0 1392.2 L470.1 1394.1 L470.3 1396.1 L470.4 1398.1 L470.6 1400.1 L470.7 1402.1 L470.9 1404.1 L471.0 1406.1 L471.1 1408.1 L471.3 1410.1 L471.4 1412.1 L471.6 1414.1 L471.7 1416.2 L471.8 1418.2 L472.0 1420.2 L472.1 1422.2 L472.2 1424.2 L472.4 1426.2 L472.5 1428.3 L472.7 1430.3 L472.8 1432.3 L473.0 1434.3 L473.1 1436.4 L473.2 1438.4 L473.4 1440.4 L473.6 1442.4 L473.7 1444.5 L473.9 1446.5 L474.0 1448.5 L474.2 1450.5 L474.4 1452.6 L474.5 1454.6 L474.7 1456.6 L474.9 1458.6 L475.1 1460.7 L475.3 1462.7 L475.5 1464.7 L475.7 1466.7 L475.9 1468.8 L476.1 1470.8 L476.3 1472.8 L476.6 1474.8 L476.8 1476.8 L477.0 1478.8 L477.3 1480.8 L477.5 1482.8 L477.8 1484.9 L478.1 1486.9 L478.4 1488.9 L478.6 1490.9 L478.9 1492.9 L479.2 1494.8 L479.6 1496.8 L479.9 1498.8 L480.2 1500.8 L480.5 1502.8 L480.9 1504.8 L481.3 1506.7 L481.6 1508.7 L482.0 1510.7 L482.4 1512.6 L482.8 1514.6 L483.2 1516.6 L483.7 1518.5 L484.1 1520.5 L484.6 1522.4 L485.0 1524.3 L485.5 1526.3 L486.0 1528.2 L486.5 1530.1 L487.0 1532.0 L487.5 1533.9 L488.1 1535.9 L488.6 1537.8 L489.2 1539.7 L489.8 1541.5 L490.4 1543.4 L491.0 1545.3 L491.6 1547.2 L492.3 1549.0 L492.9 1550.9 L493.6 1552.8 L494.3 1554.6 L495.0 1556.5 L495.7 1558.3 L496.5 1560.1 L497.2 1561.9 L498.0 1563.7 L498.8 1565.5 L499.6 1567.3 L500.4 1569.1 L501.3 1570.9 L502.1 1572.7 L503.0 1574.4 L503.9 1576.2 L504.8 1577.9 L505.8 1579.6 L506.7 1581.4 L507.7 1583.1 L508.7 1584.8 L509.7 1586.5 L510.7 1588.1 L511.8 1589.8 L512.9 1591.5 L514.0 1593.1 L515.1 1594.7 L516.2 1596.3 L517.4 1597.9 L518.5 1599.5 L519.7 1601.1 L521.0 1602.7 L522.2 1604.2 L523.5 1605.8 L524.7 1607.3 L526.1 1608.8 L527.4 1610.3 L528.7 1611.8 L530.1 1613.3 L531.5 1614.7 L532.9 1616.2 L534.4 1617.6 L535.9 1619.0 L537.4 1620.4 L538.9 1621.8 L540.4 1623.1 L542.0 1624.5 L543.6 1625.8 L545.2 1627.1 L545.4 1625.1 L545.6 1623.1 L545.9 1621.1 L546.1 1619.0 L546.2 1617.0 L546.4 1615.0 L546.6 1613.0 L546.8 1611.0 L546.9 1609.0 L547.1 1607.0 L547.2 1605.0 L547.4 1602.9 L547.5 1600.9 L547.6 1598.9 L547.8 1596.9 L547.9 1594.9 L548.0 1592.9 L548.1 1590.9 L548.2 1588.9 L548.3 1586.9 L548.4 1584.9 L548.4 1582.9 L548.5 1580.9 L548.6 1578.8 L548.6 1576.8 L548.7 1574.8 L548.8 1572.8 L548.8 1570.8 L548.9 1568.8 L548.9 1566.8 L549.0 1564.8 L549.0 1562.8 L549.0 1560.8 L549.1 1558.8 L549.1 1556.8 L549.1 1554.8 L549.1 1552.8 L549.2 1550.8 L549.2 1548.8 L549.2 1546.8 L549.2 1544.8 L549.2 1542.8 L549.2 1540.8 L549.2 1538.8 L549.2 1536.8 L549.3 1534.8 L549.3 1532.8 L549.3 1530.8 L549.3 1528.8 L549.3 1526.8 L549.3 1524.8 L549.3 1522.8 L549.3 1520.8 L549.3 1518.8 L549.3 1516.8 L549.3 1514.8 L549.3 1512.8 L549.3 1510.8 L549.4 1508.8 L549.4 1506.8 L549.4 1504.7 L549.4 1502.7 L549.4 1500.7 L549.4 1498.7 L549.5 1496.7 L549.5 1494.7 L549.5 1492.7 L549.5 1490.7 L549.6 1488.7 L549.6 1486.7 L549.7 1484.7 L549.7 1482.7 L549.7 1480.7 L549.8 1478.7 L549.9 1476.7 L549.9 1474.7 L550.0 1472.7 L550.0 1470.7 L550.1 1468.7 L550.2 1466.6 L550.3 1464.6 L550.4 1462.6 L550.5 1460.6 L550.6 1458.6 L550.7 1456.6 L550.8 1454.6 L550.9 1452.6 L551.0 1450.6 L551.2 1448.5 L551.3 1446.5 L551.5 1444.5 L551.6 1442.5 L551.8 1440.5 L551.9 1438.5 L552.1 1436.5 L552.3 1434.4 L552.5 1432.4 L552.7 1430.4 L552.9 1428.4 L553.1 1426.4 L553.3 1424.3 L553.6 1422.3 L553.8 1420.3 L554.1 1418.3 L554.3 1416.3 L554.6 1414.2 L554.9 1412.2 L555.2 1410.2 L555.5 1408.2 L555.8 1406.1 L556.1 1404.1 L556.4 1402.1 L556.8 1400.0 L557.1 1398.0 L557.5 1396.0 L557.9 1393.9 L558.3 1391.9 L558.7 1389.9 L559.1 1387.9 L559.6 1385.9 L560.1 1383.9 L560.6 1382.0 L561.2 1380.2 L561.9 1378.3 L562.6 1376.5 L563.4 1374.8 L564.2 1373.2 L565.1 1371.6 L566.1 1370.2 L567.2 1368.8 L568.4 1367.5 L569.7 1366.3 L571.1 1365.2 L572.6 1364.2 L574.1 1363.4 L575.8 1362.6 L577.6 1362.0 L579.4 1361.4 L581.3 1361.0 L583.3 1360.6 L585.3 1360.4 L587.4 1360.2 L589.5 1360.1 L591.7 1360.1 L593.9 1360.2 L596.1 1360.4 L598.3 1360.6 L600.5 1360.8 L602.7 1361.1 L604.9 1361.4 L607.0 1361.8 L609.1 1362.1 L611.2 1362.4 L613.2 1362.8 L615.1 1363.1 L617.0 1363.4 L618.8 1363.6 L620.5 1363.8 L620.7 1365.7 L620.8 1367.7 L621.0 1369.6 L621.1 1371.5 L621.3 1373.5 L621.4 1375.4 L621.5 1377.4 L621.7 1379.3 L621.8 1381.3 L621.9 1383.3 L622.1 1385.2 L622.2 1387.2 L622.3 1389.2 L622.4 1391.2 L622.5 1393.2 L622.7 1395.2 L622.8 1397.2 L622.9 1399.2 L623.0 1401.2 L623.1 1403.2 L623.2 1405.2 L623.3 1407.2 L623.4 1409.2 L623.6 1411.2 L623.7 1413.2 L623.8 1415.2 L623.9 1417.3 L624.0 1419.3 L624.1 1421.3 L624.3 1423.3 L624.4 1425.4 L624.5 1427.4 L624.6 1429.4 L624.8 1431.5 L624.9 1433.5 L625.0 1435.5 L625.2 1437.6 L625.3 1439.6 L625.4 1441.6 L625.6 1443.7 L625.7 1445.7 L625.9 1447.7 L626.1 1449.8 L626.2 1451.8 L626.4 1453.8 L626.6 1455.9 L626.7 1457.9 L626.9 1459.9 L627.1 1462.0 L627.3 1464.0 L627.5 1466.0 L627.7 1468.1 L627.9 1470.1 L628.2 1472.1 L628.4 1474.1 L628.6 1476.2 L628.9 1478.2 L629.1 1480.2 L629.4 1482.2 L629.7 1484.2 L629.9 1486.2 L630.2 1488.2 L630.5 1490.3 L630.8 1492.3 L631.1 1494.3 L631.4 1496.2 L631.8 1498.2 L632.1 1500.2 L632.5 1502.2 L632.8 1504.2 L633.2 1506.2 L633.6 1508.1 L634.0 1510.1 L634.4 1512.1 L634.8 1514.0 L635.2 1516.0 L635.7 1517.9 L636.1 1519.9 L636.6 1521.8 L637.0 1523.8 L637.5 1525.7 L638.0 1527.6 L638.5 1529.5 L639.1 1531.4 L639.6 1533.4 L640.2 1535.3 L640.7 1537.2 L641.3 1539.0 L641.9 1540.9 L642.5 1542.8 L643.2 1544.7 L643.8 1546.5 L644.5 1548.4 L645.1 1550.2 L645.8 1552.1 L646.5 1553.9 L647.2 1555.7 L648.0 1557.6 L648.7 1559.4 L649.5 1561.2 L650.3 1563.0 L651.1 1564.8 L651.9 1566.5 L652.7 1568.3 L653.6 1570.1 L654.5 1571.8 L655.4 1573.6 L656.3 1575.3 L657.2 1577.0 L658.1 1578.8 L659.1 1580.5 L660.1 1582.2 L661.1 1583.9 L662.1 1585.5 L663.2 1587.2 L664.2 1588.9 L665.3 1590.5 L666.4 1592.1 L667.6 1593.8 L668.7 1595.4 L669.9 1597.0 L671.1 1598.6 L672.3 1600.2 L673.5 1601.8 L674.8 1603.3 L676.1 1604.9 L677.4 1606.4 L678.7 1607.9 L680.0 1609.5 L681.4 1611.0 L682.8 1612.5 L684.2 1613.9 L685.7 1615.4 L687.1 1616.9 L688.6 1618.3 L690.1 1619.7 L691.7 1621.2 L693.3 1622.6 L694.8 1624.0 L696.5 1625.3 L698.1 1626.7 L698.2 1624.6 L698.4 1622.6 L698.5 1620.5 L698.6 1618.4 L698.7 1616.4 L698.9 1614.3 L699.0 1612.3 L699.1 1610.2 L699.2 1608.2 L699.3 1606.2 L699.4 1604.1 L699.5 1602.1 L699.6 1600.1 L699.7 1598.0 L699.8 1596.0 L699.9 1594.0 L700.0 1592.0 L700.0 1589.9 L700.1 1587.9 L700.2 1585.9 L700.3 1583.9 L700.4 1581.9 L700.4 1579.9 L700.5 1577.9 L700.6 1575.9 L700.6 1573.9 L700.7 1571.9 L700.8 1569.9 L700.8 1567.9 L700.9 1565.9 L701.0 1563.9 L701.0 1561.9 L701.1 1559.9 L701.2 1557.9 L701.2 1555.9 L701.3 1553.9 L701.3 1552.0 L701.4 1550.0 L701.4 1548.0 L701.5 1546.0 L701.6 1544.0 L701.6 1542.0 L701.7 1540.1 L701.7 1538.1 L701.8 1536.1 L701.8 1534.1 L701.9 1532.1 L701.9 1530.2 L702.0 1528.2 L702.0 1526.2 L702.1 1524.2 L702.2 1522.2 L702.2 1520.3 L702.3 1518.3 L702.3 1516.3 L702.4 1514.3 L702.5 1512.3 L702.5 1510.4 L702.6 1508.4 L702.6 1506.4 L702.7 1504.4 L702.8 1502.4 L702.8 1500.5 L702.9 1498.5 L703.0 1496.5 L703.1 1494.5 L703.1 1492.5 L703.2 1490.5 L703.3 1488.5 L703.4 1486.5 L703.5 1484.5 L703.5 1482.5 L703.6 1480.6 L703.7 1478.6 L703.8 1476.6 L703.9 1474.6 L704.0 1472.5 L704.1 1470.5 L704.2 1468.5 L704.3 1466.5 L704.4 1464.5 L704.6 1462.5 L704.7 1460.5 L704.8 1458.5 L704.9 1456.4 L705.0 1454.4 L705.2 1452.4 L705.3 1450.4 L705.4 1448.3 L705.6 1446.3 L705.7 1444.3 L705.9 1442.2 L706.0 1440.2 L706.2 1438.1 L706.3 1436.1 L706.5 1434.0 L706.7 1432.0 L706.9 1429.9 L707.0 1427.9 L707.2 1425.8 L707.4 1423.7 L707.6 1421.6 L707.8 1419.6 L708.0 1417.5 L708.2 1415.4 L708.4 1413.3 L708.7 1411.2 L708.9 1409.2 L709.2 1407.1 L709.5 1405.1 L709.8 1403.0 L710.2 1401.0 L710.6 1399.0 L711.0 1397.0 L711.5 1395.0 L712.0 1393.1 L712.5 1391.2 L713.1 1389.3 L713.8 1387.4 L714.5 1385.6 L715.2 1383.8 L716.0 1382.1 L716.9 1380.4 L717.8 1378.7 L718.8 1377.1 L719.9 1375.5 L721.1 1373.9 L722.3 1372.5 L723.6 1371.1 L725.0 1369.7 L726.5 1368.5 L728.0 1367.4 L729.6 1366.4 L731.3 1365.5 L733.1 1364.9 L734.9 1364.4 L736.9 1364.1 L738.8 1363.9 L740.8 1363.8 L742.9 1363.8 L745.0 1364.0 L747.1 1364.1 L749.2 1364.4 L751.3 1364.6 L753.4 1364.8 L755.5 1365.1 L757.6 1365.3 L759.7 1365.6 L761.7 1365.8 L763.8 1366.0 L765.8 1366.2 L767.8 1366.4 L769.8 1366.5 L771.8 1366.6 L773.8 1366.7 L775.7 1366.7 L777.6 1366.7 L777.7 1368.6 L777.7 1370.6 L777.8 1372.5 L777.8 1374.5 L777.9 1376.4 L778.0 1378.4 L778.0 1380.3 L778.1 1382.3 L778.1 1384.3 L778.2 1386.2 L778.2 1388.2 L778.2 1390.2 L778.3 1392.2 L778.3 1394.2 L778.4 1396.1 L778.4 1398.1 L778.5 1400.1 L778.5 1402.1 L778.6 1404.1 L778.6 1406.1 L778.7 1408.1 L778.7 1410.1 L778.8 1412.2 L778.8 1414.2 L778.9 1416.2 L778.9 1418.2 L779.0 1420.2 L779.1 1422.2 L779.1 1424.3 L779.2 1426.3 L779.3 1428.3 L779.3 1430.3 L779.4 1432.3 L779.5 1434.4 L779.6 1436.4 L779.7 1438.4 L779.8 1440.4 L779.9 1442.5 L780.0 1444.5 L780.1 1446.5 L780.2 1448.5 L780.3 1450.6 L780.4 1452.6 L780.6 1454.6 L780.7 1456.7 L780.9 1458.7 L781.0 1460.7 L781.2 1462.7 L781.3 1464.7 L781.5 1466.8 L781.7 1468.8 L781.9 1470.8 L782.1 1472.8 L782.3 1474.8 L782.5 1476.9 L782.7 1478.9 L782.9 1480.9 L783.2 1482.9 L783.4 1484.9 L783.7 1486.9 L784.0 1488.9 L784.2 1490.9 L784.5 1492.9 L784.8 1494.9 L785.1 1496.9 L785.4 1498.8 L785.8 1500.8 L786.1 1502.8 L786.4 1504.8 L786.8 1506.8 L787.2 1508.7 L787.6 1510.7 L788.0 1512.7 L788.4 1514.6 L788.8 1516.6 L789.2 1518.5 L789.7 1520.5 L790.1 1522.4 L790.6 1524.3 L791.1 1526.3 L791.6 1528.2 L792.1 1530.1 L792.6 1532.0 L793.2 1533.9 L793.7 1535.8 L794.3 1537.7 L794.9 1539.6 L795.5 1541.5 L796.1 1543.4 L796.8 1545.3 L797.4 1547.1 L798.1 1549.0 L798.8 1550.9 L799.4 1552.7 L800.2 1554.6 L800.9 1556.4 L801.6 1558.2 L802.4 1560.0 L803.2 1561.9 L804.0 1563.7 L804.8 1565.5 L805.6 1567.3 L806.5 1569.1 L807.4 1570.8 L808.3 1572.6 L809.2 1574.4 L810.1 1576.1 L811.1 1577.9 L812.0 1579.6 L813.0 1581.3 L814.0 1583.0 L815.0 1584.7 L816.1 1586.4 L817.1 1588.1 L818.2 1589.8 L819.3 1591.4 L820.4 1593.1 L821.6 1594.7 L822.7 1596.3 L823.9 1597.9 L825.1 1599.5 L826.3 1601.1 L827.6 1602.6 L828.8 1604.2 L830.1 1605.7 L831.4 1607.2 L832.7 1608.7 L834.0 1610.2 L835.4 1611.7 L836.7 1613.1 L838.1 1614.5 L839.6 1616.0 L841.0 1617.3 L842.4 1618.7 L843.9 1620.1 L845.4 1621.4 L846.9 1622.7 L848.5 1624.0 L850.0 1625.3 L851.6 1626.6 L853.2 1627.8 L854.8 1629.0 L854.8 1627.0 L854.8 1624.9 L854.8 1622.9 L854.8 1620.9 L854.9 1618.9 L854.9 1616.9 L854.9 1614.8 L854.9 1612.8 L855.0 1610.8 L855.0 1608.8 L855.1 1606.8 L855.1 1604.8 L855.2 1602.8 L855.2 1600.8 L855.3 1598.7 L855.3 1596.7 L855.4 1594.7 L855.5 1592.7 L855.5 1590.7 L855.6 1588.7 L855.7 1586.7 L855.8 1584.7 L855.8 1582.7 L855.9 1580.7 L856.0 1578.7 L856.1 1576.7 L856.1 1574.7 L856.2 1572.7 L856.3 1570.7 L856.4 1568.7 L856.5 1566.7 L856.5 1564.7 L856.6 1562.7 L856.7 1560.7 L856.8 1558.7 L856.9 1556.7 L856.9 1554.7 L857.0 1552.7 L857.1 1550.7 L857.2 1548.7 L857.2 1546.7 L857.3 1544.7 L857.4 1542.7 L857.5 1540.7 L857.5 1538.7 L857.6 1536.7 L857.7 1534.7 L857.7 1532.7 L857.8 1530.7 L857.8 1528.7 L857.9 1526.6 L857.9 1524.6 L858.0 1522.6 L858.0 1520.6 L858.1 1518.6 L858.1 1516.6 L858.1 1514.6 L858.1 1512.6 L858.2 1510.6 L858.2 1508.5 L858.2 1506.5 L858.2 1504.5 L858.2 1502.5 L858.2 1500.5 L858.2 1498.4 L858.2 1496.4 L858.2 1494.4 L858.1 1492.4 L858.1 1490.3 L858.1 1488.3 L858.1 1486.3 L858.0 1484.2 L858.0 1482.2 L858.0 1480.2 L858.0 1478.1 L857.9 1476.1 L857.9 1474.1 L857.9 1472.0 L857.9 1470.0 L857.9 1468.0 L857.9 1466.0 L857.9 1463.9 L857.9 1461.9 L857.9 1459.9 L857.9 1457.8 L857.9 1455.8 L858.0 1453.8 L858.0 1451.8 L858.1 1449.7 L858.2 1447.7 L858.2 1445.7 L858.3 1443.7 L858.5 1441.7 L858.6 1439.6 L858.7 1437.6 L858.9 1435.6 L859.0 1433.6 L859.2 1431.6 L859.4 1429.6 L859.7 1427.6 L859.9 1425.6 L860.2 1423.6 L860.4 1421.6 L860.7 1419.6 L861.1 1417.6 L861.4 1415.7 L861.8 1413.7 L862.1 1411.7 L862.6 1409.7 L863.0 1407.8 L863.5 1405.8 L864.0 1403.9 L864.5 1401.9 L865.0 1400.0 L865.6 1398.0 L866.2 1396.1 L866.8 1394.2 L867.5 1392.2 L868.2 1390.3 L868.9 1388.4 L869.7 1386.6 L870.5 1384.7 L871.3 1382.9 L872.2 1381.2 L873.2 1379.5 L874.2 1377.8 L875.3 1376.2 L876.4 1374.7 L877.6 1373.3 L878.8 1371.9 L880.1 1370.7 L881.5 1369.5 L883.0 1368.4 L884.5 1367.4 L886.1 1366.5 L887.8 1365.8 L889.6 1365.2 L891.5 1364.7 L893.4 1364.3 L895.4 1364.0 L897.5 1363.9 L899.7 1363.9 L901.9 1363.9 L904.1 1364.0 L906.3 1364.1 L908.6 1364.3 L910.8 1364.5 L913.1 1364.7 L915.3 1364.9 L917.5 1365.1 L919.6 1365.2 L921.6 1365.3 L923.6 1365.3 L925.5 1365.2 L927.3 1365.1 L929.0 1364.8 L929.2 1366.7 L929.3 1368.7 L929.5 1370.6 L929.6 1372.6 L929.8 1374.5 L929.9 1376.5 L930.1 1378.4 L930.2 1380.4 L930.3 1382.4 L930.5 1384.3 L930.6 1386.3 L930.7 1388.3 L930.9 1390.3 L931.0 1392.3 L931.1 1394.3 L931.2 1396.3 L931.4 1398.2 L931.5 1400.2 L931.6 1402.2 L931.7 1404.3 L931.8 1406.3 L932.0 1408.3 L932.1 1410.3 L932.2 1412.3 L932.3 1414.3 L932.4 1416.3 L932.6 1418.3 L932.7 1420.4 L932.8 1422.4 L932.9 1424.4 L933.1 1426.4 L933.2 1428.5 L933.3 1430.5 L933.5 1432.5 L933.6 1434.6 L933.7 1436.6 L933.9 1438.6 L934.0 1440.7 L934.2 1442.7 L934.3 1444.7 L934.5 1446.8 L934.6 1448.8 L934.8 1450.8 L935.0 1452.9 L935.1 1454.9 L935.3 1456.9 L935.5 1459.0 L935.7 1461.0 L935.9 1463.0 L936.1 1465.1 L936.3 1467.1 L936.5 1469.1 L936.7 1471.2 L936.9 1473.2 L937.2 1475.2 L937.4 1477.2 L937.6 1479.3 L937.9 1481.3 L938.1 1483.3 L938.4 1485.3 L938.7 1487.3 L939.0 1489.3 L939.2 1491.4 L939.5 1493.4 L939.8 1495.4 L940.2 1497.4 L940.5 1499.4 L940.8 1501.4 L941.2 1503.4 L941.5 1505.4 L941.9 1507.4 L942.2 1509.3 L942.6 1511.3 L943.0 1513.3 L943.4 1515.3 L943.8 1517.2 L944.2 1519.2 L944.7 1521.2 L945.1 1523.1 L945.6 1525.1 L946.1 1527.0 L946.5 1529.0 L947.0 1530.9 L947.5 1532.9 L948.0 1534.8 L948.6 1536.7 L949.1 1538.7 L949.7 1540.6 L950.3 1542.5 L950.8 1544.4 L951.4 1546.3 L952.0 1548.2 L952.7 1550.1 L953.3 1552.0 L954.0 1553.8 L954.6 1555.7 L955.3 1557.6 L956.0 1559.4 L956.8 1561.3 L957.5 1563.1 L958.3 1564.9 L959.0 1566.8 L959.8 1568.6 L960.6 1570.4 L961.5 1572.1 L962.3 1573.9 L963.2 1575.7 L964.1 1577.4 L965.0 1579.2 L965.9 1580.9 L966.9 1582.6 L967.9 1584.4 L968.9 1586.0 L969.9 1587.7 L970.9 1589.4 L972.0 1591.1 L973.1 1592.7 L974.2 1594.3 L975.3 1595.9 L976.5 1597.5 L977.7 1599.1 L978.9 1600.7 L980.1 1602.2 L981.4 1603.8 L982.7 1605.3 L984.0 1606.8 L985.3 1608.3 L986.7 1609.7 L988.1 1611.2 L989.5 1612.6 L991.0 1614.0 L992.4 1615.4 L993.9 1616.8 L995.5 1618.2 L997.0 1619.5 L998.6 1620.8 L1000.3 1622.1 L1001.9 1623.4 L1003.6 1624.7 L1005.3 1625.9 L1007.1 1627.1 L1007.2 1625.1 L1007.2 1623.1 L1007.3 1621.1 L1007.4 1619.1 L1007.5 1617.1 L1007.5 1615.1 L1007.6 1613.1 L1007.7 1611.1 L1007.8 1609.1 L1007.8 1607.1 L1007.9 1605.1 L1008.0 1603.1 L1008.1 1601.1 L1008.2 1599.1 L1008.3 1597.1 L1008.4 1595.1 L1008.4 1593.1 L1008.5 1591.0 L1008.6 1589.0 L1008.7 1587.0 L1008.8 1585.0 L1008.9 1583.0 L1009.0 1581.0 L1009.1 1579.0 L1009.1 1577.0 L1009.2 1575.0 L1009.3 1573.0 L1009.4 1571.0 L1009.5 1569.0 L1009.6 1567.0 L1009.7 1565.0 L1009.7 1563.0 L1009.8 1560.9 L1009.9 1558.9 L1010.0 1556.9 L1010.1 1554.9 L1010.1 1552.9 L1010.2 1550.9 L1010.3 1548.9 L1010.3 1546.9 L1010.4 1544.9 L1010.5 1542.9 L1010.5 1540.9 L1010.6 1538.9 L1010.7 1536.8 L1010.7 1534.8 L1010.8 1532.8 L1010.8 1530.8 L1010.9 1528.8 L1010.9 1526.8 L1011.0 1524.8 L1011.0 1522.8 L1011.0 1520.8 L1011.1 1518.8 L1011.1 1516.8 L1011.1 1514.8 L1011.2 1512.8 L1011.2 1510.8 L1011.2 1508.7 L1011.2 1506.7 L1011.2 1504.7 L1011.2 1502.7 L1011.2 1500.7 L1011.2 1498.7 L1011.2 1496.7 L1011.2 1494.7 L1011.2 1492.7 L1011.1 1490.7 L1011.1 1488.7 L1011.1 1486.7 L1011.0 1484.7 L1011.0 1482.7 L1011.0 1480.7 L1010.9 1478.7 L1010.8 1476.7 L1010.8 1474.7 L1010.7 1472.7 L1010.7 1470.7 L1010.6 1468.7 L1010.5 1466.7 L1010.5 1464.7 L1010.4 1462.7 L1010.4 1460.7 L1010.4 1458.7 L1010.3 1456.7 L1010.3 1454.7 L1010.3 1452.7 L1010.3 1450.7 L1010.4 1448.7 L1010.4 1446.7 L1010.5 1444.8 L1010.6 1442.8 L1010.7 1440.8 L1010.8 1438.8 L1011.0 1436.8 L1011.1 1434.8 L1011.3 1432.9 L1011.6 1430.9 L1011.8 1428.9 L1012.1 1426.9 L1012.5 1425.0 L1012.8 1423.0 L1013.2 1421.0 L1013.7 1419.1 L1014.1 1417.1 L1014.7 1415.1 L1015.2 1413.2 L1015.8 1411.2 L1016.3 1409.2 L1016.9 1407.3 L1017.6 1405.3 L1018.2 1403.3 L1018.8 1401.3 L1019.5 1399.3 L1020.1 1397.3 L1020.8 1395.2 L1021.5 1393.2 L1022.1 1391.1 L1022.8 1389.1 L1023.5 1387.1 L1024.3 1385.1 L1025.1 1383.2 L1025.9 1381.4 L1026.8 1379.6 L1027.8 1378.0 L1028.8 1376.4 L1030.0 1374.9 L1031.2 1373.6 L1032.5 1372.4 L1033.9 1371.3 L1035.3 1370.3 L1036.9 1369.5 L1038.5 1368.8 L1040.2 1368.2 L1041.9 1367.7 L1043.7 1367.3 L1045.6 1367.0 L1047.5 1366.8 L1049.5 1366.7 L1051.4 1366.7 L1053.5 1366.8 L1055.5 1366.9 L1057.6 1367.2 L1059.7 1367.5 L1061.8 1367.9 L1063.9 1368.3 L1066.0 1368.8 L1068.1 1369.3 L1070.1 1369.9 L1072.1 1370.5 L1074.1 1371.1 L1076.1 1371.8 L1078.0 1372.4 L1079.8 1373.0 L1081.6 1373.7 L1083.3 1374.3 L1083.5 1376.3 L1083.6 1378.3 L1083.8 1380.2 L1084.0 1382.2 L1084.1 1384.2 L1084.3 1386.2 L1084.4 1388.2 L1084.6 1390.2 L1084.7 1392.1 L1084.9 1394.1 L1085.0 1396.1 L1085.2 1398.1 L1085.3 1400.1 L1085.5 1402.1 L1085.6 1404.1 L1085.7 1406.1 L1085.9 1408.1 L1086.0 1410.1 L1086.2 1412.1 L1086.3 1414.1 L1086.5 1416.1 L1086.6 1418.1 L1086.7 1420.1 L1086.9 1422.1 L1087.0 1424.1 L1087.2 1426.0 L1087.3 1428.0 L1087.5 1430.0 L1087.6 1432.0 L1087.8 1434.0 L1087.9 1436.0 L1088.1 1438.0 L1088.2 1440.0 L1088.4 1442.0 L1088.5 1444.0 L1088.7 1446.0 L1088.9 1448.0 L1089.0 1450.0 L1089.2 1452.0 L1089.4 1454.0 L1089.5 1456.0 L1089.7 1458.0 L1089.9 1460.0 L1090.1 1462.0 L1090.3 1464.0 L1090.5 1466.0 L1090.7 1468.0 L1090.9 1470.0 L1091.1 1472.0 L1091.3 1474.0 L1091.5 1476.0 L1091.7 1478.0 L1091.9 1480.0 L1092.2 1482.0 L1092.4 1484.0 L1092.6 1486.0 L1092.9 1488.0 L1093.1 1490.0 L1093.4 1491.9 L1093.7 1493.9 L1093.9 1495.9 L1094.2 1497.9 L1094.5 1499.9 L1094.8 1501.9 L1095.1 1503.9 L1095.4 1505.8 L1095.7 1507.8 L1096.0 1509.8 L1096.3 1511.8 L1096.7 1513.8 L1097.0 1515.7 L1097.3 1517.7 L1097.7 1519.7 L1098.1 1521.6 L1098.4 1523.6 L1098.8 1525.6 L1099.2 1527.5 L1099.6 1529.5 L1100.0 1531.5 L1100.4 1533.4 L1100.9 1535.4 L1101.3 1537.3 L1101.8 1539.3 L1102.2 1541.2 L1102.7 1543.2 L1103.2 1545.1 L1103.7 1547.0 L1104.2 1548.9 L1104.8 1550.8 L1105.3 1552.7 L1105.9 1554.6 L1106.5 1556.5 L1107.1 1558.4 L1107.8 1560.3 L1108.4 1562.1 L1109.1 1564.0 L1109.8 1565.8 L1110.5 1567.7 L1111.2 1569.5 L1112.0 1571.3 L1112.8 1573.1 L1113.6 1574.9 L1114.4 1576.7 L1115.3 1578.4 L1116.1 1580.2 L1117.0 1581.9 L1118.0 1583.6 L1118.9 1585.4 L1119.9 1587.0 L1121.0 1588.7 L1122.0 1590.4 L1123.1 1592.0 L1124.2 1593.7 L1125.3 1595.3 L1126.5 1596.9 L1127.7 1598.5 L1128.9 1600.0 L1130.2 1601.6 L1131.5 1603.1 L1132.8 1604.6 L1134.2 1606.1 L1135.5 1607.6 L1137.0 1609.0 L1138.4 1610.5 L1139.9 1611.9 L1141.4 1613.3" fill="none" stroke="#FF3F3F" stroke-width="4.6" stroke-linejoin="round" stroke-linecap="round"/>
<g fill="#FF3F3F"><circle cx="157.0" cy="1700.0" r="10.3"/><circle cx="192.5" cy="1703.5" r="10.3"/><circle cx="228.0" cy="1708.5" r="10.3"/><circle cx="265.7" cy="1352.4" r="10.3"/><circle cx="301.4" cy="1345.7" r="10.3"/><circle cx="336.7" cy="1552.9" r="10.3"/><circle cx="372.9" cy="1621.4" r="10.3"/><circle cx="410.0" cy="1373.3" r="10.3"/><circle cx="444.3" cy="1357.1" r="10.3"/><circle cx="481.4" cy="1513.8" r="10.3"/><circle cx="517.6" cy="1600.5" r="10.3"/><circle cx="553.3" cy="1428.6" r="10.3"/><circle cx="589.5" cy="1359.5" r="10.3"/><circle cx="625.7" cy="1423.0" r="10.3"/><circle cx="662.4" cy="1587.1" r="10.3"/><circle cx="698.1" cy="1626.7" r="10.3"/><circle cx="733.3" cy="1364.3" r="10.3"/><circle cx="769.0" cy="1365.7" r="10.3"/><circle cx="805.7" cy="1567.6" r="10.3"/><circle cx="842.4" cy="1621.4" r="10.3"/><circle cx="877.6" cy="1370.5" r="10.3"/><circle cx="913.8" cy="1364.8" r="10.3"/><circle cx="950.5" cy="1540.5" r="10.3"/><circle cx="985.7" cy="1607.6" r="10.3"/><circle cx="1021.4" cy="1397.1" r="10.3"/><circle cx="1057.6" cy="1368.6" r="10.3"/><circle cx="1094.3" cy="1493.8" r="10.3"/><circle cx="1130.0" cy="1597.6" r="10.3"/><circle cx="1141.4" cy="1613.3" r="10.3"/></g>
</g>
<line x1="1381.0" y1="52.8" x2="2412.0" y2="52.8" stroke="#7f8a80" stroke-width="2.3"/>
<line x1="2411.4" y1="52.0" x2="2411.4" y2="794.7" stroke="#c9bfbf" stroke-width="2.6"/>
<line x1="1381.0" y1="217.7" x2="1393.8" y2="217.7" stroke="#222" stroke-width="1.8"/>
<line x1="1381.0" y1="382.6" x2="1393.8" y2="382.6" stroke="#222" stroke-width="1.8"/>
<line x1="1381.0" y1="712.4" x2="1393.8" y2="712.4" stroke="#222" stroke-width="1.8"/>
<line x1="1381.0" y1="547.5" x2="1393.8" y2="547.5" stroke="#bbb" stroke-width="1.8"/>
<line x1="1381.0" y1="135.2" x2="1386.5" y2="135.2" stroke="#555" stroke-width="1.6"/>
<line x1="1381.0" y1="465.1" x2="1386.5" y2="465.1" stroke="#555" stroke-width="1.6"/>
<line x1="1381.0" y1="629.9" x2="1386.5" y2="629.9" stroke="#555" stroke-width="1.6"/>
<text transform="translate(1294.11 64.39) scale(1.0250 1)" font-size="41.90">600</text>
<text transform="translate(1294.11 229.29) scale(1.0250 1)" font-size="41.90">500</text>
<text transform="translate(1294.11 394.19) scale(1.0250 1)" font-size="41.90">400</text>
<text transform="translate(1294.11 559.03) scale(1.0250 1)" font-size="41.90">300</text>
<text transform="translate(1294.11 723.99) scale(1.0250 1)" font-size="41.90">200</text>
<text transform="translate(1586.69 844.40) scale(1.0342 1)" font-size="41.13">5 mW</text>
<text transform="translate(2088.71 844.40) scale(1.0679 1)" font-size="40.54">60 mW</text>
<text transform="translate(1779.99 895.29) scale(1.0361 1)" font-size="41.99">LED Power</text>
<text transform="translate(0 530.50) rotate(-90) translate(-0.49 1274.93) scale(1.0482 1)" font-size="41.30">Time (sec)</text>
<text transform="translate(1396.76 116.64) scale(1.0103 1)" font-size="64.37">(c)</text>
<text transform="translate(2032.60 111.47) scale(1.0543 1)" font-size="41.09">Response Time</text>
<text transform="translate(2032.62 166.25) scale(1.0438 1)" font-size="41.20">Recovery Time</text>
<text transform="translate(2112.14 243.87) scale(1.0089 1)" font-size="64.69">265 nm</text>
<line x1="1922.2" y1="97.5" x2="2024.5" y2="97.5" stroke="#06A35F" stroke-width="4.7"/>
<circle cx="1974" cy="97.5" r="14" fill="#fcfbfc"/>
<g stroke="#06A35F" fill="#fcfbfc"><circle cx="1974.0" cy="97.5" r="15.0" stroke-width="2.5"/><path d="M1957.5 81.0L1990.5 114.0M1957.5 114.0L1990.5 81.0" stroke-width="1.9"/></g>
<line x1="1922.2" y1="151.9" x2="2024.5" y2="151.9" stroke="#FF3F3F" stroke-width="5.0"/>
<circle cx="1974" cy="151.9" r="15" fill="#fcfbfc"/>
<g stroke="#FF3F3F" fill="#fcfbfc"><circle cx="1974.0" cy="151.9" r="15.5" stroke-width="2.5"/><path d="M1956.0 133.9L1992.0 169.9M1956.0 169.9L1992.0 133.9" stroke-width="1.9"/></g>
<g clip-path="url(#clipc)">
<line x1="1637.0" y1="686.1" x2="2152.5" y2="779.8" stroke="#06A35F" stroke-width="4.2"/>
<g stroke="#06A35F" fill="#fcfbfc"><circle cx="1637.0" cy="686.1" r="15.2" stroke-width="2.5"/><path d="M1619.5 668.6L1654.5 703.6M1619.5 703.6L1654.5 668.6" stroke-width="1.9"/></g>
<g stroke="#06A35F" fill="#fcfbfc"><circle cx="2152.5" cy="779.8" r="15.2" stroke-width="2.5"/><path d="M2135.0 762.3L2170.0 797.3M2135.0 797.3L2170.0 762.3" stroke-width="1.9"/></g>
</g>
<line x1="1637.0" y1="97.5" x2="2152.5" y2="619.6" stroke="#FF3F3F" stroke-width="4.2"/>
<g stroke="#FF3F3F" fill="#fcfbfc"><circle cx="1637.0" cy="97.5" r="16.5" stroke-width="2.5"/><path d="M1618.5 79.0L1655.5 116.0M1618.5 116.0L1655.5 79.0" stroke-width="1.9"/></g>
<g stroke="#FF3F3F" fill="#fcfbfc"><circle cx="2152.5" cy="619.6" r="16.0" stroke-width="2.5"/><path d="M2136.0 603.1L2169.0 636.1M2136.0 636.1L2169.0 603.1" stroke-width="1.9"/></g>
<line x1="1381.2" y1="1733.5" x2="2412.0" y2="1733.5" stroke="#333" stroke-width="2.2"/>
<line x1="2411.4" y1="991.0" x2="2411.4" y2="1734.5" stroke="#c9bfbf" stroke-width="2.6"/>
<line x1="1381.0" y1="1054.5" x2="1394.0" y2="1054.5" stroke="#888" stroke-width="1.8"/>
<line x1="1381.0" y1="1183.8" x2="1394.0" y2="1183.8" stroke="#111" stroke-width="1.8"/>
<line x1="1381.0" y1="1313.1" x2="1394.0" y2="1313.1" stroke="#aaa" stroke-width="1.8"/>
<line x1="1381.0" y1="1571.6" x2="1394.0" y2="1571.6" stroke="#ccc" stroke-width="1.8"/>
<line x1="1381.0" y1="1700.9" x2="1394.0" y2="1700.9" stroke="#111" stroke-width="1.8"/>
<line x1="1381.0" y1="1119.1" x2="1386.5" y2="1119.1" stroke="#333" stroke-width="1.6"/>
<line x1="1381.0" y1="1248.4" x2="1386.5" y2="1248.4" stroke="#333" stroke-width="1.6"/>
<line x1="1381.0" y1="1636.3" x2="1386.5" y2="1636.3" stroke="#333" stroke-width="1.6"/>
<text transform="translate(1294.11 1066.09) scale(1.0250 1)" font-size="41.90">600</text>
<text transform="translate(1294.11 1195.37) scale(1.0250 1)" font-size="41.90">500</text>
<text transform="translate(1294.11 1324.65) scale(1.0250 1)" font-size="41.90">400</text>
<text transform="translate(1294.11 1453.87) scale(1.0250 1)" font-size="41.90">300</text>
<text transform="translate(1294.11 1583.21) scale(1.0250 1)" font-size="41.90">200</text>
<text transform="translate(1294.11 1712.49) scale(1.0250 1)" font-size="41.90">100</text>
<text transform="translate(1585.98 1781.19) scale(1.0108 1)" font-size="42.42">5 mW</text>
<text transform="translate(2087.81 1781.19) scale(1.0392 1)" font-size="41.81">60 mW</text>
<text transform="translate(1779.59 1854.08) scale(1.0010 1)" font-size="43.43">LED Power</text>
<text transform="translate(0 1468.30) rotate(-90) translate(-0.49 1274.93) scale(1.0522 1)" font-size="41.30">Time (sec)</text>
<text transform="translate(1402.78 1051.38) scale(0.9979 1)" font-size="64.69">(d)</text>
<text transform="translate(2096.73 1153.18) scale(0.9982 1)" font-size="63.99">365 nm</text>
<line x1="1637.0" y1="1054.7" x2="2152.1" y2="1067.6" stroke="#FF3F3F" stroke-width="3.8"/>
<g stroke="#FF3F3F" fill="#fcfbfc"><circle cx="1637.0" cy="1054.7" r="15.5" stroke-width="2.5"/><path d="M1620.0 1037.7L1654.0 1071.7M1620.0 1071.7L1654.0 1037.7" stroke-width="1.9"/></g>
<g stroke="#FF3F3F" fill="#fcfbfc"><circle cx="2152.1" cy="1067.6" r="15.5" stroke-width="2.5"/><path d="M2135.1 1050.6L2169.1 1084.6M2135.1 1084.6L2169.1 1050.6" stroke-width="1.9"/></g>
<line x1="1637.0" y1="1528.3" x2="2152.9" y2="1669.1" stroke="#06A35F" stroke-width="4.2"/>
<g stroke="#06A35F" fill="#fcfbfc"><circle cx="1637.0" cy="1528.3" r="15.2" stroke-width="2.5"/><path d="M1619.5 1510.8L1654.5 1545.8M1619.5 1545.8L1654.5 1510.8" stroke-width="1.9"/></g>
<g stroke="#06A35F" fill="#fcfbfc"><circle cx="2152.9" cy="1669.1" r="15.2" stroke-width="2.5"/><path d="M2135.4 1651.6L2170.4 1686.6M2135.4 1686.6L2170.4 1651.6" stroke-width="1.9"/></g>
<defs><clipPath id="clipa"><rect x="157" y="40" width="1030" height="770"/></clipPath><clipPath id="clipb"><rect x="157" y="980" width="1030" height="753"/></clipPath></defs>
<defs><clipPath id="clipc"><rect x="1381" y="52" width="1031" height="744"/></clipPath></defs>
</svg></body></html>
